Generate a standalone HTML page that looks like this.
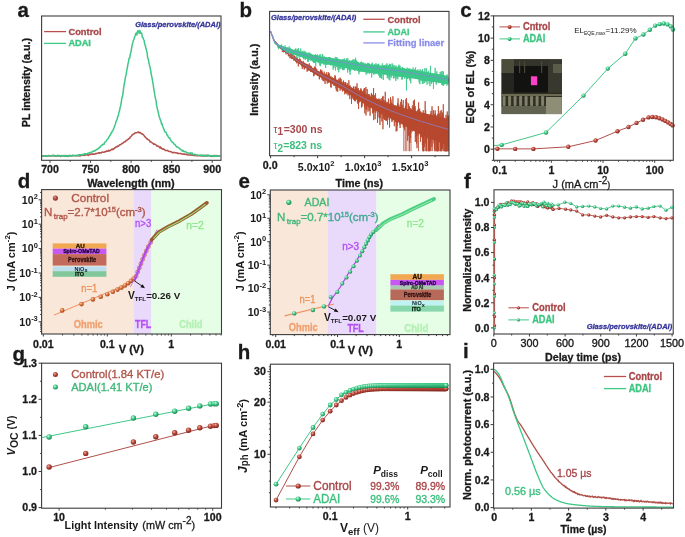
<!DOCTYPE html>
<html><head><meta charset="utf-8"><title>figure</title>
<style>svg{will-change:transform}html,body{margin:0;padding:0;background:#fff;width:685px;height:537px;overflow:hidden}text{font-family:"Liberation Sans",sans-serif}</style>
</head><body>
<svg width="685" height="537" viewBox="0 0 685 537" style="display:block;font-family:'Liberation Sans',sans-serif">
<defs>
<radialGradient id="gr" cx="0.38" cy="0.35" r="0.7"><stop offset="0" stop-color="#f0b0a0"/><stop offset="0.45" stop-color="#b8483c"/><stop offset="1" stop-color="#7a2018"/></radialGradient>
<radialGradient id="gg" cx="0.38" cy="0.35" r="0.7"><stop offset="0" stop-color="#d0ffe8"/><stop offset="0.45" stop-color="#40c888"/><stop offset="1" stop-color="#18804a"/></radialGradient>
<radialGradient id="go" cx="0.38" cy="0.35" r="0.7"><stop offset="0" stop-color="#ffd0b0"/><stop offset="0.45" stop-color="#d8703c"/><stop offset="1" stop-color="#984018"/></radialGradient>
<radialGradient id="gr2" cx="0.38" cy="0.35" r="0.7"><stop offset="0" stop-color="#e09080"/><stop offset="0.5" stop-color="#b04a40"/><stop offset="1" stop-color="#803028"/></radialGradient>
</defs>
<rect width="685" height="537" fill="#ffffff"/>
<polyline points="42.10,155.84 42.70,155.92 43.30,156.35 43.90,156.07 44.50,155.88 45.10,155.73 45.70,155.71 46.30,156.38 46.90,156.05 47.50,155.92 48.10,155.80 48.70,155.57 49.30,155.88 49.90,156.16 50.50,155.78 51.10,155.83 51.70,155.83 52.30,155.93 52.90,155.42 53.50,155.83 54.10,155.64 54.70,156.17 55.30,155.67 55.90,156.07 56.50,156.36 57.10,155.81 57.70,155.72 58.30,155.96 58.90,155.90 59.50,155.60 60.10,156.04 60.70,156.50 61.30,155.82 61.90,155.84 62.50,155.59 63.10,156.00 63.70,155.52 64.30,155.56 64.90,156.28 65.50,155.62 66.10,156.21 66.70,156.34 67.30,155.95 67.90,156.03 68.50,156.44 69.10,155.79 69.70,155.66 70.30,155.42 70.90,155.83 71.50,156.25 72.10,156.08 72.70,155.50 73.30,155.51 73.90,155.61 74.50,155.83 75.10,155.67 75.70,155.78 76.30,155.79 76.90,155.59 77.50,155.64 78.10,155.69 78.70,155.57 79.30,155.72 79.90,156.09 80.50,155.67 81.10,155.47 81.70,154.91 82.30,155.48 82.90,154.74 83.50,154.85 84.10,155.48 84.70,155.38 85.30,155.08 85.90,154.56 86.50,154.90 87.10,154.75 87.70,155.07 88.30,155.49 88.90,154.80 89.50,154.42 90.10,154.22 90.70,154.47 91.30,154.34 91.90,153.95 92.50,154.24 93.10,153.76 93.70,154.34 94.30,154.22 94.90,154.12 95.50,153.55 96.10,153.75 96.70,153.45 97.30,153.26 97.90,153.17 98.50,152.78 99.10,152.62 99.70,153.18 100.30,152.77 100.90,152.77 101.50,152.89 102.10,151.94 102.70,152.10 103.30,152.25 103.90,152.18 104.50,151.81 105.10,152.08 105.70,151.68 106.30,151.09 106.90,151.01 107.50,151.36 108.10,151.07 108.70,150.17 109.30,150.93 109.90,150.48 110.50,150.46 111.10,149.69 111.70,149.44 112.30,148.92 112.90,149.72 113.50,148.61 114.10,148.83 114.70,147.84 115.30,147.76 115.90,146.87 116.50,146.93 117.10,146.99 117.70,145.98 118.30,146.33 118.90,145.77 119.50,145.00 120.10,144.81 120.70,144.45 121.30,144.20 121.90,143.67 122.50,143.19 123.10,142.94 123.70,142.31 124.30,141.81 124.90,141.75 125.50,141.59 126.10,140.42 126.70,140.41 127.30,139.75 127.90,139.17 128.50,139.23 129.10,138.32 129.70,138.35 130.30,137.02 130.90,136.68 131.50,135.80 132.10,134.99 132.70,134.79 133.30,134.07 133.90,133.94 134.50,133.44 135.10,132.83 135.70,132.86 136.30,132.68 136.90,132.79 137.50,132.14 138.10,132.40 138.70,131.99 139.30,132.86 139.90,132.57 140.50,132.61 141.10,133.43 141.70,134.09 142.30,133.66 142.90,134.29 143.50,134.99 144.10,135.53 144.70,136.68 145.30,137.01 145.90,137.68 146.50,138.65 147.10,138.75 147.70,139.59 148.30,139.65 148.90,140.05 149.50,140.32 150.10,141.88 150.70,141.67 151.30,142.27 151.90,142.61 152.50,143.08 153.10,143.45 153.70,144.40 154.30,143.90 154.90,144.12 155.50,144.65 156.10,144.91 156.70,145.89 157.30,146.26 157.90,146.07 158.50,146.28 159.10,146.93 159.70,147.79 160.30,146.86 160.90,148.19 161.50,148.03 162.10,148.97 162.70,148.64 163.30,149.17 163.90,149.08 164.50,149.51 165.10,150.47 165.70,150.55 166.30,150.41 166.90,150.48 167.50,150.37 168.10,151.00 168.70,151.28 169.30,151.43 169.90,151.59 170.50,151.43 171.10,151.90 171.70,152.05 172.30,152.59 172.90,152.89 173.50,152.42 174.10,152.36 174.70,152.69 175.30,152.65 175.90,152.72 176.50,153.04 177.10,152.85 177.70,153.46 178.30,153.35 178.90,153.56 179.50,153.54 180.10,153.48 180.70,153.51 181.30,153.83 181.90,153.84 182.50,154.17 183.10,154.20 183.70,153.89 184.30,154.41 184.90,154.08 185.50,154.39 186.10,154.57 186.70,154.11 187.30,154.84 187.90,154.93 188.50,154.90 189.10,154.88 189.70,154.96 190.30,154.83 190.90,155.09 191.50,155.06 192.10,155.30 192.70,154.96 193.30,155.44 193.90,155.45 194.50,155.41 195.10,155.36 195.70,155.70 196.30,155.07 196.90,155.74 197.50,155.70 198.10,155.74 198.70,155.79 199.30,155.50 199.90,155.64 200.50,155.92 201.10,155.87 201.70,155.82 202.30,155.32 202.90,155.94 203.50,156.15 204.10,156.11 204.70,155.89 205.30,155.36 205.90,156.12 206.50,155.80 207.10,155.10 207.70,155.98 208.30,155.43 208.90,155.49 209.50,155.69 210.10,156.27 210.70,155.78 211.30,155.98 211.90,156.42 212.50,156.38 213.10,155.87 213.70,155.83 214.30,155.52 214.90,155.69 215.50,156.03 216.10,156.02 216.70,155.93 217.30,156.20 217.90,155.67 218.50,155.88 219.10,156.12 219.70,156.08 220.30,156.22" fill="none" stroke="#b5504a" stroke-width="1.5" stroke-linejoin="round"/>
<polyline points="42.10,155.90 42.70,155.99 43.30,155.82 43.90,155.63 44.50,155.76 45.10,155.60 45.70,155.92 46.30,156.30 46.90,155.75 47.50,155.71 48.10,156.05 48.70,156.01 49.30,155.93 49.90,155.62 50.50,155.89 51.10,156.11 51.70,155.50 52.30,155.76 52.90,155.33 53.50,155.51 54.10,155.35 54.70,155.83 55.30,155.52 55.90,155.98 56.50,155.95 57.10,155.84 57.70,155.14 58.30,155.74 58.90,155.89 59.50,155.93 60.10,155.44 60.70,155.76 61.30,155.61 61.90,155.66 62.50,156.22 63.10,155.66 63.70,155.89 64.30,156.16 64.90,155.72 65.50,155.85 66.10,155.91 66.70,155.88 67.30,155.48 67.90,155.85 68.50,156.22 69.10,155.32 69.70,156.02 70.30,155.77 70.90,155.51 71.50,156.27 72.10,155.86 72.70,155.23 73.30,155.58 73.90,155.69 74.50,155.42 75.10,155.64 75.70,155.37 76.30,155.55 76.90,155.74 77.50,155.05 78.10,155.27 78.70,155.01 79.30,155.14 79.90,154.67 80.50,154.78 81.10,154.81 81.70,155.05 82.30,155.02 82.90,154.15 83.50,154.19 84.10,154.51 84.70,153.55 85.30,153.88 85.90,153.84 86.50,154.11 87.10,153.77 87.70,153.28 88.30,153.10 88.90,152.96 89.50,153.34 90.10,152.53 90.70,152.36 91.30,152.35 91.90,151.95 92.50,151.67 93.10,151.09 93.70,151.17 94.30,150.71 94.90,150.94 95.50,150.43 96.10,149.84 96.70,149.72 97.30,148.98 97.90,149.08 98.50,148.30 99.10,148.09 99.70,146.98 100.30,147.12 100.90,145.89 101.50,145.23 102.10,145.33 102.70,144.52 103.30,144.32 103.90,144.49 104.50,142.62 105.10,142.00 105.70,141.60 106.30,140.96 106.90,139.90 107.50,139.07 108.10,138.61 108.70,137.67 109.30,136.09 109.90,135.58 110.50,134.67 111.10,133.15 111.70,132.67 112.30,130.98 112.90,130.63 113.50,128.96 114.10,127.53 114.70,125.73 115.30,124.45 115.90,121.83 116.50,120.60 117.10,119.67 117.70,116.39 118.30,116.09 118.90,112.23 119.50,111.24 120.10,107.50 120.70,105.69 121.30,102.24 121.90,97.91 122.50,96.31 123.10,92.56 123.70,87.50 124.30,83.77 124.90,80.53 125.50,76.57 126.10,75.22 126.70,70.64 127.30,68.06 127.90,64.40 128.50,61.68 129.10,58.22 129.70,58.07 130.30,54.00 130.90,52.51 131.50,48.79 132.10,45.34 132.70,43.20 133.30,40.62 133.90,39.25 134.50,37.19 135.10,36.03 135.70,33.56 136.30,33.10 136.90,35.04 137.50,31.49 138.10,30.52 138.70,32.00 139.30,33.47 139.90,30.56 140.50,32.82 141.10,33.31 141.70,33.11 142.30,37.23 142.90,37.60 143.50,39.32 144.10,40.40 144.70,44.07 145.30,45.51 145.90,48.62 146.50,50.32 147.10,52.90 147.70,58.15 148.30,58.99 148.90,62.57 149.50,65.13 150.10,67.70 150.70,70.67 151.30,74.80 151.90,77.15 152.50,80.54 153.10,84.01 153.70,88.49 154.30,91.98 154.90,95.67 155.50,98.61 156.10,101.20 156.70,105.80 157.30,108.68 157.90,110.68 158.50,113.62 159.10,116.05 159.70,118.10 160.30,119.98 160.90,120.97 161.50,123.72 162.10,123.85 162.70,126.48 163.30,127.74 163.90,129.29 164.50,131.07 165.10,132.10 165.70,132.01 166.30,132.86 166.90,135.03 167.50,135.16 168.10,136.54 168.70,137.81 169.30,137.61 169.90,138.27 170.50,140.08 171.10,140.78 171.70,141.42 172.30,142.26 172.90,142.60 173.50,143.02 174.10,144.19 174.70,144.49 175.30,144.82 175.90,146.18 176.50,146.48 177.10,147.14 177.70,147.09 178.30,147.64 178.90,147.95 179.50,148.40 180.10,149.17 180.70,149.21 181.30,149.97 181.90,150.32 182.50,151.23 183.10,150.39 183.70,151.47 184.30,151.43 184.90,151.73 185.50,151.52 186.10,152.08 186.70,152.70 187.30,152.64 187.90,152.88 188.50,152.94 189.10,153.58 189.70,153.38 190.30,152.86 190.90,153.50 191.50,153.25 192.10,153.00 192.70,154.00 193.30,154.72 193.90,154.45 194.50,154.19 195.10,154.38 195.70,155.12 196.30,154.92 196.90,154.97 197.50,155.02 198.10,155.11 198.70,155.40 199.30,155.37 199.90,155.32 200.50,154.98 201.10,155.50 201.70,155.18 202.30,155.77 202.90,155.09 203.50,155.48 204.10,155.56 204.70,155.20 205.30,156.15 205.90,156.11 206.50,155.56 207.10,155.96 207.70,155.87 208.30,155.00 208.90,155.88 209.50,155.81 210.10,155.87 210.70,155.54 211.30,155.79 211.90,155.83 212.50,156.25 213.10,156.00 213.70,155.90 214.30,156.36 214.90,155.73 215.50,155.78 216.10,155.35 216.70,156.37 217.30,156.19 217.90,156.18 218.50,156.10 219.10,155.93 219.70,155.96 220.30,155.82" fill="none" stroke="#3cc886" stroke-width="1.5" stroke-linejoin="round"/>
<rect x="41.6" y="16.0" width="179.4" height="144.3" fill="none" stroke="#3c3c3c" stroke-width="1.1"/>
<line x1="50.0" y1="160.3" x2="50.0" y2="162.8" stroke="#3c3c3c" stroke-width="1"/>
<line x1="90.55" y1="160.3" x2="90.55" y2="162.8" stroke="#3c3c3c" stroke-width="1"/>
<line x1="131.1" y1="160.3" x2="131.1" y2="162.8" stroke="#3c3c3c" stroke-width="1"/>
<line x1="171.64999999999998" y1="160.3" x2="171.64999999999998" y2="162.8" stroke="#3c3c3c" stroke-width="1"/>
<line x1="212.2" y1="160.3" x2="212.2" y2="162.8" stroke="#3c3c3c" stroke-width="1"/>
<line x1="70.275" y1="160.3" x2="70.275" y2="161.8" stroke="#3c3c3c" stroke-width="1"/>
<line x1="110.82499999999999" y1="160.3" x2="110.82499999999999" y2="161.8" stroke="#3c3c3c" stroke-width="1"/>
<line x1="151.375" y1="160.3" x2="151.375" y2="161.8" stroke="#3c3c3c" stroke-width="1"/>
<line x1="191.92499999999998" y1="160.3" x2="191.92499999999998" y2="161.8" stroke="#3c3c3c" stroke-width="1"/>
<text x="50.0" y="173.4" text-anchor="middle" style="font-size:10.6px;font-weight:bold;fill:#1a1a1a;stroke:#1a1a1a;stroke-width:0.3px;">700</text>
<text x="90.55" y="173.4" text-anchor="middle" style="font-size:10.6px;font-weight:bold;fill:#1a1a1a;stroke:#1a1a1a;stroke-width:0.3px;">750</text>
<text x="131.1" y="173.4" text-anchor="middle" style="font-size:10.6px;font-weight:bold;fill:#1a1a1a;stroke:#1a1a1a;stroke-width:0.3px;">800</text>
<text x="171.64999999999998" y="173.4" text-anchor="middle" style="font-size:10.6px;font-weight:bold;fill:#1a1a1a;stroke:#1a1a1a;stroke-width:0.3px;">850</text>
<text x="212.2" y="173.4" text-anchor="middle" style="font-size:10.6px;font-weight:bold;fill:#1a1a1a;stroke:#1a1a1a;stroke-width:0.3px;">900</text>
<text x="87.2" y="186.6" textLength="87.5" lengthAdjust="spacingAndGlyphs" style="font-size:11px;font-weight:bold;fill:#1a1a1a;stroke:#1a1a1a;stroke-width:0.3px;">Wavelength (nm)</text>
<text x="29.6" y="82.6" text-anchor="middle" textLength="89.5" lengthAdjust="spacingAndGlyphs" transform="rotate(-90 29.6 82.6)" style="font-size:11px;font-weight:bold;fill:#1a1a1a;stroke:#1a1a1a;stroke-width:0.3px;">PL intensity (a.u.)</text>
<line x1="44.1" y1="31.6" x2="66.1" y2="31.6" stroke="#b85050" stroke-width="1.3"/>
<line x1="44.1" y1="43.4" x2="66.1" y2="43.4" stroke="#40c888" stroke-width="1.3"/>
<text x="68.4" y="34.6" textLength="33.2" lengthAdjust="spacingAndGlyphs" style="font-size:9.6px;font-weight:bold;fill:#a8474a;stroke:#a8474a;stroke-width:0.3px;">Control</text>
<text x="68.4" y="46.4" textLength="22.5" lengthAdjust="spacingAndGlyphs" style="font-size:9.6px;font-weight:bold;fill:#3cc680;stroke:#3cc680;stroke-width:0.3px;">ADAI</text>
<text x="135.2" y="26.6" textLength="85.3" lengthAdjust="spacingAndGlyphs" style="font-size:8px;font-weight:bold;fill:#34349a;font-style:italic;stroke:#34349a;stroke-width:0.3px;">Glass/perovskite/(ADAI)</text>
<text x="17.4" y="16.7" style="font-size:20.5px;font-weight:bold;fill:#1a1a1a;stroke:#1a1a1a;stroke-width:0.3px;">a</text>
<polygon points="270.5,30.8 270.9,31.7 271.2,32.7 271.6,33.6 271.9,34.5 272.3,35.4 272.7,36.3 273.0,37.2 273.4,38.0 273.7,38.8 274.1,39.5 274.5,40.2 274.8,40.8 275.2,41.3 275.5,41.7 275.9,42.2 276.3,42.6 276.6,43.0 277.0,43.4 277.3,43.8 277.7,44.1 278.1,44.5 278.4,44.8 278.8,45.2 279.1,45.5 279.5,45.8 279.9,46.1 280.2,46.4 280.6,46.6 280.9,46.9 281.3,47.2 281.7,47.5 282.0,47.7 282.4,48.0 282.7,48.2 283.1,48.5 283.5,48.7 283.8,48.9 284.2,49.2 284.5,49.4 284.9,49.7 285.3,49.9 285.6,50.1 286.0,50.4 286.3,50.6 286.7,50.9 287.1,51.1 287.4,51.4 287.8,51.6 288.1,51.9 288.5,52.2 288.9,52.5 289.2,52.7 289.6,53.0 289.9,53.3 290.3,53.6 290.7,53.9 291.0,54.2 291.4,54.5 291.7,54.8 292.1,55.1 292.5,55.3 292.8,55.6 293.2,55.9 293.5,56.2 293.9,56.5 294.3,56.7 294.6,57.0 295.0,57.3 295.3,57.5 295.7,57.8 296.1,58.1 296.4,58.3 296.8,58.6 297.1,58.8 297.5,59.0 297.9,59.2 298.2,59.5 298.6,59.7 298.9,59.9 299.3,60.1 299.7,60.3 300.0,60.5 300.4,60.7 300.7,60.9 301.1,61.1 301.5,61.3 301.8,61.5 302.2,61.7 302.5,61.9 302.9,62.1 303.3,62.3 303.6,62.5 304.0,62.7 304.3,62.9 304.7,63.1 305.1,63.3 305.4,63.5 305.8,63.7 306.1,63.9 306.5,64.1 306.9,64.3 307.2,64.5 307.6,64.7 307.9,64.9 308.3,65.1 308.7,65.4 309.0,65.6 309.4,65.8 309.7,66.0 310.1,66.2 310.5,66.4 310.8,66.6 311.2,66.8 311.5,67.0 311.9,67.3 312.3,67.5 312.6,67.7 313.0,67.9 313.3,68.1 313.7,68.3 314.1,68.5 314.4,68.7 314.8,68.9 315.1,69.1 315.5,69.3 315.9,69.6 316.2,69.8 316.6,70.0 316.9,70.2 317.3,70.4 317.7,70.6 318.0,70.8 318.4,71.0 318.7,71.2 319.1,71.4 319.5,71.6 319.8,71.8 320.2,72.0 320.5,72.2 320.9,72.4 321.3,72.6 321.6,72.8 322.0,72.9 322.3,73.1 322.7,73.3 323.1,73.5 323.4,73.7 323.8,73.9 324.1,74.0 324.5,74.2 324.9,74.4 325.2,74.6 325.6,74.7 325.9,74.9 326.3,75.1 326.7,75.2 327.0,75.4 327.4,75.6 327.7,75.7 328.1,75.9 328.5,76.0 328.8,76.2 329.2,76.4 329.5,76.5 329.9,76.7 330.3,76.9 330.6,77.0 331.0,77.2 331.3,77.3 331.7,77.5 332.1,77.7 332.4,77.8 332.8,78.0 333.1,78.2 333.5,78.3 333.9,78.5 334.2,78.7 334.6,78.8 334.9,79.0 335.3,79.2 335.7,79.3 336.0,79.5 336.4,79.7 336.7,79.8 337.1,80.0 337.5,80.2 337.8,80.4 338.2,80.5 338.5,80.7 338.9,80.9 339.3,81.0 339.6,81.2 340.0,81.4 340.3,81.6 340.7,81.7 341.1,81.9 341.4,82.1 341.8,82.3 342.1,82.4 342.5,82.6 342.9,82.8 343.2,83.0 343.6,83.1 343.9,83.3 344.3,83.5 344.7,83.7 345.0,83.9 345.4,84.0 345.7,84.2 346.1,84.4 346.5,84.6 346.8,84.8 347.2,85.0 347.5,85.1 347.9,85.3 348.3,85.5 348.6,85.7 349.0,85.9 349.3,86.1 349.7,86.3 350.1,86.5 350.4,86.7 350.8,86.9 351.1,87.0 351.5,87.2 351.9,87.4 352.2,87.6 352.6,87.8 352.9,88.0 353.3,88.2 353.7,88.4 354.0,88.6 354.4,88.8 354.7,89.0 355.1,89.2 355.5,89.4 355.8,89.5 356.2,89.7 356.5,89.9 356.9,90.1 357.3,90.3 357.6,90.5 358.0,90.7 358.3,90.9 358.7,91.0 359.1,91.2 359.4,91.4 359.8,91.6 360.1,91.8 360.5,91.9 360.9,92.1 361.2,92.3 361.6,92.5 361.9,92.6 362.3,92.8 362.7,93.0 363.0,93.1 363.4,93.3 363.7,93.5 364.1,93.6 364.5,93.8 364.8,93.9 365.2,94.1 365.5,94.2 365.9,94.4 366.3,94.6 366.6,94.7 367.0,94.9 367.3,95.0 367.7,95.2 368.1,95.3 368.4,95.5 368.8,95.6 369.1,95.8 369.5,95.9 369.9,96.1 370.2,96.2 370.6,96.4 370.9,96.5 371.3,96.7 371.7,96.8 372.0,97.0 372.4,97.1 372.7,97.3 373.1,97.4 373.5,97.6 373.8,97.7 374.2,97.9 374.5,98.0 374.9,98.1 375.3,98.3 375.6,98.4 376.0,98.6 376.3,98.7 376.7,98.9 377.1,99.0 377.4,99.1 377.8,99.3 378.1,99.4 378.5,99.6 378.9,99.7 379.2,99.8 379.6,100.0 379.9,100.1 380.3,100.3 380.7,100.4 381.0,100.5 381.4,100.7 381.7,100.8 382.1,100.9 382.5,101.1 382.8,101.2 383.2,101.3 383.5,101.5 383.9,101.6 384.3,101.7 384.6,101.9 385.0,102.0 385.3,102.1 385.7,102.2 386.1,102.4 386.4,102.5 386.8,102.6 387.1,102.8 387.5,102.9 387.9,103.0 388.2,103.1 388.6,103.3 388.9,103.4 389.3,103.5 389.7,103.6 390.0,103.8 390.4,103.9 390.7,104.0 391.1,104.1 391.5,104.3 391.8,104.4 392.2,104.5 392.5,104.6 392.9,104.7 393.3,104.9 393.6,105.0 394.0,105.1 394.3,105.2 394.7,105.3 395.1,105.4 395.4,105.6 395.8,105.7 396.1,105.8 396.5,105.9 396.9,106.0 397.2,106.1 397.6,106.2 397.9,106.4 398.3,106.5 398.7,106.6 399.0,106.7 399.4,106.8 399.7,106.9 400.1,107.0 400.5,107.1 400.8,107.2 401.2,107.3 401.5,107.4 401.9,107.5 402.3,107.6 402.6,107.7 403.0,107.8 403.3,107.9 403.7,108.0 404.1,108.1 404.4,108.2 404.8,108.3 405.1,108.4 405.5,108.5 405.9,108.6 406.2,108.7 406.6,108.7 406.9,108.8 407.3,108.9 407.7,109.0 408.0,109.1 408.4,109.2 408.7,109.3 409.1,109.4 409.5,109.5 409.8,109.6 410.2,109.7 410.5,109.7 410.9,109.8 411.3,109.9 411.6,110.0 412.0,110.1 412.3,110.2 412.7,110.3 413.1,110.4 413.4,110.4 413.8,110.5 414.1,110.6 414.5,110.7 414.9,110.8 415.2,110.9 415.6,110.9 415.9,111.0 416.3,111.1 416.7,111.2 417.0,111.3 417.4,111.4 417.7,111.4 418.1,111.5 418.5,111.6 418.8,111.7 419.2,111.8 419.5,111.9 419.9,111.9 420.3,112.0 420.6,112.1 421.0,112.2 421.3,112.3 421.7,112.4 422.1,112.5 422.4,112.6 422.8,112.7 423.1,112.8 423.5,112.9 423.9,113.0 424.2,113.1 424.6,113.2 424.9,113.3 425.3,113.4 425.7,113.5 426.0,113.6 426.4,113.7 426.7,113.8 427.1,113.9 427.5,114.0 427.8,114.1 428.2,114.1 428.5,114.2 428.9,114.3 429.3,114.4 429.6,114.5 430.0,114.6 430.3,114.7 430.7,114.8 431.1,114.9 431.4,115.0 431.8,115.1 432.1,115.2 432.5,115.3 432.9,115.4 433.2,115.5 433.6,115.6 433.9,115.7 434.3,115.8 434.7,115.8 435.0,115.9 435.4,116.0 435.7,116.1 436.1,116.2 436.5,116.3 436.8,116.4 437.2,116.5 437.5,116.6 437.9,116.7 438.3,116.7 438.6,116.8 439.0,116.9 439.3,117.0 439.7,117.1 440.1,117.2 440.4,117.3 440.8,117.4 441.1,117.5 441.5,117.5 441.9,117.6 442.2,117.7 442.6,117.8 442.9,117.9 443.3,118.0 443.7,118.1 444.0,118.1 444.4,118.2 444.7,118.3 445.1,118.4 445.5,118.5 445.8,118.6 446.2,118.6 446.5,118.7 446.9,118.8 447.3,118.9 447.6,119.0 448.0,119.1 448.3,119.1 448.6,146.1 448.2,146.0 447.9,145.8 447.5,145.7 447.1,145.6 446.8,145.4 446.4,145.3 446.1,145.1 445.7,145.0 445.3,144.8 445.0,144.7 444.6,144.6 444.3,144.4 443.9,144.3 443.5,144.1 443.2,144.0 442.8,143.8 442.5,143.7 442.1,143.5 441.7,143.4 441.4,143.2 441.0,143.1 440.7,143.0 440.3,142.8 439.9,142.7 439.6,142.5 439.2,142.4 438.9,142.2 438.5,142.1 438.1,141.9 437.8,141.8 437.4,141.6 437.1,141.5 436.7,141.3 436.3,141.2 436.0,141.0 435.6,140.9 435.3,140.7 434.9,140.6 434.5,140.4 434.2,140.3 433.8,140.1 433.5,140.0 433.1,139.8 432.7,139.7 432.4,139.5 432.0,139.3 431.7,139.2 431.3,139.0 430.9,138.9 430.6,138.7 430.2,138.6 429.9,138.4 429.5,138.3 429.1,138.1 428.8,138.0 428.4,137.8 428.1,137.7 427.7,137.5 427.3,137.3 427.0,137.2 426.6,137.0 426.3,136.9 425.9,136.7 425.5,136.6 425.2,136.4 424.8,136.3 424.5,136.1 424.1,135.9 423.7,135.8 423.4,135.6 423.0,135.5 422.7,135.3 422.3,135.2 421.9,135.0 421.6,134.8 421.2,134.7 420.9,134.5 420.5,134.4 420.1,134.2 419.8,134.0 419.4,133.9 419.1,133.7 418.7,133.5 418.3,133.3 418.0,133.1 417.6,132.9 417.3,132.7 416.9,132.5 416.5,132.3 416.2,132.1 415.8,131.9 415.5,131.8 415.1,131.6 414.7,131.4 414.4,131.2 414.0,131.0 413.7,130.8 413.3,130.6 412.9,130.4 412.6,130.2 412.2,130.0 411.9,129.8 411.5,129.6 411.1,129.4 410.8,129.2 410.4,129.0 410.1,128.8 409.7,128.6 409.3,128.4 409.0,128.3 408.6,128.1 408.3,127.9 407.9,127.7 407.5,127.5 407.2,127.3 406.8,127.1 406.5,126.9 406.1,126.7 405.7,126.5 405.4,126.3 405.0,126.1 404.7,125.8 404.3,125.6 403.9,125.4 403.6,125.2 403.2,125.0 402.9,124.8 402.5,124.6 402.1,124.4 401.8,124.2 401.4,124.0 401.1,123.8 400.7,123.6 400.3,123.4 400.0,123.2 399.6,123.0 399.3,122.8 398.9,122.7 398.5,122.5 398.2,122.3 397.8,122.2 397.5,122.0 397.1,121.8 396.7,121.6 396.4,121.5 396.0,121.3 395.7,121.1 395.3,120.9 394.9,120.8 394.6,120.6 394.2,120.4 393.9,120.2 393.5,120.1 393.1,119.9 392.8,119.7 392.4,119.5 392.1,119.3 391.7,119.2 391.3,119.0 391.0,118.8 390.6,118.6 390.3,118.4 389.9,118.3 389.5,118.1 389.2,117.9 388.8,117.7 388.5,117.5 388.1,117.3 387.7,117.2 387.4,117.0 387.0,116.8 386.7,116.6 386.3,116.4 385.9,116.2 385.6,116.0 385.2,115.8 384.9,115.6 384.5,115.5 384.1,115.3 383.8,115.1 383.4,114.9 383.1,114.7 382.7,114.5 382.3,114.3 382.0,114.1 381.6,113.9 381.3,113.7 380.9,113.5 380.5,113.3 380.2,113.1 379.8,112.9 379.5,112.7 379.1,112.5 378.7,112.3 378.4,112.2 378.0,112.0 377.7,111.8 377.3,111.6 376.9,111.4 376.6,111.2 376.2,110.9 375.9,110.7 375.5,110.5 375.1,110.3 374.8,110.1 374.4,109.9 374.1,109.7 373.7,109.5 373.3,109.3 373.0,109.1 372.6,108.9 372.3,108.7 371.9,108.5 371.5,108.3 371.2,108.1 370.8,107.9 370.5,107.7 370.1,107.5 369.7,107.2 369.4,107.0 369.0,106.8 368.7,106.6 368.3,106.4 367.9,106.2 367.6,106.0 367.2,105.8 366.9,105.6 366.5,105.3 366.1,105.1 365.8,104.9 365.4,104.7 365.1,104.5 364.7,104.3 364.3,104.0 364.0,103.8 363.6,103.6 363.3,103.4 362.9,103.2 362.5,102.9 362.2,102.7 361.8,102.5 361.5,102.3 361.1,102.0 360.7,101.8 360.4,101.6 360.0,101.3 359.7,101.1 359.3,100.9 358.9,100.6 358.6,100.4 358.2,100.2 357.9,99.9 357.5,99.7 357.1,99.5 356.8,99.2 356.4,99.0 356.1,98.8 355.7,98.5 355.3,98.3 355.0,98.0 354.6,97.8 354.3,97.6 353.9,97.3 353.5,97.1 353.2,96.9 352.8,96.6 352.5,96.4 352.1,96.1 351.7,95.9 351.4,95.7 351.0,95.4 350.7,95.2 350.3,94.9 349.9,94.7 349.6,94.5 349.2,94.2 348.9,94.0 348.5,93.7 348.1,93.5 347.8,93.3 347.4,93.0 347.1,92.8 346.7,92.6 346.3,92.3 346.0,92.1 345.6,91.9 345.3,91.7 344.9,91.4 344.5,91.2 344.2,91.0 343.8,90.8 343.5,90.5 343.1,90.3 342.7,90.1 342.4,89.9 342.0,89.6 341.7,89.4 341.3,89.2 340.9,89.0 340.6,88.8 340.2,88.5 339.9,88.3 339.5,88.1 339.1,87.9 338.8,87.7 338.4,87.4 338.1,87.2 337.7,87.0 337.3,86.8 337.0,86.6 336.6,86.4 336.3,86.1 335.9,85.9 335.5,85.7 335.2,85.5 334.8,85.3 334.5,85.1 334.1,84.8 333.7,84.6 333.4,84.4 333.0,84.2 332.7,84.0 332.3,83.8 331.9,83.6 331.6,83.4 331.2,83.2 330.9,82.9 330.5,82.7 330.1,82.5 329.8,82.3 329.4,82.1 329.1,82.0 328.7,81.8 328.3,81.6 328.0,81.4 327.6,81.2 327.3,81.0 326.9,80.9 326.5,80.7 326.2,80.5 325.8,80.3 325.5,80.1 325.1,79.9 324.7,79.7 324.4,79.5 324.0,79.3 323.7,79.1 323.3,78.9 322.9,78.7 322.6,78.5 322.2,78.3 321.9,78.1 321.5,77.9 321.1,77.7 320.8,77.5 320.4,77.2 320.1,77.0 319.7,76.8 319.3,76.6 319.0,76.4 318.6,76.1 318.3,75.9 317.9,75.7 317.5,75.5 317.2,75.2 316.8,75.0 316.5,74.8 316.1,74.6 315.7,74.3 315.4,74.1 315.0,73.9 314.7,73.6 314.3,73.4 313.9,73.2 313.6,72.9 313.2,72.7 312.9,72.5 312.5,72.3 312.1,72.0 311.8,71.8 311.4,71.6 311.1,71.3 310.7,71.1 310.3,70.9 310.0,70.6 309.6,70.4 309.3,70.2 308.9,69.9 308.5,69.7 308.2,69.5 307.8,69.2 307.5,69.0 307.1,68.8 306.7,68.5 306.4,68.3 306.0,68.1 305.7,67.9 305.3,67.6 304.9,67.4 304.6,67.2 304.2,67.0 303.9,66.8 303.5,66.5 303.1,66.3 302.8,66.1 302.4,65.9 302.1,65.7 301.7,65.4 301.3,65.2 301.0,65.0 300.6,64.8 300.3,64.6 299.9,64.3 299.5,64.1 299.2,63.9 298.8,63.6 298.5,63.4 298.1,63.1 297.7,62.9 297.4,62.6 297.0,62.3 296.7,62.0 296.3,61.8 295.9,61.5 295.6,61.2 295.2,60.9 294.9,60.6 294.5,60.3 294.1,60.0 293.8,59.7 293.4,59.4 293.1,59.0 292.7,58.7 292.3,58.4 292.0,58.1 291.6,57.8 291.3,57.4 290.9,57.1 290.5,56.8 290.2,56.5 289.8,56.1 289.5,55.8 289.1,55.5 288.7,55.2 288.4,54.9 288.0,54.6 287.7,54.3 287.3,54.0 286.9,53.7 286.6,53.4 286.2,53.1 285.9,52.8 285.5,52.6 285.1,52.3 284.8,52.0 284.4,51.7 284.1,51.5 283.7,51.2 283.3,50.9 283.0,50.6 282.6,50.4 282.3,50.1 281.9,49.8 281.5,49.5 281.2,49.2 280.8,48.9 280.5,48.6 280.1,48.3 279.7,47.9 279.4,47.6 279.0,47.2 278.7,46.8 278.3,46.4 277.9,46.0 277.6,45.6 277.2,45.2 276.9,44.7 276.5,44.3 276.1,43.8 275.8,43.3 275.4,42.8 275.1,42.3 274.7,41.7 274.3,41.0 274.0,40.3 273.6,39.5 273.3,38.6 272.9,37.7 272.5,36.8 272.2,35.8 271.8,34.9 271.5,33.9 271.1,32.9 270.7,31.9" fill="#b8492f"/>
<polyline points="270.50,31.09 270.62,31.25 270.74,31.73 270.86,31.72 270.98,31.88 271.10,32.77 271.22,32.92 271.34,33.35 271.46,33.09 271.58,33.79 271.70,34.03 271.82,34.26 271.94,34.13 272.06,35.05 272.18,35.81 272.30,35.93 272.42,35.88 272.54,36.39 272.66,37.01 272.78,35.94 272.90,37.24 273.02,37.82 273.14,38.18 273.26,38.95 273.38,38.97 273.50,38.85 273.62,39.11 273.74,39.63 273.86,39.23 273.98,39.70 274.10,40.46 274.22,41.30 274.34,40.35 274.46,40.63 274.58,40.99 274.70,41.89 274.82,41.26 274.94,42.39 275.06,41.13 275.18,41.73 275.30,41.89 275.42,42.69 275.54,43.03 275.66,41.59 275.78,42.09 275.90,43.03 276.02,42.54 276.14,42.14 276.26,44.01 276.38,43.76 276.50,43.91 276.62,43.36 276.74,44.62 276.86,43.79 276.98,44.98 277.10,43.60 277.22,43.76 277.34,44.67 277.46,44.12 277.58,45.34 277.70,45.11 277.82,44.32 277.94,45.20 278.06,44.99 278.18,46.22 278.30,45.01 278.42,45.28 278.54,46.89 278.66,48.00 278.78,47.91 278.90,46.15 279.02,46.42 279.14,47.85 279.26,46.32 279.38,45.70 279.50,46.76 279.62,47.22 279.74,46.12 279.86,45.50 279.98,45.77 280.10,47.89 280.22,46.58 280.34,47.24 280.46,47.71 280.58,48.26 280.70,47.36 280.82,48.33 280.94,47.03 281.06,47.62 281.18,47.08 281.30,49.45 281.42,48.22 281.54,47.62 281.66,48.09 281.78,48.30 281.90,49.44 282.02,47.12 282.14,47.76 282.26,48.51 282.38,52.02 282.50,50.22 282.62,49.04 282.74,50.11 282.86,51.85 282.98,49.17 283.10,49.12 283.22,51.09 283.34,50.29 283.46,50.60 283.58,49.30 283.70,52.37 283.82,52.19 283.94,50.82 284.06,51.06 284.18,48.06 284.30,51.18 284.42,50.22 284.54,51.09 284.66,51.50 284.78,50.31 284.90,48.88 285.02,51.35 285.14,50.10 285.26,50.65 285.38,50.42 285.50,50.81 285.62,48.62 285.74,53.04 285.86,51.80 285.98,53.08 286.10,54.38 286.22,51.74 286.34,49.66 286.46,50.82 286.58,50.53 286.70,51.46 286.82,52.26 286.94,49.81 287.06,52.82 287.18,50.57 287.30,52.94 287.42,52.47 287.54,52.30 287.66,52.69 287.78,52.20 287.90,52.20 288.02,50.94 288.14,53.12 288.26,56.03 288.38,56.34 288.50,55.45 288.62,54.62 288.74,52.78 288.86,55.96 288.98,53.78 289.10,53.86 289.22,53.67 289.34,54.30 289.46,53.68 289.58,54.24 289.70,53.01 289.82,54.06 289.94,58.28 290.06,54.67 290.18,54.54 290.30,55.82 290.42,56.21 290.54,53.64 290.66,54.99 290.78,56.87 290.90,55.92 291.02,55.78 291.14,58.24 291.26,54.83 291.38,56.02 291.50,55.25 291.62,58.58 291.74,53.40 291.86,55.33 291.98,55.63 292.10,57.62 292.22,57.63 292.34,59.08 292.46,54.50 292.58,58.19 292.70,56.57 292.82,56.12 292.94,58.14 293.06,55.93 293.18,54.30 293.30,56.95 293.42,55.35 293.54,56.72 293.66,58.46 293.78,58.45 293.90,60.83 294.02,57.79 294.14,55.83 294.26,57.12 294.38,56.96 294.50,56.59 294.62,59.37 294.74,57.66 294.86,55.66 294.98,60.14 295.10,58.77 295.22,59.71 295.34,59.33 295.46,60.41 295.58,59.39 295.70,61.74 295.82,60.30 295.94,60.33 296.06,60.46 296.18,57.40 296.30,59.59 296.42,59.52 296.54,60.43 296.66,57.88 296.78,63.37 296.90,60.49 297.02,58.36 297.14,57.60 297.26,60.07 297.38,60.47 297.50,59.49 297.62,60.97 297.74,59.78 297.86,62.05 297.98,59.79 298.10,61.04 298.22,63.15 298.34,66.44 298.46,59.60 298.58,60.61 298.70,60.03 298.82,63.17 298.94,59.63 299.06,60.87 299.18,61.74 299.30,60.14 299.42,60.25 299.54,61.17 299.66,58.34 299.78,59.58 299.90,61.50 300.02,62.62 300.14,62.05 300.26,59.25 300.38,61.68 300.50,64.28 300.62,63.84 300.74,62.59 300.86,61.19 300.98,64.22 301.10,61.89 301.22,60.87 301.34,61.61 301.46,66.26 301.58,63.70 301.70,65.79 301.82,62.48 301.94,65.46 302.06,62.39 302.18,63.28 302.30,69.04 302.42,65.38 302.54,62.84 302.66,63.69 302.78,64.63 302.90,66.63 303.02,63.13 303.14,60.83 303.26,63.66 303.38,64.30 303.50,64.57 303.62,67.31 303.74,65.17 303.86,66.34 303.98,62.49 304.10,66.61 304.22,69.41 304.34,66.54 304.46,65.45 304.58,65.30 304.70,69.03 304.82,63.29 304.94,64.95 305.06,66.27 305.18,66.99 305.30,64.52 305.42,66.15 305.54,64.98 305.66,65.87 305.78,65.41 305.90,63.48 306.02,65.77 306.14,67.89 306.26,64.03 306.38,65.55 306.50,67.63 306.62,64.04 306.74,66.67 306.86,64.19 306.98,69.01 307.10,71.81 307.22,71.22 307.34,66.17 307.46,68.40 307.58,67.04 307.70,67.07 307.82,70.52 307.94,64.29 308.06,69.52 308.18,67.02 308.30,70.51 308.42,67.71 308.54,65.96 308.66,68.07 308.78,69.23 308.90,67.65 309.02,68.79 309.14,66.63 309.26,63.35 309.38,70.00 309.50,69.60 309.62,68.36 309.74,68.24 309.86,70.64 309.98,67.27 310.10,66.82 310.22,67.98 310.34,71.31 310.46,65.59 310.58,71.48 310.70,67.31 310.82,66.41 310.94,71.88 311.06,68.69 311.18,66.19 311.30,68.27 311.42,71.39 311.54,72.10 311.66,68.34 311.78,70.33 311.90,71.16 312.02,68.09 312.14,70.43 312.26,69.56 312.38,68.54 312.50,68.71 312.62,70.02 312.74,70.00 312.86,68.76 312.98,69.14 313.10,72.92 313.22,70.75 313.34,72.51 313.46,73.38 313.58,71.92 313.70,76.22 313.82,68.76 313.94,72.70 314.06,70.03 314.18,75.50 314.30,75.18 314.42,66.59 314.54,68.86 314.66,72.79 314.78,73.18 314.90,73.12 315.02,71.16 315.14,72.56 315.26,73.14 315.38,71.36 315.50,74.25 315.62,66.56 315.74,73.39 315.86,69.48 315.98,74.38 316.10,71.45 316.22,70.02 316.34,73.09 316.46,70.10 316.58,70.17 316.70,68.73 316.82,72.35 316.94,73.78 317.06,75.22 317.18,72.30 317.30,75.44 317.42,72.82 317.54,72.62 317.66,74.42 317.78,75.77 317.90,72.26 318.02,72.55 318.14,72.82 318.26,73.49 318.38,71.22 318.50,76.14 318.62,72.53 318.74,74.78 318.86,71.67 318.98,74.65 319.10,74.81 319.22,72.83 319.34,79.32 319.46,74.96 319.58,78.81 319.70,76.69 319.82,72.59 319.94,73.33 320.06,75.49 320.18,74.55 320.30,74.59 320.42,73.83 320.54,70.22 320.66,74.11 320.78,69.35 320.90,75.81 321.02,73.10 321.14,73.19 321.26,74.46 321.38,75.81 321.50,71.63 321.62,70.92 321.74,72.65 321.86,70.32 321.98,73.02 322.10,79.86 322.22,72.93 322.34,77.41 322.46,72.27 322.58,76.56 322.70,75.01 322.82,75.72 322.94,77.52 323.06,80.90 323.18,76.60 323.30,76.47 323.42,73.75 323.54,77.89 323.66,75.70 323.78,78.72 323.90,76.34 324.02,81.42 324.14,71.57 324.26,75.89 324.38,79.20 324.50,75.87 324.62,74.81 324.74,76.21 324.86,73.43 324.98,77.35 325.10,84.03 325.22,80.40 325.34,74.35 325.46,75.01 325.58,76.27 325.70,80.25 325.82,75.31 325.94,75.71 326.06,80.09 326.18,80.10 326.30,76.69 326.42,74.82 326.54,73.75 326.66,76.02 326.78,72.09 326.90,80.13 327.02,76.36 327.14,79.47 327.26,83.58 327.38,81.61 327.50,75.22 327.62,80.84 327.74,81.75 327.86,76.44 327.98,75.95 328.10,78.24 328.22,74.35 328.34,82.98 328.46,72.32 328.58,75.82 328.70,78.10 328.82,78.27 328.94,79.42 329.06,79.79 329.18,78.47 329.30,82.49 329.42,73.42 329.54,79.22 329.66,77.36 329.78,79.74 329.90,80.06 330.02,76.99 330.14,77.78 330.26,81.97 330.38,80.69 330.50,77.84 330.62,85.97 330.74,86.87 330.86,75.86 330.98,80.87 331.10,87.72 331.22,82.48 331.34,80.81 331.46,79.61 331.58,78.74 331.70,79.72 331.82,78.83 331.94,82.77 332.06,79.37 332.18,79.31 332.30,77.21 332.42,80.54 332.54,78.19 332.66,80.29 332.78,84.20 332.90,82.10 333.02,82.62 333.14,82.20 333.26,81.31 333.38,80.81 333.50,80.35 333.62,83.78 333.74,78.20 333.86,85.82 333.98,81.61 334.10,79.35 334.22,80.18 334.34,79.68 334.46,82.28 334.58,79.67 334.70,85.67 334.82,79.60 334.94,75.19 335.06,79.87 335.18,76.08 335.30,82.07 335.42,85.83 335.54,84.51 335.66,78.31 335.78,80.12 335.90,88.58 336.02,83.66 336.14,82.65 336.26,86.33 336.38,91.21 336.50,87.30 336.62,83.37 336.74,84.18 336.86,85.16 336.98,81.17 337.10,79.83 337.22,83.39 337.34,80.30 337.46,83.14 337.58,83.74 337.70,91.75 337.82,80.83 337.94,83.21 338.06,83.13 338.18,85.28 338.30,87.53 338.42,82.28 338.54,81.28 338.66,78.70 338.78,81.06 338.90,86.05 339.02,84.34 339.14,80.94 339.26,83.09 339.38,84.48 339.50,86.28 339.62,82.55 339.74,83.74 339.86,78.64 339.98,80.90 340.10,90.76 340.22,77.57 340.34,83.77 340.46,85.77 340.58,83.77 340.70,82.38 340.82,84.94 340.94,85.20 341.06,85.00 341.18,79.02 341.30,84.91 341.42,82.58 341.54,83.68 341.66,86.47 341.78,88.12 341.90,89.18 342.02,84.11 342.14,89.43 342.26,90.46 342.38,90.40 342.50,91.45 342.62,85.63 342.74,85.59 342.86,89.48 342.98,81.58 343.10,87.22 343.22,84.61 343.34,85.24 343.46,80.48 343.58,83.53 343.70,86.65 343.82,90.32 343.94,90.79 344.06,86.64 344.18,86.32 344.30,84.10 344.42,88.73 344.54,86.30 344.66,89.69 344.78,94.39 344.90,87.27 345.02,82.06 345.14,84.42 345.26,82.32 345.38,83.32 345.50,93.06 345.62,88.72 345.74,82.32 345.86,90.61 345.98,93.19 346.10,86.75 346.22,85.65 346.34,86.96 346.46,89.45 346.58,91.00 346.70,93.34 346.82,93.54 346.94,93.51 347.06,94.33 347.18,91.46 347.30,83.03 347.42,88.33 347.54,90.22 347.66,87.52 347.78,92.90 347.90,87.74 348.02,85.67 348.14,95.41 348.26,92.16 348.38,90.32 348.50,93.43 348.62,94.09 348.74,91.06 348.86,80.25 348.98,87.14 349.10,88.05 349.22,86.08 349.34,90.81 349.46,95.22 349.58,88.21 349.70,85.75 349.82,99.13 349.94,88.54 350.06,85.56 350.18,91.49 350.30,92.40 350.42,87.82 350.54,94.16 350.66,88.81 350.78,87.16 350.90,91.67 351.02,94.39 351.14,88.50 351.26,92.57 351.38,90.78 351.50,103.95 351.62,88.47 351.74,97.63 351.86,91.23 351.98,91.00 352.10,94.87 352.22,95.73 352.34,97.51 352.46,93.30 352.58,89.44 352.70,89.76 352.82,94.36 352.94,94.76 353.06,98.61 353.18,94.16 353.30,97.21 353.42,99.41 353.54,93.21 353.66,86.39 353.78,87.72 353.90,86.71 354.02,100.18 354.14,89.28 354.26,98.66 354.38,95.70 354.50,101.10 354.62,97.82 354.74,92.73 354.86,92.39 354.98,93.70 355.10,94.20 355.22,91.20 355.34,93.37 355.46,101.28 355.58,86.44 355.70,94.96 355.82,89.94 355.94,94.77 356.06,97.99 356.18,93.76 356.30,97.82 356.42,87.33 356.54,99.59 356.66,91.69 356.78,97.39 356.90,95.32 357.02,83.33 357.14,91.30 357.26,95.72 357.38,102.35 357.50,96.19 357.62,96.12 357.74,88.75 357.86,102.07 357.98,104.01 358.10,95.27 358.22,94.23 358.34,88.14 358.46,99.74 358.58,108.91 358.70,99.06 358.82,101.88 358.94,98.33 359.06,91.30 359.18,102.48 359.30,90.31 359.42,94.94 359.54,97.36 359.66,100.49 359.78,98.19 359.90,98.12 360.02,92.79 360.14,90.47 360.26,96.66 360.38,93.20 360.50,90.55 360.62,90.80 360.74,94.38 360.86,88.24 360.98,90.59 361.10,89.33 361.22,97.83 361.34,99.08 361.46,107.53 361.58,90.17 361.70,94.00 361.82,102.02 361.94,96.26 362.06,95.82 362.18,106.48 362.30,95.89 362.42,92.13 362.54,91.44 362.66,99.45 362.78,99.35 362.90,91.34 363.02,93.21 363.14,100.79 363.26,101.09 363.38,94.99 363.50,101.48 363.62,101.27 363.74,89.74 363.86,96.79 363.98,100.62 364.10,95.66 364.22,88.23 364.34,97.16 364.46,102.74 364.58,107.41 364.70,88.15 364.82,113.32 364.94,93.37 365.06,104.24 365.18,105.86 365.30,104.52 365.42,99.91 365.54,93.46 365.66,102.72 365.78,95.75 365.90,86.95 366.02,115.45 366.14,103.46 366.26,109.86 366.38,95.05 366.50,108.02 366.62,108.80 366.74,108.67 366.86,99.68 366.98,93.86 367.10,99.02 367.22,88.97 367.34,91.52 367.46,100.61 367.58,95.17 367.70,99.37 367.82,99.71 367.94,111.66 368.06,108.01 368.18,100.21 368.30,107.64 368.42,96.60 368.54,98.90 368.66,106.08 368.78,94.40 368.90,99.36 369.02,94.10 369.14,101.61 369.26,110.76 369.38,97.16 369.50,102.44 369.62,96.52 369.74,95.27 369.86,94.87 369.98,110.15 370.10,115.74 370.22,104.37 370.34,97.76 370.46,105.86 370.58,99.86 370.70,106.58 370.82,103.51 370.94,103.50 371.06,105.59 371.18,98.85 371.30,99.82 371.42,92.93 371.54,99.73 371.66,94.60 371.78,101.41 371.90,97.16 372.02,102.93 372.14,105.20 372.26,94.84 372.38,98.13 372.50,97.48 372.62,107.31 372.74,113.46 372.86,108.10 372.98,100.87 373.10,112.15 373.22,94.70 373.34,112.52 373.46,99.43 373.58,87.97 373.70,120.15 373.82,113.32 373.94,97.59 374.06,104.35 374.18,102.15 374.30,104.04 374.42,95.31 374.54,99.75 374.66,106.60 374.78,105.06 374.90,111.51 375.02,104.23 375.14,119.22 375.26,99.86 375.38,105.59 375.50,93.31 375.62,97.03 375.74,112.86 375.86,98.85 375.98,107.69 376.10,103.87 376.22,98.42 376.34,102.37 376.46,101.49 376.58,101.70 376.70,109.56 376.82,108.94 376.94,101.34 377.06,99.53 377.18,106.62 377.30,104.20 377.42,111.81 377.54,122.96 377.66,110.68 377.78,104.79 377.90,104.06 378.02,100.20 378.14,99.96 378.26,99.45 378.38,102.99 378.50,102.86 378.62,110.51 378.74,103.12 378.86,104.34 378.98,98.49 379.10,117.03 379.22,109.17 379.34,118.19 379.46,111.32 379.58,116.24 379.70,104.41 379.82,110.95 379.94,125.02 380.06,98.85 380.18,114.38 380.30,118.14 380.42,109.16 380.54,111.67 380.66,115.39 380.78,102.38 380.90,109.37 381.02,101.19 381.14,102.40 381.26,102.80 381.38,105.74 381.50,107.74 381.62,110.05 381.74,98.11 381.86,121.47 381.98,115.44 382.10,112.32 382.22,104.78 382.34,106.48 382.46,111.17 382.58,110.21 382.70,96.80 382.82,112.80 382.94,129.22 383.06,95.88 383.18,114.90 383.30,110.24 383.42,106.81 383.54,117.96 383.66,100.21 383.78,108.90 383.90,118.87 384.02,106.52 384.14,105.18 384.26,108.75 384.38,105.11 384.50,119.87 384.62,102.28 384.74,114.81 384.86,100.18 384.98,113.36 385.10,107.56 385.22,91.81 385.34,108.29 385.46,101.56 385.58,105.59 385.70,120.51 385.82,101.37 385.94,101.77 386.06,119.95 386.18,109.60 386.30,120.89 386.42,111.34 386.54,103.13 386.66,108.46 386.78,118.69 386.90,116.47 387.02,109.05 387.14,109.48 387.26,108.41 387.38,105.42 387.50,124.70 387.62,109.35 387.74,101.94 387.86,106.27 387.98,115.29 388.10,114.67 388.22,108.64 388.34,105.19 388.46,109.84 388.58,98.63 388.70,101.13 388.82,116.29 388.94,106.67 389.06,112.95 389.18,119.90 389.30,115.31 389.42,110.21 389.54,127.56 389.66,115.63 389.78,107.82 389.90,116.28 390.02,113.66 390.14,104.59 390.26,110.99 390.38,109.33 390.50,97.23 390.62,109.37 390.74,108.67 390.86,107.67 390.98,99.54 391.10,108.33 391.22,110.51 391.34,111.68 391.46,103.15 391.58,116.25 391.70,102.68 391.82,109.49 391.94,122.09 392.06,106.38 392.18,107.67 392.30,120.32 392.42,108.62 392.54,109.27 392.66,113.24 392.78,120.36 392.90,96.24 393.02,105.78 393.14,104.58 393.26,104.08 393.38,105.72 393.50,105.87 393.62,114.33 393.74,105.61 393.86,112.89 393.98,115.35 394.10,106.84 394.22,113.11 394.34,126.20 394.46,114.87 394.58,107.66 394.70,111.71 394.82,105.79 394.94,114.62 395.06,119.83 395.18,106.59 395.30,110.93 395.42,122.18 395.54,108.99 395.66,114.19 395.78,105.35 395.90,106.84 396.02,109.05 396.14,131.50 396.26,109.93 396.38,109.13 396.50,108.94 396.62,111.76 396.74,118.65 396.86,114.65 396.98,130.96 397.10,114.96 397.22,125.78 397.34,115.61 397.46,118.53 397.58,103.12 397.70,112.43 397.82,112.88 397.94,111.70 398.06,98.24 398.18,121.28 398.30,110.81 398.42,110.49 398.54,111.83 398.66,112.07 398.78,117.35 398.90,104.72 399.02,107.18 399.14,116.46 399.26,115.21 399.38,111.26 399.50,109.89 399.62,108.06 399.74,113.67 399.86,124.74 399.98,106.56 400.10,127.96 400.22,121.90 400.34,111.04 400.46,121.48 400.58,103.77 400.70,101.87 400.82,105.11 400.94,111.55 401.06,112.20 401.18,110.86 401.30,115.59 401.42,99.06 401.54,119.37 401.66,104.36 401.78,109.97 401.90,111.84 402.02,106.39 402.14,104.83 402.26,107.56 402.38,114.97 402.50,120.72 402.62,120.53 402.74,107.78 402.86,109.33 402.98,108.40 403.10,119.66 403.22,100.10 403.34,127.41 403.46,111.80 403.58,109.59 403.70,118.85 403.82,125.69 403.94,118.98 404.06,126.03 404.18,117.03 404.30,127.92 404.42,128.15 404.54,115.07 404.66,130.23 404.78,117.56 404.90,116.83 405.02,108.95 405.14,113.83 405.26,123.94 405.38,106.04 405.50,122.76 405.62,119.76 405.74,119.08 405.86,99.24 405.98,115.53 406.10,123.04 406.22,110.50 406.34,117.39 406.46,98.00 406.58,123.51 406.70,111.41 406.82,125.71 406.94,102.25 407.06,123.96 407.18,114.89 407.30,125.30 407.42,109.55 407.54,112.00 407.66,140.70 407.78,110.40 407.90,111.41 408.02,114.85 408.14,108.97 408.26,129.90 408.38,135.72 408.50,111.59 408.62,103.48 408.74,129.98 408.86,129.36 408.98,126.31 409.10,130.02 409.22,110.48 409.34,116.13 409.46,106.38 409.58,106.13 409.70,128.44 409.82,112.22 409.94,142.96 410.06,118.55 410.18,112.57 410.30,126.72 410.42,138.00 410.54,123.34 410.66,108.00 410.78,122.15 410.90,133.54 411.02,114.01 411.14,111.75 411.26,129.68 411.38,119.77 411.50,109.13 411.62,115.12 411.74,112.05 411.86,121.74 411.98,119.63 412.10,131.69 412.22,126.66 412.34,105.50 412.46,123.26 412.58,129.01 412.70,123.93 412.82,130.69 412.94,114.09 413.06,110.76 413.18,129.71 413.30,109.86 413.42,100.69 413.54,131.03 413.66,112.82 413.78,116.38 413.90,107.19 414.02,107.83 414.14,109.28 414.26,116.06 414.38,123.61 414.50,99.66 414.62,128.32 414.74,109.20 414.86,110.21 414.98,127.59 415.10,118.75 415.22,106.26 415.34,142.01 415.46,112.12 415.58,122.58 415.70,122.04 415.82,137.02 415.94,115.73 416.06,132.18 416.18,113.32 416.30,133.72 416.42,113.20 416.54,116.71 416.66,143.59 416.78,123.90 416.90,121.35 417.02,148.20 417.14,124.60 417.26,112.94 417.38,129.42 417.50,109.80 417.62,134.53 417.74,135.59 417.86,115.23 417.98,114.78 418.10,122.61 418.22,120.58 418.34,111.78 418.46,127.78 418.58,102.39 418.70,116.70 418.82,116.99 418.94,118.19 419.06,124.65 419.18,109.74 419.30,128.42 419.42,119.16 419.54,114.99 419.66,108.59 419.78,110.26 419.90,125.67 420.02,112.29 420.14,121.85 420.26,135.09 420.38,134.76 420.50,141.81 420.62,118.48 420.74,111.39 420.86,134.81 420.98,125.39 421.10,136.29 421.22,121.49 421.34,137.36 421.46,132.74 421.58,131.05 421.70,128.24 421.82,126.87 421.94,124.70 422.06,124.64 422.18,134.98 422.30,117.02 422.42,145.15 422.54,120.78 422.66,135.12 422.78,121.00 422.90,119.61 423.02,149.49 423.14,119.11 423.26,110.31 423.38,115.49 423.50,119.15 423.62,151.20 423.74,124.95 423.86,134.95 423.98,113.02 424.10,127.07 424.22,131.49 424.34,147.06 424.46,115.95 424.58,130.69 424.70,126.59 424.82,113.06 424.94,122.32 425.06,120.10 425.18,101.14 425.30,130.90 425.42,130.14 425.54,118.63 425.66,110.36 425.78,143.35 425.90,126.50 426.02,137.01 426.14,142.55 426.26,118.08 426.38,134.30 426.50,120.74 426.62,122.43 426.74,122.25 426.86,123.07 426.98,138.79 427.10,124.90 427.22,121.77 427.34,120.66 427.46,128.09 427.58,114.97 427.70,118.66 427.82,122.89 427.94,118.14 428.06,122.35 428.18,117.78 428.30,151.20 428.42,142.49 428.54,130.01 428.66,123.13 428.78,151.20 428.90,128.33 429.02,122.93 429.14,128.13 429.26,128.21 429.38,144.11 429.50,123.71 429.62,151.20 429.74,115.67 429.86,134.01 429.98,114.61 430.10,150.34 430.22,121.00 430.34,123.60 430.46,137.58 430.58,142.44 430.70,113.76 430.82,121.02 430.94,111.14 431.06,126.37 431.18,123.44 431.30,121.14 431.42,117.99 431.54,120.85 431.66,117.47 431.78,132.34 431.90,146.87 432.02,106.32 432.14,123.59 432.26,120.75 432.38,132.02 432.50,115.74 432.62,123.44 432.74,114.97 432.86,135.22 432.98,126.42 433.10,123.44 433.22,130.51 433.34,122.70 433.46,110.24 433.58,134.00 433.70,129.46 433.82,123.72 433.94,139.94 434.06,143.48 434.18,114.83 434.30,117.85 434.42,148.57 434.54,146.70 434.66,118.36 434.78,114.14 434.90,119.39 435.02,120.76 435.14,110.34 435.26,126.10 435.38,113.33 435.50,114.03 435.62,139.60 435.74,119.17 435.86,125.11 435.98,135.39 436.10,138.23 436.22,122.65 436.34,126.62 436.46,117.99 436.58,151.20 436.70,135.98 436.82,115.39 436.94,126.18 437.06,137.08 437.18,133.54 437.30,151.20 437.42,147.34 437.54,121.05 437.66,125.46 437.78,113.89 437.90,130.25 438.02,128.76 438.14,151.20 438.26,128.01 438.38,106.11 438.50,120.01 438.62,128.35 438.74,114.36 438.86,118.19 438.98,123.13 439.10,132.07 439.22,125.16 439.34,118.10 439.46,139.15 439.58,121.59 439.70,122.02 439.82,113.40 439.94,119.26 440.06,137.25 440.18,111.14 440.30,126.39 440.42,138.42 440.54,123.44 440.66,130.97 440.78,116.21 440.90,147.95 441.02,144.70 441.14,131.05 441.26,110.02 441.38,117.06 441.50,142.93 441.62,151.20 441.74,132.21 441.86,147.38 441.98,121.54 442.10,125.72 442.22,127.65 442.34,134.42 442.46,112.52 442.58,142.79 442.70,148.95 442.82,116.38 442.94,114.35 443.06,133.50 443.18,121.38 443.30,104.31 443.42,140.99 443.54,130.51 443.66,123.28 443.78,151.20 443.90,130.35 444.02,120.61 444.14,129.81 444.26,117.80 444.38,120.61 444.50,134.54 444.62,122.75 444.74,123.81 444.86,151.20 444.98,142.41 445.10,141.53 445.22,137.10 445.34,136.42 445.46,151.20 445.58,128.37 445.70,151.20 445.82,119.05 445.94,126.10 446.06,114.80 446.18,125.27 446.30,137.30 446.42,151.20 446.54,122.13 446.66,128.95 446.78,125.27 446.90,121.46 447.02,116.93 447.14,130.00 447.26,111.48 447.38,130.89 447.50,129.44 447.62,122.45 447.74,118.90 447.86,115.14 447.98,151.20 448.10,115.62 448.22,151.20 448.34,139.35 448.46,125.65 448.58,117.60" fill="none" stroke="#b8492f" stroke-width="0.8" stroke-linejoin="round"/>
<line x1="403.8" y1="115.6" x2="403.8" y2="151.2" stroke="#b8492f" stroke-width="0.8"/>
<line x1="405.3" y1="116.1" x2="405.3" y2="151.2" stroke="#b8492f" stroke-width="0.8"/>
<line x1="406.8" y1="116.6" x2="406.8" y2="151.2" stroke="#b8492f" stroke-width="0.8"/>
<line x1="409.2" y1="117.4" x2="409.2" y2="151.2" stroke="#b8492f" stroke-width="0.8"/>
<line x1="409.3" y1="117.5" x2="409.3" y2="151.2" stroke="#b8492f" stroke-width="0.8"/>
<line x1="411.0" y1="118.1" x2="411.0" y2="151.2" stroke="#b8492f" stroke-width="0.8"/>
<line x1="418.5" y1="120.5" x2="418.5" y2="151.2" stroke="#b8492f" stroke-width="0.8"/>
<line x1="422.8" y1="121.8" x2="422.8" y2="151.2" stroke="#b8492f" stroke-width="0.8"/>
<line x1="422.9" y1="121.9" x2="422.9" y2="151.2" stroke="#b8492f" stroke-width="0.8"/>
<line x1="423.7" y1="122.1" x2="423.7" y2="151.2" stroke="#b8492f" stroke-width="0.8"/>
<line x1="423.9" y1="122.2" x2="423.9" y2="151.2" stroke="#b8492f" stroke-width="0.8"/>
<line x1="425.4" y1="122.6" x2="425.4" y2="151.2" stroke="#b8492f" stroke-width="0.8"/>
<line x1="426.4" y1="122.9" x2="426.4" y2="151.2" stroke="#b8492f" stroke-width="0.8"/>
<line x1="426.5" y1="123.0" x2="426.5" y2="151.2" stroke="#b8492f" stroke-width="0.8"/>
<line x1="427.1" y1="123.2" x2="427.1" y2="151.2" stroke="#b8492f" stroke-width="0.8"/>
<line x1="429.7" y1="124.0" x2="429.7" y2="151.2" stroke="#b8492f" stroke-width="0.8"/>
<line x1="430.3" y1="124.1" x2="430.3" y2="151.2" stroke="#b8492f" stroke-width="0.8"/>
<line x1="432.0" y1="124.7" x2="432.0" y2="151.2" stroke="#b8492f" stroke-width="0.8"/>
<line x1="432.1" y1="124.7" x2="432.1" y2="151.2" stroke="#b8492f" stroke-width="0.8"/>
<line x1="434.4" y1="125.4" x2="434.4" y2="151.2" stroke="#b8492f" stroke-width="0.8"/>
<line x1="434.8" y1="125.5" x2="434.8" y2="151.2" stroke="#b8492f" stroke-width="0.8"/>
<line x1="435.4" y1="125.7" x2="435.4" y2="151.2" stroke="#b8492f" stroke-width="0.8"/>
<line x1="435.9" y1="125.8" x2="435.9" y2="151.2" stroke="#b8492f" stroke-width="0.8"/>
<line x1="437.3" y1="126.2" x2="437.3" y2="151.2" stroke="#b8492f" stroke-width="0.8"/>
<line x1="437.8" y1="126.4" x2="437.8" y2="151.2" stroke="#b8492f" stroke-width="0.8"/>
<line x1="438.0" y1="126.4" x2="438.0" y2="151.2" stroke="#b8492f" stroke-width="0.8"/>
<line x1="438.7" y1="126.6" x2="438.7" y2="151.2" stroke="#b8492f" stroke-width="0.8"/>
<line x1="439.8" y1="127.0" x2="439.8" y2="151.2" stroke="#b8492f" stroke-width="0.8"/>
<line x1="440.3" y1="127.1" x2="440.3" y2="151.2" stroke="#b8492f" stroke-width="0.8"/>
<line x1="440.5" y1="127.2" x2="440.5" y2="151.2" stroke="#b8492f" stroke-width="0.8"/>
<line x1="440.8" y1="127.2" x2="440.8" y2="151.2" stroke="#b8492f" stroke-width="0.8"/>
<line x1="442.2" y1="127.6" x2="442.2" y2="151.2" stroke="#b8492f" stroke-width="0.8"/>
<line x1="444.3" y1="128.2" x2="444.3" y2="151.2" stroke="#b8492f" stroke-width="0.8"/>
<line x1="445.7" y1="128.6" x2="445.7" y2="151.2" stroke="#b8492f" stroke-width="0.8"/>
<line x1="445.9" y1="128.7" x2="445.9" y2="151.2" stroke="#b8492f" stroke-width="0.8"/>
<line x1="446.4" y1="128.8" x2="446.4" y2="151.2" stroke="#b8492f" stroke-width="0.8"/>
<line x1="446.5" y1="128.8" x2="446.5" y2="151.2" stroke="#b8492f" stroke-width="0.8"/>
<line x1="447.0" y1="129.0" x2="447.0" y2="151.2" stroke="#b8492f" stroke-width="0.8"/>
<line x1="447.4" y1="129.1" x2="447.4" y2="151.2" stroke="#b8492f" stroke-width="0.8"/>
<polygon points="270.5,30.8 270.9,31.8 271.2,32.9 271.6,34.0 271.9,35.1 272.3,36.1 272.7,37.1 273.0,38.1 273.4,39.0 273.7,39.8 274.1,40.6 274.5,41.2 274.8,41.8 275.2,42.2 275.5,42.5 275.9,42.8 276.3,43.1 276.6,43.3 277.0,43.6 277.3,43.8 277.7,44.0 278.1,44.3 278.4,44.5 278.8,44.7 279.1,44.8 279.5,45.0 279.9,45.2 280.2,45.4 280.6,45.5 280.9,45.7 281.3,45.8 281.7,46.0 282.0,46.1 282.4,46.3 282.7,46.4 283.1,46.5 283.5,46.6 283.8,46.7 284.2,46.9 284.5,47.0 284.9,47.1 285.3,47.2 285.6,47.3 286.0,47.4 286.3,47.5 286.7,47.6 287.1,47.7 287.4,47.8 287.8,47.9 288.1,48.1 288.5,48.2 288.9,48.3 289.2,48.4 289.6,48.5 289.9,48.6 290.3,48.8 290.7,48.9 291.0,49.0 291.4,49.1 291.7,49.2 292.1,49.3 292.5,49.4 292.8,49.5 293.2,49.6 293.5,49.7 293.9,49.8 294.3,49.9 294.6,50.0 295.0,50.1 295.3,50.2 295.7,50.3 296.1,50.4 296.4,50.5 296.8,50.6 297.1,50.6 297.5,50.7 297.9,50.8 298.2,50.9 298.6,51.0 298.9,51.1 299.3,51.1 299.7,51.2 300.0,51.3 300.4,51.4 300.7,51.5 301.1,51.6 301.5,51.7 301.8,51.8 302.2,51.9 302.5,52.0 302.9,52.1 303.3,52.2 303.6,52.3 304.0,52.4 304.3,52.5 304.7,52.6 305.1,52.7 305.4,52.8 305.8,52.8 306.1,52.9 306.5,53.0 306.9,53.1 307.2,53.2 307.6,53.3 307.9,53.4 308.3,53.5 308.7,53.6 309.0,53.7 309.4,53.7 309.7,53.8 310.1,53.9 310.5,54.0 310.8,54.1 311.2,54.2 311.5,54.3 311.9,54.4 312.3,54.4 312.6,54.5 313.0,54.6 313.3,54.7 313.7,54.8 314.1,54.8 314.4,54.9 314.8,55.0 315.1,55.1 315.5,55.2 315.9,55.2 316.2,55.3 316.6,55.4 316.9,55.5 317.3,55.6 317.7,55.6 318.0,55.7 318.4,55.8 318.7,55.9 319.1,55.9 319.5,56.0 319.8,56.1 320.2,56.2 320.5,56.2 320.9,56.3 321.3,56.4 321.6,56.4 322.0,56.5 322.3,56.6 322.7,56.6 323.1,56.7 323.4,56.8 323.8,56.8 324.1,56.9 324.5,57.0 324.9,57.0 325.2,57.1 325.6,57.2 325.9,57.2 326.3,57.3 326.7,57.3 327.0,57.4 327.4,57.5 327.7,57.5 328.1,57.6 328.5,57.6 328.8,57.7 329.2,57.7 329.5,57.8 329.9,57.9 330.3,57.9 330.6,58.0 331.0,58.0 331.3,58.1 331.7,58.1 332.1,58.2 332.4,58.2 332.8,58.3 333.1,58.3 333.5,58.4 333.9,58.4 334.2,58.5 334.6,58.6 334.9,58.6 335.3,58.7 335.7,58.7 336.0,58.8 336.4,58.8 336.7,58.9 337.1,58.9 337.5,59.0 337.8,59.0 338.2,59.1 338.5,59.1 338.9,59.2 339.3,59.2 339.6,59.3 340.0,59.3 340.3,59.4 340.7,59.4 341.1,59.5 341.4,59.5 341.8,59.6 342.1,59.7 342.5,59.7 342.9,59.8 343.2,59.8 343.6,59.9 343.9,59.9 344.3,60.0 344.7,60.1 345.0,60.1 345.4,60.2 345.7,60.2 346.1,60.3 346.5,60.4 346.8,60.4 347.2,60.5 347.5,60.5 347.9,60.6 348.3,60.7 348.6,60.7 349.0,60.8 349.3,60.9 349.7,60.9 350.1,61.0 350.4,61.0 350.8,61.1 351.1,61.2 351.5,61.2 351.9,61.3 352.2,61.4 352.6,61.4 352.9,61.5 353.3,61.6 353.7,61.6 354.0,61.7 354.4,61.8 354.7,61.8 355.1,61.9 355.5,61.9 355.8,62.0 356.2,62.1 356.5,62.1 356.9,62.2 357.3,62.3 357.6,62.3 358.0,62.4 358.3,62.5 358.7,62.5 359.1,62.6 359.4,62.7 359.8,62.7 360.1,62.8 360.5,62.8 360.9,62.9 361.2,63.0 361.6,63.0 361.9,63.1 362.3,63.1 362.7,63.2 363.0,63.3 363.4,63.3 363.7,63.4 364.1,63.4 364.5,63.5 364.8,63.5 365.2,63.6 365.5,63.6 365.9,63.7 366.3,63.8 366.6,63.8 367.0,63.9 367.3,63.9 367.7,64.0 368.1,64.0 368.4,64.1 368.8,64.1 369.1,64.2 369.5,64.2 369.9,64.3 370.2,64.3 370.6,64.4 370.9,64.4 371.3,64.4 371.7,64.5 372.0,64.5 372.4,64.6 372.7,64.6 373.1,64.7 373.5,64.7 373.8,64.8 374.2,64.8 374.5,64.8 374.9,64.9 375.3,64.9 375.6,65.0 376.0,65.0 376.3,65.1 376.7,65.1 377.1,65.1 377.4,65.2 377.8,65.2 378.1,65.3 378.5,65.3 378.9,65.4 379.2,65.4 379.6,65.4 379.9,65.5 380.3,65.5 380.7,65.6 381.0,65.6 381.4,65.6 381.7,65.7 382.1,65.7 382.5,65.8 382.8,65.8 383.2,65.8 383.5,65.9 383.9,65.9 384.3,66.0 384.6,66.0 385.0,66.1 385.3,66.1 385.7,66.1 386.1,66.2 386.4,66.2 386.8,66.3 387.1,66.3 387.5,66.4 387.9,66.4 388.2,66.4 388.6,66.5 388.9,66.5 389.3,66.6 389.7,66.6 390.0,66.7 390.4,66.7 390.7,66.8 391.1,66.8 391.5,66.9 391.8,66.9 392.2,66.9 392.5,67.0 392.9,67.0 393.3,67.1 393.6,67.1 394.0,67.2 394.3,67.2 394.7,67.3 395.1,67.3 395.4,67.4 395.8,67.4 396.1,67.5 396.5,67.5 396.9,67.6 397.2,67.6 397.6,67.7 397.9,67.7 398.3,67.8 398.7,67.8 399.0,67.9 399.4,67.9 399.7,68.0 400.1,68.0 400.5,68.1 400.8,68.1 401.2,68.2 401.5,68.3 401.9,68.3 402.3,68.4 402.6,68.4 403.0,68.5 403.3,68.5 403.7,68.6 404.1,68.6 404.4,68.7 404.8,68.7 405.1,68.8 405.5,68.8 405.9,68.9 406.2,68.9 406.6,69.0 406.9,69.0 407.3,69.1 407.7,69.1 408.0,69.2 408.4,69.2 408.7,69.3 409.1,69.4 409.5,69.4 409.8,69.5 410.2,69.5 410.5,69.6 410.9,69.6 411.3,69.7 411.6,69.7 412.0,69.8 412.3,69.8 412.7,69.9 413.1,70.0 413.4,70.0 413.8,70.1 414.1,70.1 414.5,70.2 414.9,70.2 415.2,70.3 415.6,70.3 415.9,70.4 416.3,70.5 416.7,70.5 417.0,70.6 417.4,70.6 417.7,70.7 418.1,70.7 418.5,70.8 418.8,70.8 419.2,70.9 419.5,71.0 419.9,71.0 420.3,71.1 420.6,71.1 421.0,71.2 421.3,71.2 421.7,71.3 422.1,71.4 422.4,71.4 422.8,71.5 423.1,71.5 423.5,71.6 423.9,71.7 424.2,71.7 424.6,71.8 424.9,71.8 425.3,71.9 425.7,71.9 426.0,72.0 426.4,72.1 426.7,72.1 427.1,72.2 427.5,72.2 427.8,72.3 428.2,72.4 428.5,72.4 428.9,72.5 429.3,72.5 429.6,72.6 430.0,72.7 430.3,72.7 430.7,72.8 431.1,72.8 431.4,72.9 431.8,73.0 432.1,73.0 432.5,73.1 432.9,73.1 433.2,73.2 433.6,73.3 433.9,73.3 434.3,73.4 434.7,73.5 435.0,73.5 435.4,73.6 435.7,73.6 436.1,73.7 436.5,73.8 436.8,73.8 437.2,73.9 437.5,74.0 437.9,74.0 438.3,74.1 438.6,74.1 439.0,74.2 439.3,74.3 439.7,74.3 440.1,74.4 440.4,74.5 440.8,74.5 441.1,74.6 441.5,74.7 441.9,74.7 442.2,74.8 442.6,74.8 442.9,74.9 443.3,75.0 443.7,75.0 444.0,75.1 444.4,75.2 444.7,75.2 445.1,75.3 445.5,75.4 445.8,75.4 446.2,75.5 446.5,75.6 446.9,75.6 447.3,75.7 447.6,75.8 448.0,75.8 448.3,75.9 448.6,84.5 448.2,84.5 447.9,84.4 447.5,84.3 447.1,84.3 446.8,84.2 446.4,84.1 446.1,84.1 445.7,84.0 445.3,83.9 445.0,83.9 444.6,83.8 444.3,83.7 443.9,83.7 443.5,83.6 443.2,83.5 442.8,83.5 442.5,83.4 442.1,83.3 441.7,83.3 441.4,83.2 441.0,83.2 440.7,83.1 440.3,83.0 439.9,83.0 439.6,82.9 439.2,82.8 438.9,82.8 438.5,82.7 438.1,82.7 437.8,82.6 437.4,82.5 437.1,82.5 436.7,82.4 436.3,82.3 436.0,82.3 435.6,82.2 435.3,82.2 434.9,82.1 434.5,82.0 434.2,82.0 433.8,81.9 433.5,81.8 433.1,81.8 432.7,81.7 432.4,81.7 432.0,81.6 431.7,81.5 431.3,81.5 430.9,81.4 430.6,81.4 430.2,81.3 429.9,81.2 429.5,81.2 429.1,81.1 428.8,81.1 428.4,81.0 428.1,80.9 427.7,80.9 427.3,80.8 427.0,80.8 426.6,80.7 426.3,80.7 425.9,80.6 425.5,80.5 425.2,80.5 424.8,80.4 424.5,80.4 424.1,80.3 423.7,80.2 423.4,80.2 423.0,80.1 422.7,80.1 422.3,80.0 421.9,80.0 421.6,79.9 421.2,79.8 420.9,79.8 420.5,79.7 420.1,79.7 419.8,79.6 419.4,79.6 419.1,79.5 418.7,79.4 418.3,79.4 418.0,79.3 417.6,79.3 417.3,79.2 416.9,79.2 416.5,79.1 416.2,79.1 415.8,79.0 415.5,78.9 415.1,78.9 414.7,78.8 414.4,78.8 414.0,78.7 413.7,78.7 413.3,78.6 412.9,78.6 412.6,78.5 412.2,78.5 411.9,78.4 411.5,78.3 411.1,78.3 410.8,78.2 410.4,78.2 410.1,78.1 409.7,78.1 409.3,78.0 409.0,78.0 408.6,77.9 408.3,77.9 407.9,77.8 407.5,77.8 407.2,77.7 406.8,77.7 406.5,77.6 406.1,77.6 405.7,77.5 405.4,77.4 405.0,77.4 404.7,77.3 404.3,77.3 403.9,77.2 403.6,77.2 403.2,77.1 402.9,77.1 402.5,77.0 402.1,77.0 401.8,76.9 401.4,76.9 401.1,76.8 400.7,76.8 400.3,76.7 400.0,76.7 399.6,76.6 399.3,76.6 398.9,76.5 398.5,76.5 398.2,76.4 397.8,76.4 397.5,76.3 397.1,76.3 396.7,76.2 396.4,76.2 396.0,76.1 395.7,76.1 395.3,76.0 394.9,76.0 394.6,75.9 394.2,75.9 393.9,75.8 393.5,75.8 393.1,75.7 392.8,75.7 392.4,75.6 392.1,75.6 391.7,75.5 391.3,75.5 391.0,75.4 390.6,75.4 390.3,75.4 389.9,75.3 389.5,75.3 389.2,75.2 388.8,75.2 388.5,75.1 388.1,75.1 387.7,75.0 387.4,75.0 387.0,75.0 386.7,74.9 386.3,74.9 385.9,74.8 385.6,74.8 385.2,74.7 384.9,74.7 384.5,74.7 384.1,74.6 383.8,74.6 383.4,74.5 383.1,74.5 382.7,74.5 382.3,74.4 382.0,74.4 381.6,74.3 381.3,74.3 380.9,74.3 380.5,74.2 380.2,74.2 379.8,74.1 379.5,74.1 379.1,74.1 378.7,74.0 378.4,74.0 378.0,73.9 377.7,73.9 377.3,73.8 376.9,73.8 376.6,73.8 376.2,73.7 375.9,73.7 375.5,73.6 375.1,73.6 374.8,73.6 374.4,73.5 374.1,73.5 373.7,73.4 373.3,73.4 373.0,73.3 372.6,73.3 372.3,73.3 371.9,73.2 371.5,73.2 371.2,73.1 370.8,73.1 370.5,73.0 370.1,73.0 369.7,72.9 369.4,72.9 369.0,72.8 368.7,72.8 368.3,72.7 367.9,72.7 367.6,72.6 367.2,72.6 366.9,72.5 366.5,72.5 366.1,72.4 365.8,72.4 365.4,72.3 365.1,72.3 364.7,72.2 364.3,72.2 364.0,72.1 363.6,72.0 363.3,72.0 362.9,71.9 362.5,71.9 362.2,71.8 361.8,71.8 361.5,71.7 361.1,71.6 360.7,71.6 360.4,71.5 360.0,71.5 359.7,71.4 359.3,71.3 358.9,71.2 358.6,71.1 358.2,71.0 357.9,71.0 357.5,70.9 357.1,70.8 356.8,70.7 356.4,70.6 356.1,70.5 355.7,70.5 355.3,70.4 355.0,70.3 354.6,70.2 354.3,70.1 353.9,70.0 353.5,69.9 353.2,69.9 352.8,69.8 352.5,69.7 352.1,69.6 351.7,69.5 351.4,69.4 351.0,69.4 350.7,69.3 350.3,69.2 349.9,69.1 349.6,69.0 349.2,68.9 348.9,68.9 348.5,68.8 348.1,68.7 347.8,68.6 347.4,68.5 347.1,68.4 346.7,68.4 346.3,68.3 346.0,68.2 345.6,68.1 345.3,68.0 344.9,68.0 344.5,67.9 344.2,67.8 343.8,67.7 343.5,67.7 343.1,67.6 342.7,67.5 342.4,67.4 342.0,67.3 341.7,67.3 341.3,67.2 340.9,67.1 340.6,67.1 340.2,67.0 339.9,66.9 339.5,66.8 339.1,66.8 338.8,66.7 338.4,66.6 338.1,66.5 337.7,66.5 337.3,66.4 337.0,66.3 336.6,66.3 336.3,66.2 335.9,66.1 335.5,66.0 335.2,66.0 334.8,65.9 334.5,65.8 334.1,65.8 333.7,65.7 333.4,65.6 333.0,65.5 332.7,65.5 332.3,65.4 331.9,65.3 331.6,65.2 331.2,65.2 330.9,65.1 330.5,65.0 330.1,65.0 329.8,64.9 329.4,64.8 329.1,64.7 328.7,64.7 328.3,64.6 328.0,64.5 327.6,64.4 327.3,64.3 326.9,64.3 326.5,64.2 326.2,64.1 325.8,64.0 325.5,63.9 325.1,63.9 324.7,63.8 324.4,63.7 324.0,63.6 323.7,63.5 323.3,63.4 322.9,63.3 322.6,63.3 322.2,63.2 321.9,63.1 321.5,63.0 321.1,62.9 320.8,62.8 320.4,62.7 320.1,62.6 319.7,62.5 319.3,62.4 319.0,62.4 318.6,62.3 318.3,62.2 317.9,62.1 317.5,62.0 317.2,61.9 316.8,61.8 316.5,61.7 316.1,61.6 315.7,61.5 315.4,61.4 315.0,61.3 314.7,61.2 314.3,61.1 313.9,61.0 313.6,60.9 313.2,60.8 312.9,60.7 312.5,60.6 312.1,60.5 311.8,60.4 311.4,60.3 311.1,60.2 310.7,60.1 310.3,59.9 310.0,59.8 309.6,59.7 309.3,59.6 308.9,59.5 308.5,59.4 308.2,59.3 307.8,59.2 307.5,59.1 307.1,59.0 306.7,58.9 306.4,58.7 306.0,58.6 305.7,58.5 305.3,58.4 304.9,58.3 304.6,58.2 304.2,58.1 303.9,58.0 303.5,57.8 303.1,57.7 302.8,57.6 302.4,57.5 302.1,57.4 301.7,57.3 301.3,57.1 301.0,57.0 300.6,56.9 300.3,56.8 299.9,56.7 299.5,56.5 299.2,56.4 298.8,56.3 298.5,56.1 298.1,56.0 297.7,55.9 297.4,55.7 297.0,55.6 296.7,55.5 296.3,55.3 295.9,55.2 295.6,55.1 295.2,54.9 294.9,54.8 294.5,54.6 294.1,54.5 293.8,54.3 293.4,54.2 293.1,54.0 292.7,53.9 292.3,53.7 292.0,53.6 291.6,53.4 291.3,53.3 290.9,53.1 290.5,53.0 290.2,52.8 289.8,52.6 289.5,52.5 289.1,52.3 288.7,52.1 288.4,52.0 288.0,51.8 287.7,51.6 287.3,51.5 286.9,51.3 286.6,51.2 286.2,51.0 285.9,50.9 285.5,50.7 285.1,50.6 284.8,50.4 284.4,50.2 284.1,50.1 283.7,49.9 283.3,49.7 283.0,49.6 282.6,49.4 282.3,49.2 281.9,49.0 281.5,48.8 281.2,48.6 280.8,48.4 280.5,48.2 280.1,48.0 279.7,47.8 279.4,47.5 279.0,47.3 278.7,47.0 278.3,46.7 277.9,46.4 277.6,46.1 277.2,45.8 276.9,45.5 276.5,45.1 276.1,44.8 275.8,44.4 275.4,44.0 275.1,43.6 274.7,43.0 274.3,42.4 274.0,41.6 273.6,40.8 273.3,39.8 272.9,38.8 272.5,37.7 272.2,36.6 271.8,35.5 271.5,34.3 271.1,33.2 270.7,32.0" fill="#3ec68a"/>
<polyline points="270.50,30.99 270.62,31.45 270.74,31.51 270.86,32.18 270.98,32.79 271.10,33.13 271.22,32.81 271.34,33.33 271.46,33.51 271.58,34.67 271.70,34.90 271.82,35.31 271.94,35.16 272.06,35.42 272.18,36.19 272.30,36.56 272.42,36.57 272.54,37.28 272.66,37.85 272.78,38.01 272.90,37.82 273.02,37.70 273.14,38.78 273.26,39.28 273.38,39.39 273.50,39.61 273.62,39.78 273.74,40.78 273.86,40.62 273.98,40.98 274.10,40.67 274.22,41.08 274.34,41.73 274.46,41.31 274.58,41.37 274.70,42.06 274.82,43.24 274.94,42.72 275.06,43.77 275.18,42.80 275.30,42.81 275.42,42.26 275.54,42.87 275.66,44.45 275.78,43.70 275.90,44.14 276.02,44.23 276.14,43.76 276.26,43.73 276.38,44.07 276.50,44.65 276.62,44.57 276.74,44.71 276.86,44.51 276.98,43.89 277.10,44.36 277.22,43.93 277.34,45.70 277.46,43.18 277.58,44.74 277.70,47.38 277.82,44.81 277.94,44.24 278.06,45.24 278.18,46.69 278.30,45.28 278.42,46.16 278.54,45.69 278.66,45.33 278.78,49.25 278.90,45.89 279.02,45.39 279.14,45.50 279.26,46.47 279.38,46.58 279.50,47.09 279.62,46.41 279.74,44.91 279.86,47.03 279.98,46.13 280.10,46.22 280.22,45.07 280.34,46.05 280.46,45.95 280.58,46.72 280.70,45.31 280.82,46.95 280.94,47.10 281.06,45.82 281.18,46.39 281.30,46.20 281.42,48.38 281.54,44.50 281.66,46.91 281.78,45.53 281.90,46.92 282.02,48.61 282.14,46.80 282.26,47.74 282.38,46.65 282.50,50.38 282.62,48.99 282.74,49.35 282.86,46.28 282.98,46.58 283.10,49.45 283.22,47.72 283.34,47.69 283.46,48.53 283.58,46.61 283.70,49.28 283.82,48.21 283.94,48.94 284.06,47.46 284.18,49.09 284.30,47.50 284.42,49.86 284.54,50.18 284.66,49.90 284.78,49.34 284.90,49.57 285.02,45.24 285.14,49.98 285.26,48.36 285.38,48.90 285.50,48.43 285.62,47.06 285.74,48.19 285.86,49.99 285.98,51.27 286.10,48.19 286.22,47.87 286.34,51.48 286.46,47.97 286.58,52.62 286.70,49.31 286.82,48.08 286.94,50.96 287.06,52.21 287.18,47.44 287.30,52.10 287.42,49.09 287.54,52.08 287.66,49.04 287.78,47.42 287.90,50.53 288.02,51.32 288.14,53.43 288.26,52.84 288.38,51.07 288.50,49.54 288.62,49.18 288.74,49.55 288.86,48.82 288.98,49.67 289.10,46.41 289.22,50.49 289.34,50.17 289.46,54.98 289.58,51.70 289.70,49.63 289.82,51.45 289.94,48.60 290.06,49.58 290.18,47.71 290.30,53.29 290.42,51.75 290.54,48.87 290.66,50.61 290.78,52.58 290.90,51.75 291.02,51.58 291.14,49.55 291.26,49.93 291.38,51.16 291.50,52.82 291.62,49.74 291.74,49.32 291.86,53.42 291.98,49.70 292.10,53.39 292.22,51.76 292.34,53.09 292.46,54.89 292.58,52.79 292.70,53.02 292.82,49.97 292.94,50.37 293.06,52.89 293.18,54.78 293.30,54.54 293.42,56.52 293.54,52.37 293.66,52.19 293.78,53.92 293.90,51.88 294.02,51.77 294.14,50.13 294.26,54.08 294.38,50.16 294.50,53.14 294.62,49.62 294.74,54.50 294.86,50.36 294.98,54.04 295.10,49.44 295.22,51.50 295.34,54.91 295.46,50.92 295.58,52.53 295.70,51.57 295.82,48.32 295.94,53.19 296.06,53.51 296.18,50.57 296.30,53.91 296.42,51.20 296.54,50.85 296.66,52.74 296.78,51.50 296.90,58.08 297.02,49.95 297.14,54.58 297.26,55.21 297.38,49.24 297.50,49.73 297.62,54.33 297.74,52.14 297.86,53.99 297.98,55.82 298.10,52.45 298.22,51.16 298.34,47.99 298.46,53.75 298.58,51.50 298.70,54.09 298.82,53.93 298.94,50.71 299.06,57.64 299.18,56.12 299.30,55.59 299.42,51.20 299.54,52.77 299.66,52.52 299.78,52.82 299.90,51.43 300.02,54.80 300.14,54.32 300.26,54.70 300.38,52.80 300.50,57.10 300.62,54.35 300.74,48.43 300.86,52.66 300.98,53.87 301.10,56.47 301.22,53.44 301.34,53.58 301.46,52.78 301.58,55.85 301.70,53.28 301.82,53.00 301.94,52.76 302.06,55.72 302.18,53.24 302.30,50.98 302.42,56.00 302.54,53.00 302.66,55.37 302.78,55.45 302.90,57.66 303.02,57.28 303.14,53.41 303.26,54.27 303.38,52.04 303.50,59.11 303.62,55.87 303.74,58.44 303.86,54.12 303.98,50.67 304.10,58.92 304.22,55.11 304.34,55.25 304.46,55.07 304.58,56.69 304.70,56.43 304.82,51.81 304.94,57.99 305.06,54.01 305.18,54.17 305.30,59.85 305.42,57.69 305.54,54.53 305.66,51.49 305.78,55.72 305.90,56.78 306.02,55.17 306.14,52.84 306.26,53.80 306.38,52.89 306.50,56.06 306.62,57.77 306.74,58.38 306.86,54.07 306.98,56.24 307.10,57.17 307.22,54.61 307.34,55.38 307.46,61.68 307.58,56.32 307.70,58.26 307.82,54.92 307.94,55.95 308.06,52.38 308.18,55.84 308.30,59.32 308.42,61.94 308.54,59.40 308.66,57.98 308.78,56.20 308.90,54.85 309.02,55.78 309.14,57.90 309.26,54.56 309.38,58.89 309.50,54.22 309.62,52.62 309.74,54.22 309.86,52.91 309.98,53.54 310.10,59.68 310.22,55.99 310.34,57.07 310.46,59.86 310.58,60.19 310.70,55.49 310.82,60.47 310.94,57.72 311.06,56.62 311.18,57.95 311.30,53.75 311.42,55.09 311.54,56.50 311.66,58.57 311.78,56.02 311.90,56.55 312.02,59.75 312.14,61.11 312.26,59.21 312.38,60.75 312.50,56.12 312.62,56.35 312.74,57.97 312.86,56.42 312.98,56.02 313.10,62.13 313.22,56.71 313.34,55.17 313.46,58.67 313.58,62.83 313.70,57.48 313.82,61.05 313.94,56.39 314.06,56.31 314.18,55.93 314.30,57.08 314.42,63.09 314.54,55.05 314.66,62.55 314.78,55.40 314.90,57.03 315.02,60.15 315.14,59.54 315.26,58.48 315.38,54.21 315.50,58.79 315.62,55.56 315.74,65.81 315.86,57.29 315.98,58.35 316.10,55.41 316.22,56.82 316.34,55.16 316.46,60.99 316.58,57.34 316.70,59.71 316.82,56.52 316.94,56.93 317.06,62.13 317.18,56.00 317.30,54.31 317.42,59.38 317.54,55.73 317.66,57.21 317.78,61.10 317.90,56.48 318.02,61.05 318.14,56.81 318.26,63.11 318.38,62.60 318.50,57.32 318.62,57.88 318.74,56.62 318.86,59.03 318.98,62.18 319.10,55.42 319.22,61.48 319.34,55.72 319.46,56.71 319.58,54.81 319.70,65.54 319.82,58.77 319.94,59.42 320.06,57.22 320.18,62.22 320.30,54.29 320.42,58.79 320.54,66.13 320.66,57.95 320.78,58.83 320.90,61.06 321.02,57.13 321.14,58.92 321.26,62.12 321.38,59.55 321.50,60.18 321.62,58.21 321.74,60.04 321.86,59.18 321.98,63.98 322.10,61.51 322.22,58.55 322.34,53.96 322.46,61.57 322.58,61.73 322.70,57.23 322.82,54.99 322.94,56.81 323.06,62.43 323.18,57.01 323.30,58.30 323.42,60.06 323.54,63.58 323.66,59.30 323.78,59.15 323.90,58.23 324.02,65.11 324.14,63.16 324.26,59.25 324.38,56.54 324.50,57.83 324.62,61.56 324.74,58.02 324.86,62.71 324.98,60.86 325.10,60.64 325.22,61.94 325.34,61.42 325.46,57.87 325.58,59.00 325.70,68.06 325.82,57.18 325.94,58.75 326.06,63.59 326.18,59.46 326.30,58.10 326.42,57.04 326.54,61.79 326.66,63.56 326.78,64.96 326.90,60.11 327.02,63.73 327.14,57.78 327.26,60.59 327.38,58.57 327.50,60.65 327.62,62.78 327.74,63.97 327.86,57.98 327.98,64.75 328.10,59.11 328.22,57.97 328.34,59.80 328.46,57.08 328.58,60.21 328.70,61.29 328.82,59.81 328.94,62.24 329.06,59.61 329.18,60.31 329.30,57.26 329.42,60.49 329.54,58.55 329.66,59.42 329.78,60.19 329.90,61.12 330.02,56.93 330.14,57.12 330.26,59.82 330.38,62.27 330.50,61.86 330.62,63.89 330.74,65.46 330.86,62.44 330.98,60.54 331.10,58.40 331.22,58.60 331.34,59.64 331.46,61.67 331.58,61.51 331.70,60.71 331.82,60.38 331.94,63.14 332.06,61.54 332.18,61.91 332.30,61.97 332.42,59.63 332.54,58.62 332.66,62.73 332.78,62.46 332.90,60.40 333.02,60.00 333.14,69.75 333.26,59.30 333.38,60.48 333.50,62.00 333.62,58.51 333.74,61.46 333.86,68.05 333.98,64.69 334.10,63.53 334.22,63.40 334.34,61.53 334.46,64.88 334.58,60.79 334.70,60.23 334.82,61.56 334.94,64.76 335.06,62.50 335.18,63.89 335.30,56.88 335.42,65.99 335.54,70.58 335.66,66.60 335.78,60.62 335.90,59.50 336.02,62.45 336.14,59.23 336.26,64.28 336.38,60.26 336.50,65.27 336.62,66.91 336.74,57.07 336.86,62.64 336.98,59.97 337.10,58.46 337.22,60.18 337.34,61.06 337.46,65.75 337.58,58.29 337.70,65.86 337.82,69.83 337.94,64.06 338.06,63.87 338.18,61.63 338.30,59.14 338.42,63.89 338.54,63.29 338.66,64.74 338.78,72.32 338.90,64.76 339.02,63.54 339.14,68.25 339.26,58.91 339.38,59.37 339.50,61.04 339.62,60.46 339.74,64.78 339.86,61.22 339.98,69.18 340.10,68.29 340.22,65.18 340.34,61.15 340.46,64.59 340.58,65.42 340.70,59.73 340.82,63.52 340.94,65.05 341.06,63.01 341.18,68.74 341.30,67.26 341.42,60.36 341.54,62.70 341.66,60.37 341.78,64.67 341.90,60.34 342.02,66.17 342.14,63.92 342.26,66.42 342.38,61.99 342.50,59.15 342.62,69.89 342.74,61.99 342.86,68.28 342.98,64.25 343.10,65.31 343.22,70.31 343.34,63.92 343.46,68.51 343.58,59.26 343.70,66.28 343.82,62.01 343.94,62.26 344.06,62.61 344.18,64.10 344.30,69.82 344.42,58.59 344.54,62.85 344.66,61.11 344.78,67.79 344.90,61.79 345.02,64.74 345.14,61.89 345.26,65.71 345.38,67.25 345.50,61.95 345.62,63.06 345.74,59.75 345.86,64.23 345.98,66.68 346.10,61.71 346.22,67.90 346.34,58.42 346.46,58.92 346.58,59.96 346.70,61.96 346.82,63.13 346.94,62.90 347.06,62.94 347.18,66.34 347.30,62.10 347.42,60.38 347.54,60.44 347.66,72.67 347.78,58.04 347.90,62.85 348.02,69.82 348.14,65.46 348.26,61.48 348.38,63.33 348.50,67.25 348.62,68.84 348.74,61.41 348.86,66.86 348.98,64.58 349.10,68.47 349.22,69.80 349.34,62.74 349.46,60.32 349.58,65.35 349.70,71.68 349.82,66.72 349.94,64.66 350.06,74.64 350.18,61.35 350.30,67.82 350.42,62.43 350.54,63.94 350.66,64.15 350.78,70.75 350.90,61.71 351.02,62.62 351.14,60.30 351.26,66.11 351.38,62.85 351.50,65.85 351.62,61.54 351.74,63.14 351.86,68.80 351.98,63.59 352.10,66.92 352.22,66.49 352.34,63.26 352.46,60.61 352.58,68.71 352.70,64.91 352.82,68.76 352.94,59.69 353.06,60.50 353.18,59.44 353.30,62.28 353.42,69.17 353.54,66.95 353.66,64.21 353.78,64.93 353.90,67.95 354.02,63.68 354.14,66.26 354.26,65.07 354.38,59.55 354.50,63.59 354.62,70.96 354.74,63.61 354.86,64.19 354.98,63.18 355.10,63.48 355.22,69.98 355.34,64.00 355.46,62.34 355.58,57.70 355.70,63.39 355.82,60.30 355.94,60.64 356.06,68.58 356.18,68.19 356.30,60.49 356.42,68.93 356.54,67.05 356.66,63.09 356.78,68.44 356.90,61.25 357.02,62.22 357.14,61.71 357.26,62.47 357.38,69.28 357.50,62.01 357.62,62.44 357.74,62.91 357.86,66.03 357.98,64.33 358.10,69.35 358.22,63.54 358.34,62.26 358.46,64.04 358.58,65.37 358.70,63.12 358.82,66.60 358.94,74.24 359.06,63.96 359.18,65.49 359.30,72.01 359.42,63.87 359.54,63.44 359.66,62.91 359.78,67.34 359.90,67.94 360.02,65.09 360.14,65.61 360.26,71.78 360.38,69.77 360.50,62.34 360.62,65.50 360.74,66.01 360.86,69.09 360.98,65.07 361.10,64.14 361.22,64.58 361.34,61.61 361.46,65.60 361.58,64.32 361.70,67.94 361.82,63.39 361.94,64.74 362.06,63.53 362.18,63.35 362.30,69.18 362.42,64.75 362.54,67.94 362.66,63.30 362.78,66.25 362.90,62.03 363.02,64.81 363.14,64.78 363.26,68.73 363.38,66.75 363.50,65.58 363.62,70.04 363.74,66.85 363.86,68.59 363.98,69.74 364.10,65.92 364.22,65.42 364.34,67.62 364.46,65.18 364.58,67.95 364.70,71.53 364.82,70.29 364.94,65.33 365.06,63.28 365.18,66.12 365.30,65.98 365.42,71.62 365.54,65.42 365.66,65.84 365.78,69.85 365.90,65.26 366.02,66.01 366.14,74.72 366.26,73.63 366.38,69.41 366.50,67.66 366.62,64.24 366.74,69.12 366.86,66.68 366.98,67.49 367.10,65.35 367.22,66.54 367.34,66.16 367.46,68.03 367.58,73.51 367.70,68.29 367.82,62.81 367.94,64.42 368.06,63.01 368.18,64.87 368.30,69.35 368.42,68.59 368.54,65.37 368.66,67.97 368.78,65.04 368.90,63.51 369.02,63.56 369.14,64.85 369.26,73.69 369.38,63.76 369.50,72.86 369.62,73.29 369.74,66.52 369.86,66.85 369.98,65.54 370.10,66.94 370.22,70.10 370.34,67.05 370.46,71.78 370.58,72.71 370.70,68.62 370.82,68.56 370.94,66.97 371.06,68.68 371.18,64.52 371.30,69.00 371.42,68.05 371.54,65.16 371.66,77.54 371.78,64.93 371.90,65.19 372.02,68.48 372.14,62.69 372.26,65.42 372.38,63.69 372.50,65.03 372.62,67.03 372.74,68.77 372.86,72.59 372.98,71.16 373.10,73.01 373.22,70.14 373.34,66.32 373.46,72.72 373.58,66.30 373.70,66.02 373.82,74.76 373.94,71.19 374.06,68.46 374.18,71.05 374.30,71.67 374.42,64.32 374.54,67.37 374.66,64.78 374.78,68.08 374.90,66.03 375.02,74.08 375.14,70.04 375.26,65.74 375.38,67.66 375.50,64.80 375.62,67.83 375.74,70.25 375.86,68.90 375.98,63.13 376.10,66.99 376.22,70.12 376.34,69.16 376.46,73.28 376.58,64.75 376.70,70.25 376.82,66.31 376.94,68.70 377.06,69.73 377.18,71.09 377.30,66.55 377.42,68.71 377.54,65.14 377.66,64.57 377.78,70.53 377.90,67.89 378.02,64.10 378.14,65.98 378.26,68.11 378.38,75.40 378.50,72.96 378.62,71.80 378.74,63.77 378.86,67.90 378.98,70.30 379.10,69.92 379.22,70.04 379.34,67.63 379.46,76.48 379.58,75.15 379.70,68.01 379.82,65.86 379.94,77.94 380.06,66.93 380.18,73.88 380.30,77.29 380.42,66.02 380.54,69.60 380.66,67.51 380.78,70.70 380.90,69.79 381.02,77.54 381.14,71.10 381.26,68.42 381.38,73.68 381.50,67.80 381.62,67.58 381.74,79.01 381.86,66.49 381.98,67.32 382.10,68.65 382.22,65.94 382.34,63.35 382.46,73.47 382.58,66.66 382.70,67.28 382.82,67.71 382.94,66.21 383.06,66.00 383.18,69.31 383.30,79.92 383.42,72.07 383.54,72.13 383.66,64.99 383.78,68.70 383.90,65.82 384.02,72.31 384.14,68.23 384.26,68.91 384.38,68.61 384.50,67.39 384.62,65.06 384.74,71.48 384.86,65.43 384.98,65.95 385.10,68.18 385.22,67.17 385.34,70.06 385.46,73.60 385.58,70.03 385.70,69.80 385.82,69.08 385.94,72.94 386.06,64.41 386.18,70.66 386.30,66.73 386.42,65.99 386.54,69.12 386.66,68.15 386.78,71.75 386.90,74.20 387.02,63.31 387.14,69.01 387.26,78.27 387.38,73.16 387.50,75.89 387.62,69.60 387.74,65.64 387.86,66.44 387.98,72.51 388.10,73.68 388.22,67.48 388.34,68.67 388.46,70.46 388.58,64.94 388.70,68.51 388.82,76.86 388.94,79.52 389.06,69.17 389.18,77.89 389.30,68.14 389.42,67.43 389.54,63.81 389.66,73.87 389.78,68.59 389.90,80.35 390.02,71.00 390.14,70.35 390.26,65.00 390.38,76.50 390.50,68.72 390.62,69.25 390.74,64.03 390.86,73.89 390.98,74.20 391.10,68.18 391.22,70.06 391.34,71.47 391.46,74.14 391.58,70.17 391.70,77.70 391.82,69.22 391.94,68.30 392.06,68.67 392.18,63.36 392.30,67.83 392.42,74.48 392.54,71.06 392.66,67.85 392.78,71.49 392.90,64.79 393.02,69.28 393.14,72.35 393.26,73.17 393.38,68.07 393.50,74.20 393.62,78.64 393.74,69.02 393.86,73.46 393.98,66.13 394.10,65.09 394.22,72.92 394.34,70.33 394.46,71.05 394.58,68.74 394.70,69.51 394.82,73.93 394.94,78.12 395.06,69.77 395.18,66.05 395.30,76.13 395.42,73.06 395.54,73.44 395.66,71.16 395.78,81.02 395.90,70.70 396.02,72.74 396.14,65.65 396.26,69.00 396.38,68.73 396.50,70.47 396.62,72.07 396.74,68.62 396.86,78.45 396.98,67.83 397.10,69.46 397.22,71.65 397.34,67.39 397.46,73.21 397.58,73.51 397.70,69.96 397.82,79.39 397.94,71.04 398.06,71.97 398.18,68.27 398.30,66.40 398.42,69.17 398.54,70.01 398.66,69.67 398.78,74.31 398.90,64.60 399.02,67.93 399.14,66.12 399.26,76.99 399.38,69.49 399.50,69.64 399.62,68.10 399.74,75.04 399.86,69.97 399.98,71.99 400.10,65.69 400.22,76.35 400.34,72.84 400.46,73.57 400.58,76.70 400.70,70.68 400.82,70.77 400.94,74.40 401.06,73.09 401.18,70.61 401.30,71.40 401.42,69.96 401.54,74.48 401.66,75.49 401.78,71.38 401.90,79.81 402.02,67.28 402.14,70.79 402.26,79.10 402.38,70.33 402.50,67.18 402.62,77.73 402.74,73.89 402.86,68.32 402.98,74.97 403.10,68.82 403.22,67.98 403.34,71.20 403.46,70.33 403.58,68.69 403.70,70.68 403.82,68.97 403.94,71.89 404.06,71.66 404.18,75.02 404.30,70.53 404.42,68.18 404.54,68.23 404.66,71.15 404.78,78.67 404.90,75.59 405.02,70.13 405.14,76.05 405.26,68.76 405.38,76.41 405.50,70.91 405.62,75.34 405.74,74.70 405.86,71.25 405.98,73.42 406.10,69.14 406.22,71.86 406.34,76.87 406.46,90.42 406.58,75.20 406.70,72.45 406.82,69.39 406.94,76.85 407.06,67.67 407.18,70.02 407.30,73.76 407.42,68.96 407.54,79.09 407.66,77.11 407.78,70.76 407.90,70.81 408.02,68.73 408.14,68.53 408.26,74.29 408.38,75.12 408.50,73.92 408.62,73.56 408.74,70.93 408.86,74.02 408.98,68.45 409.10,72.55 409.22,79.04 409.34,78.39 409.46,71.31 409.58,71.68 409.70,78.69 409.82,80.53 409.94,68.52 410.06,71.50 410.18,73.67 410.30,78.07 410.42,70.42 410.54,75.54 410.66,71.95 410.78,83.28 410.90,74.65 411.02,72.46 411.14,71.93 411.26,77.49 411.38,75.84 411.50,69.90 411.62,73.82 411.74,69.23 411.86,70.87 411.98,69.39 412.10,69.32 412.22,71.12 412.34,70.32 412.46,75.34 412.58,76.55 412.70,72.45 412.82,70.00 412.94,76.64 413.06,67.51 413.18,67.79 413.30,76.35 413.42,76.06 413.54,77.48 413.66,72.67 413.78,69.75 413.90,71.88 414.02,75.76 414.14,71.20 414.26,71.40 414.38,69.47 414.50,70.14 414.62,77.07 414.74,75.38 414.86,70.20 414.98,70.45 415.10,71.92 415.22,75.87 415.34,70.25 415.46,73.09 415.58,67.53 415.70,70.06 415.82,75.41 415.94,77.52 416.06,70.40 416.18,71.50 416.30,77.14 416.42,72.62 416.54,72.22 416.66,75.98 416.78,74.58 416.90,78.61 417.02,77.24 417.14,72.22 417.26,73.53 417.38,73.72 417.50,70.06 417.62,71.16 417.74,78.13 417.86,69.46 417.98,78.27 418.10,75.20 418.22,73.64 418.34,76.34 418.46,76.09 418.58,79.30 418.70,72.98 418.82,73.49 418.94,73.46 419.06,82.31 419.18,78.25 419.30,71.58 419.42,73.29 419.54,72.24 419.66,74.32 419.78,75.17 419.90,84.22 420.02,69.11 420.14,78.77 420.26,76.22 420.38,72.39 420.50,74.00 420.62,73.03 420.74,74.63 420.86,78.80 420.98,70.15 421.10,80.16 421.22,73.48 421.34,81.02 421.46,76.33 421.58,79.90 421.70,77.03 421.82,79.30 421.94,74.88 422.06,72.31 422.18,77.58 422.30,77.77 422.42,83.77 422.54,69.00 422.66,74.24 422.78,79.36 422.90,71.23 423.02,74.22 423.14,83.96 423.26,80.97 423.38,72.40 423.50,81.05 423.62,80.03 423.74,78.30 423.86,76.62 423.98,76.03 424.10,72.55 424.22,73.60 424.34,78.22 424.46,75.70 424.58,83.04 424.70,74.21 424.82,68.22 424.94,74.25 425.06,76.39 425.18,76.87 425.30,75.54 425.42,72.91 425.54,81.68 425.66,73.42 425.78,78.37 425.90,74.56 426.02,71.92 426.14,81.43 426.26,68.13 426.38,73.00 426.50,77.32 426.62,74.49 426.74,78.71 426.86,75.29 426.98,74.27 427.10,84.77 427.22,75.00 427.34,75.20 427.46,72.51 427.58,73.52 427.70,78.46 427.82,78.12 427.94,75.78 428.06,73.74 428.18,78.70 428.30,70.83 428.42,74.86 428.54,75.15 428.66,73.42 428.78,76.56 428.90,73.99 429.02,73.61 429.14,83.60 429.26,79.14 429.38,81.10 429.50,76.27 429.62,80.15 429.74,79.40 429.86,81.24 429.98,86.14 430.10,75.52 430.22,77.29 430.34,76.09 430.46,65.85 430.58,72.15 430.70,76.38 430.82,78.99 430.94,74.65 431.06,81.14 431.18,81.79 431.30,75.20 431.42,82.42 431.54,83.82 431.66,78.44 431.78,73.60 431.90,82.69 432.02,76.08 432.14,75.46 432.26,77.10 432.38,75.03 432.50,81.14 432.62,79.93 432.74,81.80 432.86,79.16 432.98,74.38 433.10,76.30 433.22,80.45 433.34,75.60 433.46,89.03 433.58,76.14 433.70,75.13 433.82,81.70 433.94,80.04 434.06,76.87 434.18,76.28 434.30,78.77 434.42,80.49 434.54,80.21 434.66,76.15 434.78,78.88 434.90,80.61 435.02,80.31 435.14,67.86 435.26,74.49 435.38,74.85 435.50,76.52 435.62,77.98 435.74,81.08 435.86,79.84 435.98,76.92 436.10,77.42 436.22,84.64 436.34,75.52 436.46,78.65 436.58,83.89 436.70,78.87 436.82,71.27 436.94,79.03 437.06,76.33 437.18,77.18 437.30,81.89 437.42,79.51 437.54,76.79 437.66,81.30 437.78,79.43 437.90,78.09 438.02,78.92 438.14,78.75 438.26,76.70 438.38,76.35 438.50,77.88 438.62,74.89 438.74,73.98 438.86,83.19 438.98,77.13 439.10,77.81 439.22,77.50 439.34,78.03 439.46,78.05 439.58,78.24 439.70,75.54 439.82,81.85 439.94,75.93 440.06,82.31 440.18,72.22 440.30,74.86 440.42,82.20 440.54,77.70 440.66,76.12 440.78,79.74 440.90,75.02 441.02,78.56 441.14,71.47 441.26,76.91 441.38,76.32 441.50,80.55 441.62,81.94 441.74,75.76 441.86,84.97 441.98,76.61 442.10,72.12 442.22,71.15 442.34,84.77 442.46,78.25 442.58,76.55 442.70,76.26 442.82,75.22 442.94,84.12 443.06,78.38 443.18,85.94 443.30,78.07 443.42,71.44 443.54,82.16 443.66,77.62 443.78,78.04 443.90,85.16 444.02,78.01 444.14,83.56 444.26,78.86 444.38,76.56 444.50,80.97 444.62,77.08 444.74,83.94 444.86,82.87 444.98,79.26 445.10,81.50 445.22,81.34 445.34,78.22 445.46,82.72 445.58,78.42 445.70,81.64 445.82,76.21 445.94,79.61 446.06,80.90 446.18,76.78 446.30,77.97 446.42,77.63 446.54,82.26 446.66,77.10 446.78,81.14 446.90,85.54 447.02,80.86 447.14,74.40 447.26,79.98 447.38,83.69 447.50,78.63 447.62,84.01 447.74,82.06 447.86,81.29 447.98,78.80 448.10,78.04 448.22,78.87 448.34,79.96 448.46,81.82 448.58,81.44" fill="none" stroke="#3ec68a" stroke-width="0.8" stroke-linejoin="round"/>
<polyline points="270.50,31.00 270.62,31.32 270.74,31.64 270.86,31.96 270.98,32.29 271.10,32.61 271.22,32.93 271.34,33.25 271.46,33.57 271.58,33.89 271.70,34.21 271.82,34.53 271.94,34.85 272.06,35.16 272.18,35.47 272.30,35.78 272.42,36.09 272.54,36.39 272.66,36.70 272.78,36.99 272.90,37.29 273.02,37.58 273.14,37.86 273.26,38.14 273.38,38.42 273.50,38.69 273.62,38.96 273.74,39.22 273.86,39.47 273.98,39.72 274.10,39.97 274.22,40.20 274.34,40.43 274.46,40.66 274.58,40.87 274.70,41.08 274.82,41.28 274.94,41.47 275.06,41.66 275.18,41.83 275.30,42.00 275.42,42.16 275.54,42.32 275.66,42.48 275.78,42.63 275.90,42.79 276.02,42.94 276.14,43.09 276.26,43.24 276.38,43.38 276.50,43.53 276.62,43.67 276.74,43.81 276.86,43.95 276.98,44.09 277.10,44.23 277.22,44.36 277.34,44.49 277.46,44.62 277.58,44.75 277.70,44.88 277.82,45.01 277.94,45.13 278.06,45.26 278.18,45.38 278.30,45.50 278.42,45.62 278.54,45.74 278.66,45.86 278.78,45.97 278.90,46.09 279.02,46.20 279.14,46.31 279.26,46.42 279.38,46.53 279.50,46.64 279.62,46.75 279.74,46.85 279.86,46.96 279.98,47.06 280.10,47.17 280.22,47.27 280.34,47.37 280.46,47.47 280.58,47.57 280.70,47.67 280.82,47.77 280.94,47.86 281.06,47.96 281.18,48.06 281.30,48.15 281.42,48.24 281.54,48.34 281.66,48.43 281.78,48.52 281.90,48.61 282.02,48.70 282.14,48.79 282.26,48.88 282.38,48.97 282.50,49.06 282.62,49.15 282.74,49.24 282.86,49.33 282.98,49.41 283.10,49.50 283.22,49.59 283.34,49.67 283.46,49.76 283.58,49.84 283.70,49.93 283.82,50.01 283.94,50.10 284.06,50.18 284.18,50.27 284.30,50.35 284.42,50.44 284.54,50.52 284.66,50.60 284.78,50.69 284.90,50.77 285.02,50.86 285.14,50.94 285.26,51.03 285.38,51.11 285.50,51.20 285.62,51.28 285.74,51.37 285.86,51.45 285.98,51.54 286.10,51.63 286.22,51.71 286.34,51.80 286.46,51.89 286.58,51.97 286.70,52.06 286.82,52.15 286.94,52.24 287.06,52.33 287.18,52.42 287.30,52.51 287.42,52.60 287.54,52.69 287.66,52.79 287.78,52.88 287.90,52.97 288.02,53.07 288.14,53.16 288.26,53.26 288.38,53.35 288.50,53.45 288.62,53.55 288.74,53.65 288.86,53.75 288.98,53.85 289.10,53.95 289.22,54.05 289.34,54.15 289.46,54.25 289.58,54.36 289.70,54.46 289.82,54.56 289.94,54.66 290.06,54.76 290.18,54.86 290.30,54.97 290.42,55.07 290.54,55.17 290.66,55.27 290.78,55.37 290.90,55.48 291.02,55.58 291.14,55.68 291.26,55.78 291.38,55.89 291.50,55.99 291.62,56.09 291.74,56.19 291.86,56.29 291.98,56.39 292.10,56.50 292.22,56.60 292.34,56.70 292.46,56.80 292.58,56.90 292.70,57.00 292.82,57.10 292.94,57.20 293.06,57.30 293.18,57.40 293.30,57.50 293.42,57.60 293.54,57.70 293.66,57.80 293.78,57.90 293.90,57.99 294.02,58.09 294.14,58.19 294.26,58.28 294.38,58.38 294.50,58.48 294.62,58.57 294.74,58.67 294.86,58.76 294.98,58.86 295.10,58.95 295.22,59.04 295.34,59.14 295.46,59.23 295.58,59.32 295.70,59.41 295.82,59.50 295.94,59.59 296.06,59.68 296.18,59.77 296.30,59.86 296.42,59.95 296.54,60.03 296.66,60.12 296.78,60.21 296.90,60.29 297.02,60.37 297.14,60.46 297.26,60.54 297.38,60.62 297.50,60.71 297.62,60.79 297.74,60.87 297.86,60.95 297.98,61.03 298.10,61.11 298.22,61.18 298.34,61.26 298.46,61.34 298.58,61.42 298.70,61.49 298.82,61.57 298.94,61.65 299.06,61.72 299.18,61.80 299.30,61.87 299.42,61.94 299.54,62.02 299.66,62.09 299.78,62.16 299.90,62.24 300.02,62.31 300.14,62.38 300.26,62.45 300.38,62.52 300.50,62.60 300.62,62.67 300.74,62.74 300.86,62.81 300.98,62.88 301.10,62.95 301.22,63.02 301.34,63.09 301.46,63.16 301.58,63.23 301.70,63.30 301.82,63.37 301.94,63.44 302.06,63.51 302.18,63.57 302.30,63.64 302.42,63.71 302.54,63.78 302.66,63.85 302.78,63.92 302.90,63.99 303.02,64.06 303.14,64.12 303.26,64.19 303.38,64.26 303.50,64.33 303.62,64.40 303.74,64.47 303.86,64.54 303.98,64.61 304.10,64.68 304.22,64.75 304.34,64.82 304.46,64.89 304.58,64.96 304.70,65.03 304.82,65.10 304.94,65.17 305.06,65.24 305.18,65.31 305.30,65.38 305.42,65.45 305.54,65.52 305.66,65.60 305.78,65.67 305.90,65.74 306.02,65.81 306.14,65.88 306.26,65.96 306.38,66.03 306.50,66.10 306.62,66.17 306.74,66.25 306.86,66.32 306.98,66.39 307.10,66.47 307.22,66.54 307.34,66.61 307.46,66.68 307.58,66.76 307.70,66.83 307.82,66.90 307.94,66.98 308.06,67.05 308.18,67.12 308.30,67.20 308.42,67.27 308.54,67.34 308.66,67.42 308.78,67.49 308.90,67.56 309.02,67.64 309.14,67.71 309.26,67.78 309.38,67.86 309.50,67.93 309.62,68.01 309.74,68.08 309.86,68.15 309.98,68.23 310.10,68.30 310.22,68.38 310.34,68.45 310.46,68.52 310.58,68.60 310.70,68.67 310.82,68.74 310.94,68.82 311.06,68.89 311.18,68.97 311.30,69.04 311.42,69.11 311.54,69.19 311.66,69.26 311.78,69.34 311.90,69.41 312.02,69.48 312.14,69.56 312.26,69.63 312.38,69.70 312.50,69.78 312.62,69.85 312.74,69.93 312.86,70.00 312.98,70.07 313.10,70.15 313.22,70.22 313.34,70.29 313.46,70.37 313.58,70.44 313.70,70.52 313.82,70.59 313.94,70.66 314.06,70.74 314.18,70.81 314.30,70.88 314.42,70.96 314.54,71.03 314.66,71.10 314.78,71.18 314.90,71.25 315.02,71.32 315.14,71.39 315.26,71.47 315.38,71.54 315.50,71.61 315.62,71.69 315.74,71.76 315.86,71.83 315.98,71.90 316.10,71.98 316.22,72.05 316.34,72.12 316.46,72.19 316.58,72.27 316.70,72.34 316.82,72.41 316.94,72.48 317.06,72.55 317.18,72.62 317.30,72.70 317.42,72.77 317.54,72.84 317.66,72.91 317.78,72.98 317.90,73.05 318.02,73.12 318.14,73.20 318.26,73.27 318.38,73.34 318.50,73.41 318.62,73.48 318.74,73.55 318.86,73.62 318.98,73.69 319.10,73.76 319.22,73.83 319.34,73.90 319.46,73.97 319.58,74.04 319.70,74.11 319.82,74.18 319.94,74.25 320.06,74.32 320.18,74.38 320.30,74.45 320.42,74.52 320.54,74.59 320.66,74.66 320.78,74.73 320.90,74.80 321.02,74.86 321.14,74.93 321.26,75.00 321.38,75.07 321.50,75.13 321.62,75.20 321.74,75.27 321.86,75.33 321.98,75.40 322.10,75.47 322.22,75.53 322.34,75.60 322.46,75.67 322.58,75.73 322.70,75.80 322.82,75.86 322.94,75.93 323.06,76.00 323.18,76.06 323.30,76.13 323.42,76.19 323.54,76.25 323.66,76.32 323.78,76.38 323.90,76.45 324.02,76.51 324.14,76.57 324.26,76.64 324.38,76.70 324.50,76.76 324.62,76.82 324.74,76.89 324.86,76.95 324.98,77.01 325.10,77.07 325.22,77.13 325.34,77.19 325.46,77.25 325.58,77.31 325.70,77.37 325.82,77.43 325.94,77.49 326.06,77.55 326.18,77.60 326.30,77.66 326.42,77.72 326.54,77.78 326.66,77.84 326.78,77.89 326.90,77.95 327.02,78.01 327.14,78.07 327.26,78.12 327.38,78.18 327.50,78.24 327.62,78.30 327.74,78.35 327.86,78.41 327.98,78.47 328.10,78.53 328.22,78.58 328.34,78.64 328.46,78.70 328.58,78.76 328.70,78.81 328.82,78.87 328.94,78.93 329.06,78.99 329.18,79.05 329.30,79.10 329.42,79.16 329.54,79.22 329.66,79.28 329.78,79.34 329.90,79.40 330.02,79.46 330.14,79.52 330.26,79.58 330.38,79.64 330.50,79.70 330.62,79.76 330.74,79.82 330.86,79.88 330.98,79.94 331.10,80.00 331.22,80.07 331.34,80.13 331.46,80.19 331.58,80.25 331.70,80.31 331.82,80.37 331.94,80.44 332.06,80.50 332.18,80.56 332.30,80.62 332.42,80.68 332.54,80.75 332.66,80.81 332.78,80.87 332.90,80.93 333.02,80.99 333.14,81.06 333.26,81.12 333.38,81.18 333.50,81.24 333.62,81.31 333.74,81.37 333.86,81.43 333.98,81.49 334.10,81.56 334.22,81.62 334.34,81.68 334.46,81.75 334.58,81.81 334.70,81.87 334.82,81.94 334.94,82.00 335.06,82.06 335.18,82.13 335.30,82.19 335.42,82.25 335.54,82.32 335.66,82.38 335.78,82.44 335.90,82.51 336.02,82.57 336.14,82.63 336.26,82.70 336.38,82.76 336.50,82.82 336.62,82.89 336.74,82.95 336.86,83.02 336.98,83.08 337.10,83.14 337.22,83.21 337.34,83.27 337.46,83.34 337.58,83.40 337.70,83.46 337.82,83.53 337.94,83.59 338.06,83.66 338.18,83.72 338.30,83.79 338.42,83.85 338.54,83.92 338.66,83.98 338.78,84.04 338.90,84.11 339.02,84.17 339.14,84.24 339.26,84.30 339.38,84.37 339.50,84.43 339.62,84.50 339.74,84.56 339.86,84.63 339.98,84.69 340.10,84.76 340.22,84.82 340.34,84.89 340.46,84.95 340.58,85.02 340.70,85.08 340.82,85.15 340.94,85.21 341.06,85.28 341.18,85.35 341.30,85.41 341.42,85.48 341.54,85.54 341.66,85.61 341.78,85.67 341.90,85.74 342.02,85.80 342.14,85.87 342.26,85.93 342.38,86.00 342.50,86.07 342.62,86.13 342.74,86.20 342.86,86.26 342.98,86.33 343.10,86.40 343.22,86.46 343.34,86.53 343.46,86.59 343.58,86.66 343.70,86.72 343.82,86.79 343.94,86.86 344.06,86.92 344.18,86.99 344.30,87.06 344.42,87.12 344.54,87.19 344.66,87.25 344.78,87.32 344.90,87.39 345.02,87.46 345.14,87.52 345.26,87.59 345.38,87.66 345.50,87.72 345.62,87.79 345.74,87.86 345.86,87.93 345.98,88.00 346.10,88.06 346.22,88.13 346.34,88.20 346.46,88.27 346.58,88.34 346.70,88.41 346.82,88.48 346.94,88.55 347.06,88.61 347.18,88.68 347.30,88.75 347.42,88.82 347.54,88.89 347.66,88.96 347.78,89.03 347.90,89.10 348.02,89.17 348.14,89.24 348.26,89.31 348.38,89.38 348.50,89.45 348.62,89.52 348.74,89.59 348.86,89.66 348.98,89.73 349.10,89.80 349.22,89.87 349.34,89.95 349.46,90.02 349.58,90.09 349.70,90.16 349.82,90.23 349.94,90.30 350.06,90.37 350.18,90.44 350.30,90.51 350.42,90.58 350.54,90.66 350.66,90.73 350.78,90.80 350.90,90.87 351.02,90.94 351.14,91.01 351.26,91.08 351.38,91.16 351.50,91.23 351.62,91.30 351.74,91.37 351.86,91.44 351.98,91.51 352.10,91.58 352.22,91.66 352.34,91.73 352.46,91.80 352.58,91.87 352.70,91.94 352.82,92.01 352.94,92.09 353.06,92.16 353.18,92.23 353.30,92.30 353.42,92.37 353.54,92.44 353.66,92.51 353.78,92.59 353.90,92.66 354.02,92.73 354.14,92.80 354.26,92.87 354.38,92.94 354.50,93.01 354.62,93.08 354.74,93.16 354.86,93.23 354.98,93.30 355.10,93.37 355.22,93.44 355.34,93.51 355.46,93.58 355.58,93.65 355.70,93.72 355.82,93.79 355.94,93.87 356.06,93.94 356.18,94.01 356.30,94.08 356.42,94.15 356.54,94.22 356.66,94.29 356.78,94.36 356.90,94.43 357.02,94.50 357.14,94.57 357.26,94.64 357.38,94.71 357.50,94.78 357.62,94.85 357.74,94.92 357.86,94.99 357.98,95.05 358.10,95.12 358.22,95.19 358.34,95.26 358.46,95.33 358.58,95.40 358.70,95.47 358.82,95.54 358.94,95.60 359.06,95.67 359.18,95.74 359.30,95.81 359.42,95.88 359.54,95.94 359.66,96.01 359.78,96.08 359.90,96.15 360.02,96.21 360.14,96.28 360.26,96.35 360.38,96.41 360.50,96.48 360.62,96.55 360.74,96.61 360.86,96.68 360.98,96.75 361.10,96.81 361.22,96.88 361.34,96.94 361.46,97.01 361.58,97.07 361.70,97.14 361.82,97.20 361.94,97.27 362.06,97.33 362.18,97.40 362.30,97.46 362.42,97.52 362.54,97.59 362.66,97.65 362.78,97.72 362.90,97.78 363.02,97.84 363.14,97.90 363.26,97.97 363.38,98.03 363.50,98.09 363.62,98.15 363.74,98.21 363.86,98.28 363.98,98.34 364.10,98.40 364.22,98.46 364.34,98.52 364.46,98.58 364.58,98.64 364.70,98.70 364.82,98.76 364.94,98.82 365.06,98.88 365.18,98.94 365.30,99.00 365.42,99.06 365.54,99.12 365.66,99.18 365.78,99.24 365.90,99.30 366.02,99.36 366.14,99.42 366.26,99.48 366.38,99.54 366.50,99.60 366.62,99.66 366.74,99.72 366.86,99.78 366.98,99.84 367.10,99.90 367.22,99.96 367.34,100.02 367.46,100.08 367.58,100.14 367.70,100.20 367.82,100.26 367.94,100.32 368.06,100.37 368.18,100.43 368.30,100.49 368.42,100.55 368.54,100.61 368.66,100.67 368.78,100.73 368.90,100.79 369.02,100.84 369.14,100.90 369.26,100.96 369.38,101.02 369.50,101.08 369.62,101.14 369.74,101.20 369.86,101.25 369.98,101.31 370.10,101.37 370.22,101.43 370.34,101.49 370.46,101.54 370.58,101.60 370.70,101.66 370.82,101.72 370.94,101.78 371.06,101.83 371.18,101.89 371.30,101.95 371.42,102.01 371.54,102.06 371.66,102.12 371.78,102.18 371.90,102.24 372.02,102.29 372.14,102.35 372.26,102.41 372.38,102.47 372.50,102.52 372.62,102.58 372.74,102.64 372.86,102.69 372.98,102.75 373.10,102.81 373.22,102.86 373.34,102.92 373.46,102.98 373.58,103.03 373.70,103.09 373.82,103.15 373.94,103.20 374.06,103.26 374.18,103.32 374.30,103.37 374.42,103.43 374.54,103.49 374.66,103.54 374.78,103.60 374.90,103.65 375.02,103.71 375.14,103.77 375.26,103.82 375.38,103.88 375.50,103.93 375.62,103.99 375.74,104.05 375.86,104.10 375.98,104.16 376.10,104.21 376.22,104.27 376.34,104.32 376.46,104.38 376.58,104.43 376.70,104.49 376.82,104.55 376.94,104.60 377.06,104.66 377.18,104.71 377.30,104.77 377.42,104.82 377.54,104.88 377.66,104.93 377.78,104.99 377.90,105.04 378.02,105.09 378.14,105.15 378.26,105.20 378.38,105.26 378.50,105.31 378.62,105.37 378.74,105.42 378.86,105.48 378.98,105.53 379.10,105.58 379.22,105.64 379.34,105.69 379.46,105.75 379.58,105.80 379.70,105.86 379.82,105.91 379.94,105.96 380.06,106.02 380.18,106.07 380.30,106.12 380.42,106.18 380.54,106.23 380.66,106.28 380.78,106.34 380.90,106.39 381.02,106.45 381.14,106.50 381.26,106.55 381.38,106.60 381.50,106.66 381.62,106.71 381.74,106.76 381.86,106.82 381.98,106.87 382.10,106.92 382.22,106.98 382.34,107.03 382.46,107.08 382.58,107.13 382.70,107.19 382.82,107.24 382.94,107.29 383.06,107.34 383.18,107.40 383.30,107.45 383.42,107.50 383.54,107.55 383.66,107.61 383.78,107.66 383.90,107.71 384.02,107.76 384.14,107.81 384.26,107.87 384.38,107.92 384.50,107.97 384.62,108.02 384.74,108.07 384.86,108.12 384.98,108.18 385.10,108.23 385.22,108.28 385.34,108.33 385.46,108.38 385.58,108.43 385.70,108.48 385.82,108.54 385.94,108.59 386.06,108.64 386.18,108.69 386.30,108.74 386.42,108.79 386.54,108.84 386.66,108.89 386.78,108.94 386.90,108.99 387.02,109.04 387.14,109.09 387.26,109.15 387.38,109.20 387.50,109.25 387.62,109.30 387.74,109.35 387.86,109.40 387.98,109.45 388.10,109.50 388.22,109.55 388.34,109.60 388.46,109.65 388.58,109.70 388.70,109.75 388.82,109.80 388.94,109.85 389.06,109.90 389.18,109.95 389.30,110.00 389.42,110.05 389.54,110.09 389.66,110.14 389.78,110.19 389.90,110.24 390.02,110.29 390.14,110.34 390.26,110.39 390.38,110.44 390.50,110.49 390.62,110.54 390.74,110.59 390.86,110.63 390.98,110.68 391.10,110.73 391.22,110.78 391.34,110.83 391.46,110.88 391.58,110.93 391.70,110.98 391.82,111.02 391.94,111.07 392.06,111.12 392.18,111.17 392.30,111.22 392.42,111.26 392.54,111.31 392.66,111.36 392.78,111.41 392.90,111.46 393.02,111.50 393.14,111.55 393.26,111.60 393.38,111.65 393.50,111.70 393.62,111.74 393.74,111.79 393.86,111.84 393.98,111.88 394.10,111.93 394.22,111.98 394.34,112.03 394.46,112.07 394.58,112.12 394.70,112.17 394.82,112.21 394.94,112.26 395.06,112.31 395.18,112.36 395.30,112.40 395.42,112.45 395.54,112.50 395.66,112.54 395.78,112.59 395.90,112.63 396.02,112.68 396.14,112.73 396.26,112.77 396.38,112.82 396.50,112.87 396.62,112.91 396.74,112.96 396.86,113.00 396.98,113.05 397.10,113.10 397.22,113.14 397.34,113.19 397.46,113.23 397.58,113.28 397.70,113.32 397.82,113.37 397.94,113.42 398.06,113.46 398.18,113.51 398.30,113.55 398.42,113.60 398.54,113.64 398.66,113.69 398.78,113.73 398.90,113.78 399.02,113.82 399.14,113.87 399.26,113.91 399.38,113.96 399.50,114.00 399.62,114.05 399.74,114.09 399.86,114.13 399.98,114.18 400.10,114.22 400.22,114.27 400.34,114.31 400.46,114.36 400.58,114.40 400.70,114.44 400.82,114.49 400.94,114.53 401.06,114.58 401.18,114.62 401.30,114.66 401.42,114.71 401.54,114.75 401.66,114.80 401.78,114.84 401.90,114.88 402.02,114.93 402.14,114.97 402.26,115.01 402.38,115.06 402.50,115.10 402.62,115.14 402.74,115.19 402.86,115.23 402.98,115.27 403.10,115.32 403.22,115.36 403.34,115.40 403.46,115.44 403.58,115.49 403.70,115.53 403.82,115.57 403.94,115.61 404.06,115.66 404.18,115.70 404.30,115.74 404.42,115.79 404.54,115.83 404.66,115.87 404.78,115.91 404.90,115.95 405.02,116.00 405.14,116.04 405.26,116.08 405.38,116.12 405.50,116.17 405.62,116.21 405.74,116.25 405.86,116.29 405.98,116.33 406.10,116.37 406.22,116.42 406.34,116.46 406.46,116.50 406.58,116.54 406.70,116.58 406.82,116.62 406.94,116.67 407.06,116.71 407.18,116.75 407.30,116.79 407.42,116.83 407.54,116.87 407.66,116.91 407.78,116.96 407.90,117.00 408.02,117.04 408.14,117.08 408.26,117.12 408.38,117.16 408.50,117.20 408.62,117.24 408.74,117.28 408.86,117.32 408.98,117.36 409.10,117.41 409.22,117.45 409.34,117.49 409.46,117.53 409.58,117.57 409.70,117.61 409.82,117.65 409.94,117.69 410.06,117.73 410.18,117.77 410.30,117.81 410.42,117.85 410.54,117.89 410.66,117.93 410.78,117.97 410.90,118.01 411.02,118.05 411.14,118.09 411.26,118.13 411.38,118.17 411.50,118.21 411.62,118.25 411.74,118.29 411.86,118.33 411.98,118.37 412.10,118.41 412.22,118.45 412.34,118.49 412.46,118.53 412.58,118.57 412.70,118.61 412.82,118.65 412.94,118.69 413.06,118.73 413.18,118.77 413.30,118.81 413.42,118.85 413.54,118.88 413.66,118.92 413.78,118.96 413.90,119.00 414.02,119.04 414.14,119.08 414.26,119.12 414.38,119.16 414.50,119.20 414.62,119.24 414.74,119.28 414.86,119.31 414.98,119.35 415.10,119.39 415.22,119.43 415.34,119.47 415.46,119.51 415.58,119.55 415.70,119.59 415.82,119.63 415.94,119.66 416.06,119.70 416.18,119.74 416.30,119.78 416.42,119.82 416.54,119.86 416.66,119.90 416.78,119.93 416.90,119.97 417.02,120.01 417.14,120.05 417.26,120.09 417.38,120.13 417.50,120.16 417.62,120.20 417.74,120.24 417.86,120.28 417.98,120.32 418.10,120.36 418.22,120.39 418.34,120.43 418.46,120.47 418.58,120.51 418.70,120.55 418.82,120.58 418.94,120.62 419.06,120.66 419.18,120.70 419.30,120.74 419.42,120.77 419.54,120.81 419.66,120.85 419.78,120.89 419.90,120.93 420.02,120.96 420.14,121.00 420.26,121.04 420.38,121.08 420.50,121.11 420.62,121.15 420.74,121.19 420.86,121.23 420.98,121.26 421.10,121.30 421.22,121.34 421.34,121.38 421.46,121.41 421.58,121.45 421.70,121.49 421.82,121.53 421.94,121.56 422.06,121.60 422.18,121.64 422.30,121.68 422.42,121.71 422.54,121.75 422.66,121.79 422.78,121.83 422.90,121.86 423.02,121.90 423.14,121.94 423.26,121.97 423.38,122.01 423.50,122.05 423.62,122.09 423.74,122.12 423.86,122.16 423.98,122.20 424.10,122.23 424.22,122.27 424.34,122.31 424.46,122.35 424.58,122.38 424.70,122.42 424.82,122.46 424.94,122.49 425.06,122.53 425.18,122.57 425.30,122.61 425.42,122.64 425.54,122.68 425.66,122.72 425.78,122.75 425.90,122.79 426.02,122.83 426.14,122.86 426.26,122.90 426.38,122.94 426.50,122.97 426.62,123.01 426.74,123.05 426.86,123.08 426.98,123.12 427.10,123.16 427.22,123.19 427.34,123.23 427.46,123.27 427.58,123.30 427.70,123.34 427.82,123.38 427.94,123.41 428.06,123.45 428.18,123.49 428.30,123.52 428.42,123.56 428.54,123.60 428.66,123.63 428.78,123.67 428.90,123.71 429.02,123.74 429.14,123.78 429.26,123.82 429.38,123.85 429.50,123.89 429.62,123.93 429.74,123.96 429.86,124.00 429.98,124.04 430.10,124.07 430.22,124.11 430.34,124.15 430.46,124.18 430.58,124.22 430.70,124.26 430.82,124.29 430.94,124.33 431.06,124.37 431.18,124.40 431.30,124.44 431.42,124.48 431.54,124.51 431.66,124.55 431.78,124.59 431.90,124.62 432.02,124.66 432.14,124.69 432.26,124.73 432.38,124.77 432.50,124.80 432.62,124.84 432.74,124.88 432.86,124.91 432.98,124.95 433.10,124.98 433.22,125.02 433.34,125.06 433.46,125.09 433.58,125.13 433.70,125.16 433.82,125.20 433.94,125.23 434.06,125.27 434.18,125.31 434.30,125.34 434.42,125.38 434.54,125.41 434.66,125.45 434.78,125.48 434.90,125.52 435.02,125.56 435.14,125.59 435.26,125.63 435.38,125.66 435.50,125.70 435.62,125.73 435.74,125.77 435.86,125.80 435.98,125.84 436.10,125.87 436.22,125.91 436.34,125.94 436.46,125.98 436.58,126.01 436.70,126.05 436.82,126.08 436.94,126.12 437.06,126.15 437.18,126.19 437.30,126.22 437.42,126.26 437.54,126.29 437.66,126.33 437.78,126.36 437.90,126.40 438.02,126.43 438.14,126.47 438.26,126.50 438.38,126.54 438.50,126.57 438.62,126.61 438.74,126.64 438.86,126.68 438.98,126.71 439.10,126.74 439.22,126.78 439.34,126.81 439.46,126.85 439.58,126.88 439.70,126.92 439.82,126.95 439.94,126.99 440.06,127.02 440.18,127.05 440.30,127.09 440.42,127.12 440.54,127.16 440.66,127.19 440.78,127.22 440.90,127.26 441.02,127.29 441.14,127.33 441.26,127.36 441.38,127.39 441.50,127.43 441.62,127.46 441.74,127.50 441.86,127.53 441.98,127.56 442.10,127.60 442.22,127.63 442.34,127.67 442.46,127.70 442.58,127.73 442.70,127.77 442.82,127.80 442.94,127.83 443.06,127.87 443.18,127.90 443.30,127.93 443.42,127.97 443.54,128.00 443.66,128.03 443.78,128.07 443.90,128.10 444.02,128.13 444.14,128.17 444.26,128.20 444.38,128.23 444.50,128.27 444.62,128.30 444.74,128.33 444.86,128.37 444.98,128.40 445.10,128.43 445.22,128.47 445.34,128.50 445.46,128.53 445.58,128.57 445.70,128.60 445.82,128.63 445.94,128.67 446.06,128.70 446.18,128.73 446.30,128.76 446.42,128.80 446.54,128.83 446.66,128.86 446.78,128.90 446.90,128.93 447.02,128.96 447.14,128.99 447.26,129.03 447.38,129.06 447.50,129.09 447.62,129.13 447.74,129.16 447.86,129.19 447.98,129.22 448.10,129.26 448.22,129.29 448.34,129.32 448.46,129.35 448.58,129.39" fill="none" stroke="#8c8ee6" stroke-width="1.0" stroke-linejoin="round"/>
<polyline points="270.50,31.00 270.62,31.36 270.74,31.73 270.86,32.10 270.98,32.47 271.10,32.84 271.22,33.21 271.34,33.58 271.46,33.96 271.58,34.33 271.70,34.70 271.82,35.07 271.94,35.43 272.06,35.80 272.18,36.16 272.30,36.52 272.42,36.87 272.54,37.22 272.66,37.56 272.78,37.90 272.90,38.24 273.02,38.56 273.14,38.88 273.26,39.20 273.38,39.50 273.50,39.80 273.62,40.09 273.74,40.37 273.86,40.64 273.98,40.91 274.10,41.16 274.22,41.40 274.34,41.63 274.46,41.84 274.58,42.05 274.70,42.24 274.82,42.42 274.94,42.59 275.06,42.74 275.18,42.88 275.30,43.00 275.42,43.11 275.54,43.23 275.66,43.34 275.78,43.45 275.90,43.56 276.02,43.66 276.14,43.77 276.26,43.87 276.38,43.97 276.50,44.07 276.62,44.17 276.74,44.27 276.86,44.37 276.98,44.46 277.10,44.55 277.22,44.65 277.34,44.74 277.46,44.83 277.58,44.92 277.70,45.00 277.82,45.09 277.94,45.17 278.06,45.26 278.18,45.34 278.30,45.42 278.42,45.50 278.54,45.58 278.66,45.66 278.78,45.73 278.90,45.81 279.02,45.88 279.14,45.95 279.26,46.03 279.38,46.10 279.50,46.17 279.62,46.24 279.74,46.31 279.86,46.37 279.98,46.44 280.10,46.50 280.22,46.57 280.34,46.63 280.46,46.70 280.58,46.76 280.70,46.82 280.82,46.88 280.94,46.94 281.06,47.00 281.18,47.06 281.30,47.11 281.42,47.17 281.54,47.23 281.66,47.28 281.78,47.33 281.90,47.39 282.02,47.44 282.14,47.49 282.26,47.55 282.38,47.60 282.50,47.65 282.62,47.70 282.74,47.75 282.86,47.80 282.98,47.85 283.10,47.90 283.22,47.94 283.34,47.99 283.46,48.04 283.58,48.09 283.70,48.13 283.82,48.18 283.94,48.22 284.06,48.27 284.18,48.31 284.30,48.36 284.42,48.40 284.54,48.45 284.66,48.49 284.78,48.54 284.90,48.58 285.02,48.62 285.14,48.67 285.26,48.71 285.38,48.75 285.50,48.79 285.62,48.84 285.74,48.88 285.86,48.92 285.98,48.97 286.10,49.01 286.22,49.05 286.34,49.09 286.46,49.14 286.58,49.18 286.70,49.22 286.82,49.26 286.94,49.31 287.06,49.35 287.18,49.39 287.30,49.44 287.42,49.48 287.54,49.52 287.66,49.57 287.78,49.61 287.90,49.66 288.02,49.70 288.14,49.75 288.26,49.79 288.38,49.84 288.50,49.88 288.62,49.93 288.74,49.98 288.86,50.02 288.98,50.07 289.10,50.12 289.22,50.16 289.34,50.21 289.46,50.26 289.58,50.30 289.70,50.35 289.82,50.39 289.94,50.44 290.06,50.48 290.18,50.53 290.30,50.57 290.42,50.62 290.54,50.66 290.66,50.71 290.78,50.75 290.90,50.80 291.02,50.84 291.14,50.88 291.26,50.93 291.38,50.97 291.50,51.01 291.62,51.06 291.74,51.10 291.86,51.14 291.98,51.18 292.10,51.23 292.22,51.27 292.34,51.31 292.46,51.35 292.58,51.39 292.70,51.43 292.82,51.48 292.94,51.52 293.06,51.56 293.18,51.60 293.30,51.64 293.42,51.68 293.54,51.72 293.66,51.76 293.78,51.80 293.90,51.84 294.02,51.88 294.14,51.92 294.26,51.96 294.38,52.00 294.50,52.04 294.62,52.08 294.74,52.12 294.86,52.15 294.98,52.19 295.10,52.23 295.22,52.27 295.34,52.31 295.46,52.35 295.58,52.38 295.70,52.42 295.82,52.46 295.94,52.50 296.06,52.53 296.18,52.57 296.30,52.61 296.42,52.65 296.54,52.68 296.66,52.72 296.78,52.76 296.90,52.79 297.02,52.83 297.14,52.87 297.26,52.90 297.38,52.94 297.50,52.98 297.62,53.01 297.74,53.05 297.86,53.08 297.98,53.12 298.10,53.15 298.22,53.19 298.34,53.23 298.46,53.26 298.58,53.30 298.70,53.33 298.82,53.37 298.94,53.40 299.06,53.44 299.18,53.47 299.30,53.50 299.42,53.54 299.54,53.57 299.66,53.61 299.78,53.64 299.90,53.68 300.02,53.71 300.14,53.74 300.26,53.78 300.38,53.81 300.50,53.85 300.62,53.88 300.74,53.91 300.86,53.95 300.98,53.98 301.10,54.01 301.22,54.05 301.34,54.08 301.46,54.11 301.58,54.15 301.70,54.18 301.82,54.21 301.94,54.25 302.06,54.28 302.18,54.31 302.30,54.34 302.42,54.38 302.54,54.41 302.66,54.44 302.78,54.47 302.90,54.51 303.02,54.54 303.14,54.57 303.26,54.60 303.38,54.64 303.50,54.67 303.62,54.70 303.74,54.73 303.86,54.77 303.98,54.80 304.10,54.83 304.22,54.86 304.34,54.89 304.46,54.93 304.58,54.96 304.70,54.99 304.82,55.02 304.94,55.05 305.06,55.08 305.18,55.12 305.30,55.15 305.42,55.18 305.54,55.21 305.66,55.24 305.78,55.27 305.90,55.31 306.02,55.34 306.14,55.37 306.26,55.40 306.38,55.43 306.50,55.46 306.62,55.49 306.74,55.52 306.86,55.55 306.98,55.59 307.10,55.62 307.22,55.65 307.34,55.68 307.46,55.71 307.58,55.74 307.70,55.77 307.82,55.80 307.94,55.83 308.06,55.86 308.18,55.89 308.30,55.92 308.42,55.95 308.54,55.98 308.66,56.01 308.78,56.04 308.90,56.07 309.02,56.10 309.14,56.13 309.26,56.16 309.38,56.19 309.50,56.22 309.62,56.25 309.74,56.28 309.86,56.31 309.98,56.34 310.10,56.37 310.22,56.40 310.34,56.43 310.46,56.46 310.58,56.49 310.70,56.52 310.82,56.55 310.94,56.58 311.06,56.61 311.18,56.64 311.30,56.67 311.42,56.69 311.54,56.72 311.66,56.75 311.78,56.78 311.90,56.81 312.02,56.84 312.14,56.87 312.26,56.90 312.38,56.92 312.50,56.95 312.62,56.98 312.74,57.01 312.86,57.04 312.98,57.07 313.10,57.09 313.22,57.12 313.34,57.15 313.46,57.18 313.58,57.21 313.70,57.23 313.82,57.26 313.94,57.29 314.06,57.32 314.18,57.35 314.30,57.37 314.42,57.40 314.54,57.43 314.66,57.46 314.78,57.48 314.90,57.51 315.02,57.54 315.14,57.56 315.26,57.59 315.38,57.62 315.50,57.65 315.62,57.67 315.74,57.70 315.86,57.73 315.98,57.75 316.10,57.78 316.22,57.81 316.34,57.83 316.46,57.86 316.58,57.89 316.70,57.91 316.82,57.94 316.94,57.97 317.06,57.99 317.18,58.02 317.30,58.04 317.42,58.07 317.54,58.10 317.66,58.12 317.78,58.15 317.90,58.17 318.02,58.20 318.14,58.22 318.26,58.25 318.38,58.28 318.50,58.30 318.62,58.33 318.74,58.35 318.86,58.38 318.98,58.40 319.10,58.43 319.22,58.45 319.34,58.48 319.46,58.50 319.58,58.53 319.70,58.55 319.82,58.58 319.94,58.60 320.06,58.63 320.18,58.65 320.30,58.68 320.42,58.70 320.54,58.72 320.66,58.75 320.78,58.77 320.90,58.80 321.02,58.82 321.14,58.85 321.26,58.87 321.38,58.89 321.50,58.92 321.62,58.94 321.74,58.97 321.86,58.99 321.98,59.01 322.10,59.04 322.22,59.06 322.34,59.08 322.46,59.11 322.58,59.13 322.70,59.15 322.82,59.18 322.94,59.20 323.06,59.22 323.18,59.24 323.30,59.27 323.42,59.29 323.54,59.31 323.66,59.34 323.78,59.36 323.90,59.38 324.02,59.40 324.14,59.43 324.26,59.45 324.38,59.47 324.50,59.49 324.62,59.51 324.74,59.54 324.86,59.56 324.98,59.58 325.10,59.60 325.22,59.62 325.34,59.65 325.46,59.67 325.58,59.69 325.70,59.71 325.82,59.73 325.94,59.75 326.06,59.77 326.18,59.79 326.30,59.81 326.42,59.84 326.54,59.86 326.66,59.88 326.78,59.90 326.90,59.92 327.02,59.94 327.14,59.96 327.26,59.98 327.38,60.00 327.50,60.02 327.62,60.04 327.74,60.06 327.86,60.08 327.98,60.10 328.10,60.12 328.22,60.14 328.34,60.16 328.46,60.18 328.58,60.20 328.70,60.22 328.82,60.24 328.94,60.26 329.06,60.28 329.18,60.29 329.30,60.31 329.42,60.33 329.54,60.35 329.66,60.37 329.78,60.39 329.90,60.41 330.02,60.43 330.14,60.45 330.26,60.47 330.38,60.48 330.50,60.50 330.62,60.52 330.74,60.54 330.86,60.56 330.98,60.58 331.10,60.60 331.22,60.62 331.34,60.63 331.46,60.65 331.58,60.67 331.70,60.69 331.82,60.71 331.94,60.73 332.06,60.74 332.18,60.76 332.30,60.78 332.42,60.80 332.54,60.82 332.66,60.84 332.78,60.85 332.90,60.87 333.02,60.89 333.14,60.91 333.26,60.93 333.38,60.94 333.50,60.96 333.62,60.98 333.74,61.00 333.86,61.02 333.98,61.03 334.10,61.05 334.22,61.07 334.34,61.09 334.46,61.11 334.58,61.12 334.70,61.14 334.82,61.16 334.94,61.18 335.06,61.19 335.18,61.21 335.30,61.23 335.42,61.25 335.54,61.27 335.66,61.28 335.78,61.30 335.90,61.32 336.02,61.34 336.14,61.35 336.26,61.37 336.38,61.39 336.50,61.41 336.62,61.43 336.74,61.44 336.86,61.46 336.98,61.48 337.10,61.50 337.22,61.51 337.34,61.53 337.46,61.55 337.58,61.57 337.70,61.59 337.82,61.60 337.94,61.62 338.06,61.64 338.18,61.66 338.30,61.68 338.42,61.69 338.54,61.71 338.66,61.73 338.78,61.75 338.90,61.77 339.02,61.78 339.14,61.80 339.26,61.82 339.38,61.84 339.50,61.86 339.62,61.87 339.74,61.89 339.86,61.91 339.98,61.93 340.10,61.95 340.22,61.97 340.34,61.98 340.46,62.00 340.58,62.02 340.70,62.04 340.82,62.06 340.94,62.08 341.06,62.10 341.18,62.11 341.30,62.13 341.42,62.15 341.54,62.17 341.66,62.19 341.78,62.21 341.90,62.23 342.02,62.25 342.14,62.27 342.26,62.28 342.38,62.30 342.50,62.32 342.62,62.34 342.74,62.36 342.86,62.38 342.98,62.40 343.10,62.42 343.22,62.44 343.34,62.46 343.46,62.48 343.58,62.50 343.70,62.52 343.82,62.54 343.94,62.56 344.06,62.58 344.18,62.60 344.30,62.62 344.42,62.64 344.54,62.66 344.66,62.68 344.78,62.70 344.90,62.72 345.02,62.74 345.14,62.76 345.26,62.78 345.38,62.80 345.50,62.82 345.62,62.84 345.74,62.86 345.86,62.88 345.98,62.90 346.10,62.92 346.22,62.94 346.34,62.96 346.46,62.99 346.58,63.01 346.70,63.03 346.82,63.05 346.94,63.07 347.06,63.09 347.18,63.11 347.30,63.13 347.42,63.15 347.54,63.17 347.66,63.20 347.78,63.22 347.90,63.24 348.02,63.26 348.14,63.28 348.26,63.30 348.38,63.32 348.50,63.35 348.62,63.37 348.74,63.39 348.86,63.41 348.98,63.43 349.10,63.45 349.22,63.48 349.34,63.50 349.46,63.52 349.58,63.54 349.70,63.56 349.82,63.58 349.94,63.61 350.06,63.63 350.18,63.65 350.30,63.67 350.42,63.69 350.54,63.72 350.66,63.74 350.78,63.76 350.90,63.78 351.02,63.80 351.14,63.83 351.26,63.85 351.38,63.87 351.50,63.89 351.62,63.91 351.74,63.94 351.86,63.96 351.98,63.98 352.10,64.00 352.22,64.02 352.34,64.05 352.46,64.07 352.58,64.09 352.70,64.11 352.82,64.13 352.94,64.16 353.06,64.18 353.18,64.20 353.30,64.22 353.42,64.25 353.54,64.27 353.66,64.29 353.78,64.31 353.90,64.33 354.02,64.36 354.14,64.38 354.26,64.40 354.38,64.42 354.50,64.45 354.62,64.47 354.74,64.49 354.86,64.51 354.98,64.53 355.10,64.56 355.22,64.58 355.34,64.60 355.46,64.62 355.58,64.65 355.70,64.67 355.82,64.69 355.94,64.71 356.06,64.73 356.18,64.76 356.30,64.78 356.42,64.80 356.54,64.82 356.66,64.85 356.78,64.87 356.90,64.89 357.02,64.91 357.14,64.93 357.26,64.96 357.38,64.98 357.50,65.00 357.62,65.02 357.74,65.04 357.86,65.07 357.98,65.09 358.10,65.11 358.22,65.13 358.34,65.15 358.46,65.18 358.58,65.20 358.70,65.22 358.82,65.24 358.94,65.26 359.06,65.29 359.18,65.31 359.30,65.33 359.42,65.35 359.54,65.37 359.66,65.39 359.78,65.42 359.90,65.44 360.02,65.46 360.14,65.48 360.26,65.50 360.38,65.52 360.50,65.54 360.62,65.57 360.74,65.59 360.86,65.61 360.98,65.63 361.10,65.65 361.22,65.67 361.34,65.69 361.46,65.72 361.58,65.74 361.70,65.76 361.82,65.78 361.94,65.80 362.06,65.82 362.18,65.84 362.30,65.86 362.42,65.88 362.54,65.90 362.66,65.93 362.78,65.95 362.90,65.97 363.02,65.99 363.14,66.01 363.26,66.03 363.38,66.05 363.50,66.07 363.62,66.09 363.74,66.11 363.86,66.13 363.98,66.15 364.10,66.17 364.22,66.19 364.34,66.21 364.46,66.23 364.58,66.25 364.70,66.27 364.82,66.29 364.94,66.31 365.06,66.33 365.18,66.35 365.30,66.37 365.42,66.39 365.54,66.41 365.66,66.43 365.78,66.45 365.90,66.47 366.02,66.49 366.14,66.51 366.26,66.53 366.38,66.55 366.50,66.57 366.62,66.59 366.74,66.60 366.86,66.62 366.98,66.64 367.10,66.66 367.22,66.68 367.34,66.70 367.46,66.72 367.58,66.74 367.70,66.75 367.82,66.77 367.94,66.79 368.06,66.81 368.18,66.83 368.30,66.85 368.42,66.86 368.54,66.88 368.66,66.90 368.78,66.92 368.90,66.94 369.02,66.95 369.14,66.97 369.26,66.99 369.38,67.01 369.50,67.02 369.62,67.04 369.74,67.06 369.86,67.08 369.98,67.09 370.10,67.11 370.22,67.13 370.34,67.15 370.46,67.16 370.58,67.18 370.70,67.20 370.82,67.21 370.94,67.23 371.06,67.25 371.18,67.27 371.30,67.28 371.42,67.30 371.54,67.32 371.66,67.33 371.78,67.35 371.90,67.37 372.02,67.38 372.14,67.40 372.26,67.42 372.38,67.43 372.50,67.45 372.62,67.47 372.74,67.48 372.86,67.50 372.98,67.51 373.10,67.53 373.22,67.55 373.34,67.56 373.46,67.58 373.58,67.60 373.70,67.61 373.82,67.63 373.94,67.64 374.06,67.66 374.18,67.68 374.30,67.69 374.42,67.71 374.54,67.72 374.66,67.74 374.78,67.76 374.90,67.77 375.02,67.79 375.14,67.80 375.26,67.82 375.38,67.83 375.50,67.85 375.62,67.87 375.74,67.88 375.86,67.90 375.98,67.91 376.10,67.93 376.22,67.94 376.34,67.96 376.46,67.97 376.58,67.99 376.70,68.01 376.82,68.02 376.94,68.04 377.06,68.05 377.18,68.07 377.30,68.08 377.42,68.10 377.54,68.11 377.66,68.13 377.78,68.14 377.90,68.16 378.02,68.17 378.14,68.19 378.26,68.21 378.38,68.22 378.50,68.24 378.62,68.25 378.74,68.27 378.86,68.28 378.98,68.30 379.10,68.31 379.22,68.33 379.34,68.34 379.46,68.36 379.58,68.37 379.70,68.39 379.82,68.40 379.94,68.42 380.06,68.43 380.18,68.45 380.30,68.46 380.42,68.48 380.54,68.49 380.66,68.51 380.78,68.52 380.90,68.54 381.02,68.55 381.14,68.57 381.26,68.58 381.38,68.60 381.50,68.61 381.62,68.63 381.74,68.64 381.86,68.66 381.98,68.67 382.10,68.69 382.22,68.70 382.34,68.72 382.46,68.74 382.58,68.75 382.70,68.77 382.82,68.78 382.94,68.80 383.06,68.81 383.18,68.83 383.30,68.84 383.42,68.86 383.54,68.87 383.66,68.89 383.78,68.90 383.90,68.92 384.02,68.93 384.14,68.95 384.26,68.96 384.38,68.98 384.50,68.99 384.62,69.01 384.74,69.03 384.86,69.04 384.98,69.06 385.10,69.07 385.22,69.09 385.34,69.10 385.46,69.12 385.58,69.13 385.70,69.15 385.82,69.16 385.94,69.18 386.06,69.20 386.18,69.21 386.30,69.23 386.42,69.24 386.54,69.26 386.66,69.27 386.78,69.29 386.90,69.31 387.02,69.32 387.14,69.34 387.26,69.35 387.38,69.37 387.50,69.39 387.62,69.40 387.74,69.42 387.86,69.43 387.98,69.45 388.10,69.47 388.22,69.48 388.34,69.50 388.46,69.51 388.58,69.53 388.70,69.55 388.82,69.56 388.94,69.58 389.06,69.60 389.18,69.61 389.30,69.63 389.42,69.65 389.54,69.66 389.66,69.68 389.78,69.70 389.90,69.71 390.02,69.73 390.14,69.75 390.26,69.76 390.38,69.78 390.50,69.80 390.62,69.81 390.74,69.83 390.86,69.85 390.98,69.86 391.10,69.88 391.22,69.90 391.34,69.92 391.46,69.93 391.58,69.95 391.70,69.97 391.82,69.99 391.94,70.00 392.06,70.02 392.18,70.04 392.30,70.06 392.42,70.07 392.54,70.09 392.66,70.11 392.78,70.13 392.90,70.14 393.02,70.16 393.14,70.18 393.26,70.20 393.38,70.22 393.50,70.23 393.62,70.25 393.74,70.27 393.86,70.29 393.98,70.31 394.10,70.32 394.22,70.34 394.34,70.36 394.46,70.38 394.58,70.40 394.70,70.41 394.82,70.43 394.94,70.45 395.06,70.47 395.18,70.49 395.30,70.50 395.42,70.52 395.54,70.54 395.66,70.56 395.78,70.58 395.90,70.59 396.02,70.61 396.14,70.63 396.26,70.65 396.38,70.67 396.50,70.68 396.62,70.70 396.74,70.72 396.86,70.74 396.98,70.76 397.10,70.78 397.22,70.79 397.34,70.81 397.46,70.83 397.58,70.85 397.70,70.87 397.82,70.88 397.94,70.90 398.06,70.92 398.18,70.94 398.30,70.96 398.42,70.98 398.54,70.99 398.66,71.01 398.78,71.03 398.90,71.05 399.02,71.07 399.14,71.09 399.26,71.10 399.38,71.12 399.50,71.14 399.62,71.16 399.74,71.18 399.86,71.20 399.98,71.22 400.10,71.23 400.22,71.25 400.34,71.27 400.46,71.29 400.58,71.31 400.70,71.33 400.82,71.34 400.94,71.36 401.06,71.38 401.18,71.40 401.30,71.42 401.42,71.44 401.54,71.46 401.66,71.47 401.78,71.49 401.90,71.51 402.02,71.53 402.14,71.55 402.26,71.57 402.38,71.59 402.50,71.61 402.62,71.62 402.74,71.64 402.86,71.66 402.98,71.68 403.10,71.70 403.22,71.72 403.34,71.74 403.46,71.76 403.58,71.77 403.70,71.79 403.82,71.81 403.94,71.83 404.06,71.85 404.18,71.87 404.30,71.89 404.42,71.91 404.54,71.93 404.66,71.94 404.78,71.96 404.90,71.98 405.02,72.00 405.14,72.02 405.26,72.04 405.38,72.06 405.50,72.08 405.62,72.10 405.74,72.12 405.86,72.13 405.98,72.15 406.10,72.17 406.22,72.19 406.34,72.21 406.46,72.23 406.58,72.25 406.70,72.27 406.82,72.29 406.94,72.31 407.06,72.33 407.18,72.34 407.30,72.36 407.42,72.38 407.54,72.40 407.66,72.42 407.78,72.44 407.90,72.46 408.02,72.48 408.14,72.50 408.26,72.52 408.38,72.54 408.50,72.56 408.62,72.58 408.74,72.59 408.86,72.61 408.98,72.63 409.10,72.65 409.22,72.67 409.34,72.69 409.46,72.71 409.58,72.73 409.70,72.75 409.82,72.77 409.94,72.79 410.06,72.81 410.18,72.83 410.30,72.85 410.42,72.87 410.54,72.89 410.66,72.91 410.78,72.92 410.90,72.94 411.02,72.96 411.14,72.98 411.26,73.00 411.38,73.02 411.50,73.04 411.62,73.06 411.74,73.08 411.86,73.10 411.98,73.12 412.10,73.14 412.22,73.16 412.34,73.18 412.46,73.20 412.58,73.22 412.70,73.24 412.82,73.26 412.94,73.28 413.06,73.30 413.18,73.32 413.30,73.34 413.42,73.36 413.54,73.38 413.66,73.40 413.78,73.42 413.90,73.44 414.02,73.46 414.14,73.48 414.26,73.50 414.38,73.52 414.50,73.54 414.62,73.56 414.74,73.58 414.86,73.60 414.98,73.62 415.10,73.64 415.22,73.66 415.34,73.68 415.46,73.70 415.58,73.72 415.70,73.74 415.82,73.76 415.94,73.78 416.06,73.80 416.18,73.82 416.30,73.84 416.42,73.86 416.54,73.88 416.66,73.90 416.78,73.92 416.90,73.94 417.02,73.96 417.14,73.98 417.26,74.00 417.38,74.02 417.50,74.04 417.62,74.06 417.74,74.08 417.86,74.10 417.98,74.12 418.10,74.14 418.22,74.16 418.34,74.18 418.46,74.20 418.58,74.22 418.70,74.24 418.82,74.26 418.94,74.28 419.06,74.30 419.18,74.32 419.30,74.34 419.42,74.36 419.54,74.38 419.66,74.40 419.78,74.42 419.90,74.44 420.02,74.46 420.14,74.48 420.26,74.51 420.38,74.53 420.50,74.55 420.62,74.57 420.74,74.59 420.86,74.61 420.98,74.63 421.10,74.65 421.22,74.67 421.34,74.69 421.46,74.71 421.58,74.73 421.70,74.75 421.82,74.77 421.94,74.79 422.06,74.81 422.18,74.83 422.30,74.86 422.42,74.88 422.54,74.90 422.66,74.92 422.78,74.94 422.90,74.96 423.02,74.98 423.14,75.00 423.26,75.02 423.38,75.04 423.50,75.06 423.62,75.08 423.74,75.10 423.86,75.13 423.98,75.15 424.10,75.17 424.22,75.19 424.34,75.21 424.46,75.23 424.58,75.25 424.70,75.27 424.82,75.29 424.94,75.31 425.06,75.34 425.18,75.36 425.30,75.38 425.42,75.40 425.54,75.42 425.66,75.44 425.78,75.46 425.90,75.48 426.02,75.50 426.14,75.53 426.26,75.55 426.38,75.57 426.50,75.59 426.62,75.61 426.74,75.63 426.86,75.65 426.98,75.67 427.10,75.69 427.22,75.72 427.34,75.74 427.46,75.76 427.58,75.78 427.70,75.80 427.82,75.82 427.94,75.84 428.06,75.86 428.18,75.89 428.30,75.91 428.42,75.93 428.54,75.95 428.66,75.97 428.78,75.99 428.90,76.01 429.02,76.04 429.14,76.06 429.26,76.08 429.38,76.10 429.50,76.12 429.62,76.14 429.74,76.17 429.86,76.19 429.98,76.21 430.10,76.23 430.22,76.25 430.34,76.27 430.46,76.29 430.58,76.32 430.70,76.34 430.82,76.36 430.94,76.38 431.06,76.40 431.18,76.42 431.30,76.45 431.42,76.47 431.54,76.49 431.66,76.51 431.78,76.53 431.90,76.55 432.02,76.58 432.14,76.60 432.26,76.62 432.38,76.64 432.50,76.66 432.62,76.69 432.74,76.71 432.86,76.73 432.98,76.75 433.10,76.77 433.22,76.80 433.34,76.82 433.46,76.84 433.58,76.86 433.70,76.88 433.82,76.90 433.94,76.93 434.06,76.95 434.18,76.97 434.30,76.99 434.42,77.02 434.54,77.04 434.66,77.06 434.78,77.08 434.90,77.10 435.02,77.13 435.14,77.15 435.26,77.17 435.38,77.19 435.50,77.21 435.62,77.24 435.74,77.26 435.86,77.28 435.98,77.30 436.10,77.33 436.22,77.35 436.34,77.37 436.46,77.39 436.58,77.41 436.70,77.44 436.82,77.46 436.94,77.48 437.06,77.50 437.18,77.53 437.30,77.55 437.42,77.57 437.54,77.59 437.66,77.62 437.78,77.64 437.90,77.66 438.02,77.68 438.14,77.71 438.26,77.73 438.38,77.75 438.50,77.77 438.62,77.80 438.74,77.82 438.86,77.84 438.98,77.86 439.10,77.89 439.22,77.91 439.34,77.93 439.46,77.95 439.58,77.98 439.70,78.00 439.82,78.02 439.94,78.04 440.06,78.07 440.18,78.09 440.30,78.11 440.42,78.14 440.54,78.16 440.66,78.18 440.78,78.20 440.90,78.23 441.02,78.25 441.14,78.27 441.26,78.30 441.38,78.32 441.50,78.34 441.62,78.36 441.74,78.39 441.86,78.41 441.98,78.43 442.10,78.46 442.22,78.48 442.34,78.50 442.46,78.52 442.58,78.55 442.70,78.57 442.82,78.59 442.94,78.62 443.06,78.64 443.18,78.66 443.30,78.69 443.42,78.71 443.54,78.73 443.66,78.76 443.78,78.78 443.90,78.80 444.02,78.82 444.14,78.85 444.26,78.87 444.38,78.89 444.50,78.92 444.62,78.94 444.74,78.96 444.86,78.99 444.98,79.01 445.10,79.03 445.22,79.06 445.34,79.08 445.46,79.10 445.58,79.13 445.70,79.15 445.82,79.17 445.94,79.20 446.06,79.22 446.18,79.24 446.30,79.27 446.42,79.29 446.54,79.32 446.66,79.34 446.78,79.36 446.90,79.39 447.02,79.41 447.14,79.43 447.26,79.46 447.38,79.48 447.50,79.50 447.62,79.53 447.74,79.55 447.86,79.57 447.98,79.60 448.10,79.62 448.22,79.65 448.34,79.67 448.46,79.69 448.58,79.72" fill="none" stroke="#8c8ee6" stroke-width="1.0" stroke-linejoin="round"/>
<rect x="269.6" y="11.4" width="179.39999999999998" height="144.29999999999998" fill="none" stroke="#3c3c3c" stroke-width="1.1"/>
<line x1="270.6" y1="155.7" x2="270.6" y2="158.2" stroke="#3c3c3c" stroke-width="1"/>
<line x1="317.6" y1="155.7" x2="317.6" y2="158.2" stroke="#3c3c3c" stroke-width="1"/>
<line x1="364.6" y1="155.7" x2="364.6" y2="158.2" stroke="#3c3c3c" stroke-width="1"/>
<line x1="411.6" y1="155.7" x2="411.6" y2="158.2" stroke="#3c3c3c" stroke-width="1"/>
<line x1="294.1" y1="155.7" x2="294.1" y2="157.2" stroke="#3c3c3c" stroke-width="1"/>
<line x1="341.1" y1="155.7" x2="341.1" y2="157.2" stroke="#3c3c3c" stroke-width="1"/>
<line x1="388.1" y1="155.7" x2="388.1" y2="157.2" stroke="#3c3c3c" stroke-width="1"/>
<line x1="435.1" y1="155.7" x2="435.1" y2="157.2" stroke="#3c3c3c" stroke-width="1"/>
<text x="270.2" y="169.4" text-anchor="middle" style="font-size:10.6px;font-weight:bold;fill:#1a1a1a;stroke:#1a1a1a;stroke-width:0.3px;">0.0</text>
<text x="316.1" y="170.8" text-anchor="middle" style="font-size:10.6px;font-weight:bold;fill:#1a1a1a">5.0x10<tspan dy="-4.5" style="font-size:7.5px">2</tspan></text>
<text x="363.1" y="170.8" text-anchor="middle" style="font-size:10.6px;font-weight:bold;fill:#1a1a1a">1.0x10<tspan dy="-4.5" style="font-size:7.5px">3</tspan></text>
<text x="410.1" y="170.8" text-anchor="middle" style="font-size:10.6px;font-weight:bold;fill:#1a1a1a">1.5x10<tspan dy="-4.5" style="font-size:7.5px">3</tspan></text>
<text x="335.6" y="186.6" textLength="47.5" lengthAdjust="spacingAndGlyphs" style="font-size:11px;font-weight:bold;fill:#1a1a1a;stroke:#1a1a1a;stroke-width:0.3px;">Time (ns)</text>
<text x="258.4" y="79.8" text-anchor="middle" textLength="72" lengthAdjust="spacingAndGlyphs" transform="rotate(-90 258.4 79.8)" style="font-size:11px;font-weight:bold;fill:#1a1a1a;stroke:#1a1a1a;stroke-width:0.3px;">Intensity (a.u.)</text>
<line x1="363.3" y1="19.3" x2="384.7" y2="19.3" stroke="#b85050" stroke-width="1.3"/>
<line x1="363.3" y1="31.9" x2="384.7" y2="31.9" stroke="#40c888" stroke-width="1.3"/>
<line x1="363.3" y1="42.9" x2="384.7" y2="42.9" stroke="#8c8ee6" stroke-width="1.3"/>
<text x="387.6" y="22.7" textLength="33.0" lengthAdjust="spacingAndGlyphs" style="font-size:9.8px;font-weight:bold;fill:#a8474a;stroke:#a8474a;stroke-width:0.3px;">Control</text>
<text x="387.6" y="35.3" textLength="22.0" lengthAdjust="spacingAndGlyphs" style="font-size:9.8px;font-weight:bold;fill:#3cc680;stroke:#3cc680;stroke-width:0.3px;">ADAI</text>
<text x="387.6" y="46.3" textLength="56.6" lengthAdjust="spacingAndGlyphs" style="font-size:9.8px;font-weight:bold;fill:#8a8ee8;stroke:#8a8ee8;stroke-width:0.3px;">Fitting linaer</text>
<text x="271.0" y="19.9" textLength="85.3" lengthAdjust="spacingAndGlyphs" style="font-size:8px;font-weight:bold;fill:#34349a;font-style:italic;stroke:#34349a;stroke-width:0.3px;">Glass/perovskite/(ADAI)</text>
<text x="273.6" y="132.9" style="font-size:10.5px;font-weight:bold;fill:#a8474a"><tspan style="font-weight:normal;font-size:10px">τ</tspan><tspan dy="2.3" style="font-size:10px">1</tspan><tspan dy="-2.3" dx="0.6">=300 ns</tspan></text>
<text x="273.6" y="149.1" style="font-size:10.5px;font-weight:bold;fill:#3cbf7e"><tspan style="font-weight:normal;font-size:10px">τ</tspan><tspan dy="2.6" style="font-size:10px">2</tspan><tspan dy="-2.6" dx="0.2">=823 ns</tspan></text>
<text x="239.6" y="16.6" style="font-size:20.5px;font-weight:bold;fill:#1a1a1a;stroke:#1a1a1a;stroke-width:0.3px;">b</text>
<defs><clipPath id="ic"><rect x="501.6" y="59.3" width="60.3" height="54.8"/></clipPath></defs>
<rect x="501.6" y="59.3" width="60.3" height="54.8" fill="#2a2a1e"/>
<g clip-path="url(#ic)"><g>
<rect x="500" y="58" width="16" height="16" fill="#4c4c3a"/>
<rect x="514" y="58" width="36" height="8" fill="#34342a"/>
<rect x="548" y="58" width="15" height="36" fill="#38382e"/>
<rect x="553" y="64" width="9" height="9" fill="#5c5c4a"/>
<rect x="500" y="73" width="14" height="21" fill="#262620"/>
<rect x="514" y="66" width="34" height="27" fill="#121210"/>
<rect x="519" y="61" width="1.2" height="12" fill="#484838"/>
<rect x="524" y="61" width="1.2" height="12" fill="#484838"/>
<rect x="541" y="61" width="1.2" height="12" fill="#484838"/>
<rect x="500" y="92.5" width="63" height="14" fill="#2e2e22"/>
<rect x="500" y="94.2" width="63" height="1.6" fill="#7a7a62"/>
<rect x="502.6" y="96" width="3.0" height="10" rx="1.2" fill="#80806a"/>
<rect x="508.1" y="96" width="3.0" height="10" rx="1.2" fill="#80806a"/>
<rect x="513.6" y="96" width="3.0" height="10" rx="1.2" fill="#80806a"/>
<rect x="519.1" y="96" width="3.0" height="10" rx="1.2" fill="#80806a"/>
<rect x="524.6" y="96" width="3.0" height="10" rx="1.2" fill="#80806a"/>
<rect x="530.1" y="96" width="3.0" height="10" rx="1.2" fill="#80806a"/>
<rect x="535.6" y="96" width="3.0" height="10" rx="1.2" fill="#80806a"/>
<rect x="541.1" y="96" width="3.0" height="10" rx="1.2" fill="#80806a"/>
<rect x="500" y="106" width="46" height="9" fill="#626250"/>
<rect x="546" y="97" width="17" height="18" fill="#8e8e76"/>
</g></g>
<rect x="530.9" y="76.3" width="6.3" height="8.9" fill="#ff40c8"/>
<polyline points="493.60,148.90 497.40,148.80 515.20,148.90 533.40,148.90 568.30,146.80 595.60,140.50 617.50,131.20 628.50,127.00 636.50,122.90 643.00,119.80 648.50,117.40 652.30,117.00 656.00,117.30 659.30,118.30 662.50,119.50 665.30,120.90 668.10,122.40 670.60,123.90 672.60,125.40" fill="none" stroke="#b0504a" stroke-width="1.0" stroke-linejoin="round"/>
<polyline points="493.60,145.60 501.70,144.90 546.00,132.50 583.50,95.60 607.80,68.60 625.30,53.70 635.40,38.40 643.40,34.50 649.80,29.70 655.20,25.60 659.80,24.10 663.80,23.50 667.60,24.40 670.80,26.40 673.00,29.50" fill="none" stroke="#40c888" stroke-width="1.0" stroke-linejoin="round"/>
<circle cx="497.40" cy="148.80" r="2.2" fill="url(#gr)"/>
<circle cx="515.20" cy="148.90" r="2.2" fill="url(#gr)"/>
<circle cx="533.40" cy="148.90" r="2.2" fill="url(#gr)"/>
<circle cx="568.30" cy="146.80" r="2.2" fill="url(#gr)"/>
<circle cx="595.60" cy="140.50" r="2.2" fill="url(#gr)"/>
<circle cx="617.50" cy="131.20" r="2.2" fill="url(#gr)"/>
<circle cx="628.50" cy="127.00" r="2.2" fill="url(#gr)"/>
<circle cx="636.50" cy="122.90" r="2.2" fill="url(#gr)"/>
<circle cx="643.00" cy="119.80" r="2.2" fill="url(#gr)"/>
<circle cx="648.50" cy="117.40" r="2.2" fill="url(#gr)"/>
<circle cx="652.30" cy="117.00" r="2.2" fill="url(#gr)"/>
<circle cx="656.00" cy="117.30" r="2.2" fill="url(#gr)"/>
<circle cx="659.30" cy="118.30" r="2.2" fill="url(#gr)"/>
<circle cx="662.50" cy="119.50" r="2.2" fill="url(#gr)"/>
<circle cx="665.30" cy="120.90" r="2.2" fill="url(#gr)"/>
<circle cx="668.10" cy="122.40" r="2.2" fill="url(#gr)"/>
<circle cx="670.60" cy="123.90" r="2.2" fill="url(#gr)"/>
<circle cx="672.60" cy="125.40" r="2.2" fill="url(#gr)"/>
<circle cx="501.70" cy="144.90" r="2.2" fill="url(#gg)"/>
<circle cx="546.00" cy="132.50" r="2.2" fill="url(#gg)"/>
<circle cx="583.50" cy="95.60" r="2.2" fill="url(#gg)"/>
<circle cx="607.80" cy="68.60" r="2.2" fill="url(#gg)"/>
<circle cx="625.30" cy="53.70" r="2.2" fill="url(#gg)"/>
<circle cx="635.40" cy="38.40" r="2.2" fill="url(#gg)"/>
<circle cx="643.40" cy="34.50" r="2.2" fill="url(#gg)"/>
<circle cx="649.80" cy="29.70" r="2.2" fill="url(#gg)"/>
<circle cx="655.20" cy="25.60" r="2.2" fill="url(#gg)"/>
<circle cx="659.80" cy="24.10" r="2.2" fill="url(#gg)"/>
<circle cx="663.80" cy="23.50" r="2.2" fill="url(#gg)"/>
<circle cx="667.60" cy="24.40" r="2.2" fill="url(#gg)"/>
<circle cx="670.80" cy="26.40" r="2.2" fill="url(#gg)"/>
<circle cx="673.00" cy="29.50" r="2.2" fill="url(#gg)"/>
<rect x="493.6" y="15.9" width="179.69999999999993" height="144.4" fill="none" stroke="#3c3c3c" stroke-width="1.1"/>
<line x1="490.6" y1="149.2" x2="493.6" y2="149.2" stroke="#3c3c3c" stroke-width="1"/>
<line x1="490.6" y1="126.97999999999999" x2="493.6" y2="126.97999999999999" stroke="#3c3c3c" stroke-width="1"/>
<line x1="490.6" y1="104.75999999999999" x2="493.6" y2="104.75999999999999" stroke="#3c3c3c" stroke-width="1"/>
<line x1="490.6" y1="82.53999999999999" x2="493.6" y2="82.53999999999999" stroke="#3c3c3c" stroke-width="1"/>
<line x1="490.6" y1="60.31999999999999" x2="493.6" y2="60.31999999999999" stroke="#3c3c3c" stroke-width="1"/>
<line x1="490.6" y1="38.099999999999994" x2="493.6" y2="38.099999999999994" stroke="#3c3c3c" stroke-width="1"/>
<line x1="490.6" y1="15.879999999999995" x2="493.6" y2="15.879999999999995" stroke="#3c3c3c" stroke-width="1"/>
<line x1="491.8" y1="160.31" x2="493.6" y2="160.31" stroke="#3c3c3c" stroke-width="1"/>
<line x1="491.8" y1="138.08999999999997" x2="493.6" y2="138.08999999999997" stroke="#3c3c3c" stroke-width="1"/>
<line x1="491.8" y1="115.86999999999999" x2="493.6" y2="115.86999999999999" stroke="#3c3c3c" stroke-width="1"/>
<line x1="491.8" y1="93.64999999999999" x2="493.6" y2="93.64999999999999" stroke="#3c3c3c" stroke-width="1"/>
<line x1="491.8" y1="71.42999999999999" x2="493.6" y2="71.42999999999999" stroke="#3c3c3c" stroke-width="1"/>
<line x1="491.8" y1="49.209999999999994" x2="493.6" y2="49.209999999999994" stroke="#3c3c3c" stroke-width="1"/>
<line x1="491.8" y1="26.989999999999995" x2="493.6" y2="26.989999999999995" stroke="#3c3c3c" stroke-width="1"/>
<text x="489.8" y="153.0" text-anchor="end" style="font-size:10.6px;font-weight:bold;fill:#1a1a1a;stroke:#1a1a1a;stroke-width:0.3px;">0</text>
<text x="489.8" y="130.78" text-anchor="end" style="font-size:10.6px;font-weight:bold;fill:#1a1a1a;stroke:#1a1a1a;stroke-width:0.3px;">2</text>
<text x="489.8" y="108.55999999999999" text-anchor="end" style="font-size:10.6px;font-weight:bold;fill:#1a1a1a;stroke:#1a1a1a;stroke-width:0.3px;">4</text>
<text x="489.8" y="86.33999999999999" text-anchor="end" style="font-size:10.6px;font-weight:bold;fill:#1a1a1a;stroke:#1a1a1a;stroke-width:0.3px;">6</text>
<text x="489.8" y="64.11999999999999" text-anchor="end" style="font-size:10.6px;font-weight:bold;fill:#1a1a1a;stroke:#1a1a1a;stroke-width:0.3px;">8</text>
<text x="489.8" y="41.89999999999999" text-anchor="end" style="font-size:10.6px;font-weight:bold;fill:#1a1a1a;stroke:#1a1a1a;stroke-width:0.3px;">10</text>
<text x="489.8" y="19.679999999999996" text-anchor="end" style="font-size:10.6px;font-weight:bold;fill:#1a1a1a;stroke:#1a1a1a;stroke-width:0.3px;">12</text>
<line x1="499.7" y1="160.3" x2="499.7" y2="162.8" stroke="#3c3c3c" stroke-width="1"/>
<line x1="551.37" y1="160.3" x2="551.37" y2="162.8" stroke="#3c3c3c" stroke-width="1"/>
<line x1="603.04" y1="160.3" x2="603.04" y2="162.8" stroke="#3c3c3c" stroke-width="1"/>
<line x1="654.71" y1="160.3" x2="654.71" y2="162.8" stroke="#3c3c3c" stroke-width="1"/>
<line x1="494.6926596278737" y1="160.3" x2="494.6926596278737" y2="161.8" stroke="#3c3c3c" stroke-width="1"/>
<line x1="497.3357104627299" y1="160.3" x2="497.3357104627299" y2="161.8" stroke="#3c3c3c" stroke-width="1"/>
<line x1="515.2542198759579" y1="160.3" x2="515.2542198759579" y2="161.8" stroke="#3c3c3c" stroke-width="1"/>
<line x1="524.352855231365" y1="160.3" x2="524.352855231365" y2="161.8" stroke="#3c3c3c" stroke-width="1"/>
<line x1="530.8084397519158" y1="160.3" x2="530.8084397519158" y2="161.8" stroke="#3c3c3c" stroke-width="1"/>
<line x1="535.815780124042" y1="160.3" x2="535.815780124042" y2="161.8" stroke="#3c3c3c" stroke-width="1"/>
<line x1="539.9070751073228" y1="160.3" x2="539.9070751073228" y2="161.8" stroke="#3c3c3c" stroke-width="1"/>
<line x1="543.3662157275367" y1="160.3" x2="543.3662157275367" y2="161.8" stroke="#3c3c3c" stroke-width="1"/>
<line x1="546.3626596278738" y1="160.3" x2="546.3626596278738" y2="161.8" stroke="#3c3c3c" stroke-width="1"/>
<line x1="549.0057104627299" y1="160.3" x2="549.0057104627299" y2="161.8" stroke="#3c3c3c" stroke-width="1"/>
<line x1="566.9242198759579" y1="160.3" x2="566.9242198759579" y2="161.8" stroke="#3c3c3c" stroke-width="1"/>
<line x1="576.0228552313649" y1="160.3" x2="576.0228552313649" y2="161.8" stroke="#3c3c3c" stroke-width="1"/>
<line x1="582.4784397519159" y1="160.3" x2="582.4784397519159" y2="161.8" stroke="#3c3c3c" stroke-width="1"/>
<line x1="587.4857801240421" y1="160.3" x2="587.4857801240421" y2="161.8" stroke="#3c3c3c" stroke-width="1"/>
<line x1="591.5770751073228" y1="160.3" x2="591.5770751073228" y2="161.8" stroke="#3c3c3c" stroke-width="1"/>
<line x1="595.0362157275366" y1="160.3" x2="595.0362157275366" y2="161.8" stroke="#3c3c3c" stroke-width="1"/>
<line x1="598.0326596278737" y1="160.3" x2="598.0326596278737" y2="161.8" stroke="#3c3c3c" stroke-width="1"/>
<line x1="600.6757104627299" y1="160.3" x2="600.6757104627299" y2="161.8" stroke="#3c3c3c" stroke-width="1"/>
<line x1="618.594219875958" y1="160.3" x2="618.594219875958" y2="161.8" stroke="#3c3c3c" stroke-width="1"/>
<line x1="627.692855231365" y1="160.3" x2="627.692855231365" y2="161.8" stroke="#3c3c3c" stroke-width="1"/>
<line x1="634.1484397519158" y1="160.3" x2="634.1484397519158" y2="161.8" stroke="#3c3c3c" stroke-width="1"/>
<line x1="639.155780124042" y1="160.3" x2="639.155780124042" y2="161.8" stroke="#3c3c3c" stroke-width="1"/>
<line x1="643.2470751073229" y1="160.3" x2="643.2470751073229" y2="161.8" stroke="#3c3c3c" stroke-width="1"/>
<line x1="646.7062157275367" y1="160.3" x2="646.7062157275367" y2="161.8" stroke="#3c3c3c" stroke-width="1"/>
<line x1="649.7026596278737" y1="160.3" x2="649.7026596278737" y2="161.8" stroke="#3c3c3c" stroke-width="1"/>
<line x1="652.3457104627299" y1="160.3" x2="652.3457104627299" y2="161.8" stroke="#3c3c3c" stroke-width="1"/>
<line x1="670.2642198759579" y1="160.3" x2="670.2642198759579" y2="161.8" stroke="#3c3c3c" stroke-width="1"/>
<text x="499.7" y="173.6" text-anchor="middle" style="font-size:10.6px;font-weight:bold;fill:#1a1a1a;stroke:#1a1a1a;stroke-width:0.3px;">0.1</text>
<text x="551.37" y="173.6" text-anchor="middle" style="font-size:10.6px;font-weight:bold;fill:#1a1a1a;stroke:#1a1a1a;stroke-width:0.3px;">1</text>
<text x="603.04" y="173.6" text-anchor="middle" style="font-size:10.6px;font-weight:bold;fill:#1a1a1a;stroke:#1a1a1a;stroke-width:0.3px;">10</text>
<text x="654.71" y="173.6" text-anchor="middle" style="font-size:10.6px;font-weight:bold;fill:#1a1a1a;stroke:#1a1a1a;stroke-width:0.3px;">100</text>
<text x="552.6" y="188.3" style="font-size:11px;fill:#1a1a1a;stroke:#1a1a1a;stroke-width:0.3px">J (mA cm<tspan dy="-4.6" style="font-size:10px">-2</tspan><tspan dy="4.6" style="font-size:9px">)</tspan></text>
<text x="474.4" y="87.0" text-anchor="middle" textLength="73" lengthAdjust="spacingAndGlyphs" transform="rotate(-90 474.4 87.0)" style="font-size:11px;font-weight:bold;fill:#1a1a1a;stroke:#1a1a1a;stroke-width:0.3px;">EQE of EL (%)</text>
<line x1="499.5" y1="26.9" x2="520.1" y2="26.9" stroke="#b85050" stroke-width="1.0"/>
<circle cx="509.60" cy="26.90" r="2.0" fill="url(#gr)"/>
<line x1="499.5" y1="38.9" x2="520.1" y2="38.9" stroke="#40c888" stroke-width="1.0"/>
<circle cx="509.60" cy="38.90" r="2.0" fill="url(#gg)"/>
<text x="522.9" y="30.4" textLength="27.5" lengthAdjust="spacingAndGlyphs" style="font-size:10px;font-weight:bold;fill:#a8474a;stroke:#a8474a;stroke-width:0.3px;">Cntrol</text>
<text x="522.9" y="42.4" textLength="22.4" lengthAdjust="spacingAndGlyphs" style="font-size:10px;font-weight:bold;fill:#3cc680;stroke:#3cc680;stroke-width:0.3px;">ADAI</text>
<text x="574.2" y="33.4" style="font-size:8px;fill:#1a1a1a">EL<tspan dy="2" style="font-size:5px">EQE,max</tspan><tspan dy="-2">=11.29%</tspan></text>
<text x="460.2" y="16.8" style="font-size:20.5px;font-weight:bold;fill:#1a1a1a;stroke:#1a1a1a;stroke-width:0.3px;">c</text>
<rect x="41.6" y="189.6" width="91.70000000000002" height="144.4" fill="#f9e7d9"/>
<rect x="133.3" y="189.6" width="18.19999999999999" height="144.4" fill="#e9d9fb"/>
<rect x="151.5" y="189.6" width="70.0" height="144.4" fill="#e6fde6"/>
<rect x="52.7" y="243.4" width="53.7" height="5.2" fill="#f2a852"/>
<rect x="52.7" y="248.6" width="53.7" height="5.5" fill="#c858f2"/>
<rect x="52.7" y="254.1" width="53.7" height="11.5" fill="#c26a5c"/>
<rect x="52.7" y="266.5" width="53.7" height="4.7" fill="#bcdff0"/>
<rect x="52.7" y="271.2" width="53.7" height="5.6" fill="#80c89c"/>
<text x="80.2" y="248.4" text-anchor="middle" style="font-size:6.2px;font-weight:bold;fill:#201000;stroke:#201000;stroke-width:0.3px;">AU</text>
<text x="81.4" y="253.4" text-anchor="middle" textLength="36.5" lengthAdjust="spacingAndGlyphs" style="font-size:5.5px;font-weight:bold;fill:#200040;stroke:#200040;stroke-width:0.3px;">Spiro-OMeTAD</text>
<text x="82.1" y="262.2" text-anchor="middle" textLength="28" lengthAdjust="spacingAndGlyphs" style="font-size:6.5px;font-weight:bold;fill:#301010;stroke:#301010;stroke-width:0.3px;">Perovskite</text>
<text x="74.6" y="270.6" style="font-size:5.5px;font-weight:bold;fill:#102030">NiO<tspan dy="1.8">x</tspan></text>
<text x="79.6" y="276.0" text-anchor="middle" style="font-size:5.5px;font-weight:bold;fill:#102010;stroke:#102010;stroke-width:0.3px;">ITO</text>
<polyline points="54.00,315.10 134.50,281.00" fill="none" stroke="#f09060" stroke-width="1.0" stroke-linejoin="round"/>
<circle cx="62.20" cy="310.40" r="2.3" fill="url(#go)"/>
<circle cx="81.50" cy="304.10" r="2.3" fill="url(#go)"/>
<circle cx="92.90" cy="299.40" r="2.3" fill="url(#go)"/>
<circle cx="100.70" cy="296.80" r="2.3" fill="url(#go)"/>
<circle cx="107.30" cy="294.20" r="2.3" fill="url(#go)"/>
<circle cx="112.80" cy="291.80" r="2.3" fill="url(#go)"/>
<circle cx="117.50" cy="289.60" r="2.3" fill="url(#go)"/>
<circle cx="121.40" cy="287.60" r="2.3" fill="url(#go)"/>
<circle cx="124.90" cy="285.50" r="2.3" fill="url(#go)"/>
<circle cx="128.10" cy="283.20" r="2.3" fill="url(#go)"/>
<circle cx="131.00" cy="280.90" r="2.3" fill="url(#go)"/>
<circle cx="133.60" cy="278.60" r="2.3" fill="url(#go)"/>
<circle cx="136.05233082706766" cy="276.2684210526316" r="2.0" fill="none" stroke="#c07050" stroke-width="0.8"/>
<circle cx="137.70466165413535" cy="272.03684210526313" r="2.0" fill="none" stroke="#c07050" stroke-width="0.8"/>
<circle cx="139.3588100686499" cy="267.80526315789473" r="2.0" fill="none" stroke="#c07050" stroke-width="0.8"/>
<circle cx="141.0146453089245" cy="263.5736842105263" r="2.0" fill="none" stroke="#c07050" stroke-width="0.8"/>
<circle cx="142.67048054919908" cy="259.3421052631579" r="2.0" fill="none" stroke="#c07050" stroke-width="0.8"/>
<circle cx="144.45263157894738" cy="255.11052631578949" r="2.0" fill="none" stroke="#c07050" stroke-width="0.8"/>
<circle cx="146.26616541353383" cy="250.87894736842105" r="2.0" fill="none" stroke="#c07050" stroke-width="0.8"/>
<circle cx="148.27293233082708" cy="246.64736842105265" r="2.0" fill="none" stroke="#c07050" stroke-width="0.8"/>
<circle cx="150.69097744360903" cy="242.4157894736842" r="2.0" fill="none" stroke="#c07050" stroke-width="0.8"/>
<polyline points="134.40,280.50 138.50,270.00 143.00,258.50 147.50,248.00 151.90,240.30" fill="none" stroke="#b040e8" stroke-width="2.2" stroke-linejoin="round"/>
<polyline points="130.50,287.00 157.00,229.50" fill="none" stroke="#c060f0" stroke-width="0.8" stroke-linejoin="round"/>
<polyline points="151.60,239.80 153.10,238.30 158.80,232.00 168.30,226.50 179.70,220.80 191.10,214.20 200.60,207.50 207.00,202.80" fill="none" stroke="#9a5a30" stroke-width="3.6" stroke-linejoin="round" stroke-linecap="round"/>
<polyline points="153.50,238.60 158.80,232.60 168.30,226.90 179.70,221.20 191.10,214.60 200.60,207.90 205.50,204.30" fill="none" stroke="#98e078" stroke-width="1.1" stroke-linejoin="round"/>
<line x1="134.4" y1="280.8" x2="142.8" y2="286.6" stroke="#111" stroke-width="0.9"/>
<path d="M145.0,288.2 L140.4,287.2 L142.6,284.2 Z" fill="#111"/>
<rect x="41.6" y="189.6" width="179.9" height="144.4" fill="none" stroke="#3c3c3c" stroke-width="1.1"/>
<line x1="38.6" y1="321.8" x2="41.6" y2="321.8" stroke="#3c3c3c" stroke-width="1"/>
<line x1="38.6" y1="297.4" x2="41.6" y2="297.4" stroke="#3c3c3c" stroke-width="1"/>
<line x1="38.6" y1="273.0" x2="41.6" y2="273.0" stroke="#3c3c3c" stroke-width="1"/>
<line x1="38.6" y1="248.60000000000002" x2="41.6" y2="248.60000000000002" stroke="#3c3c3c" stroke-width="1"/>
<line x1="38.6" y1="224.20000000000002" x2="41.6" y2="224.20000000000002" stroke="#3c3c3c" stroke-width="1"/>
<line x1="38.6" y1="199.8" x2="41.6" y2="199.8" stroke="#3c3c3c" stroke-width="1"/>
<line x1="40.1" y1="331.5097362115977" x2="41.6" y2="331.5097362115977" stroke="#3c3c3c" stroke-width="1"/>
<line x1="40.1" y1="329.14513189420114" x2="41.6" y2="329.14513189420114" stroke="#3c3c3c" stroke-width="1"/>
<line x1="40.1" y1="327.2131094906391" x2="41.6" y2="327.2131094906391" stroke="#3c3c3c" stroke-width="1"/>
<line x1="40.1" y1="325.57960782365217" x2="41.6" y2="325.57960782365217" stroke="#3c3c3c" stroke-width="1"/>
<line x1="40.1" y1="324.1646043173966" x2="41.6" y2="324.1646043173966" stroke="#3c3c3c" stroke-width="1"/>
<line x1="40.1" y1="322.91648276968044" x2="41.6" y2="322.91648276968044" stroke="#3c3c3c" stroke-width="1"/>
<line x1="40.1" y1="314.4548681057989" x2="41.6" y2="314.4548681057989" stroke="#3c3c3c" stroke-width="1"/>
<line x1="40.1" y1="310.15824138484027" x2="41.6" y2="310.15824138484027" stroke="#3c3c3c" stroke-width="1"/>
<line x1="40.1" y1="307.1097362115977" x2="41.6" y2="307.1097362115977" stroke="#3c3c3c" stroke-width="1"/>
<line x1="40.1" y1="304.74513189420117" x2="41.6" y2="304.74513189420117" stroke="#3c3c3c" stroke-width="1"/>
<line x1="40.1" y1="302.8131094906391" x2="41.6" y2="302.8131094906391" stroke="#3c3c3c" stroke-width="1"/>
<line x1="40.1" y1="301.17960782365213" x2="41.6" y2="301.17960782365213" stroke="#3c3c3c" stroke-width="1"/>
<line x1="40.1" y1="299.76460431739656" x2="41.6" y2="299.76460431739656" stroke="#3c3c3c" stroke-width="1"/>
<line x1="40.1" y1="298.51648276968047" x2="41.6" y2="298.51648276968047" stroke="#3c3c3c" stroke-width="1"/>
<line x1="40.1" y1="290.05486810579885" x2="41.6" y2="290.05486810579885" stroke="#3c3c3c" stroke-width="1"/>
<line x1="40.1" y1="285.75824138484023" x2="41.6" y2="285.75824138484023" stroke="#3c3c3c" stroke-width="1"/>
<line x1="40.1" y1="282.7097362115977" x2="41.6" y2="282.7097362115977" stroke="#3c3c3c" stroke-width="1"/>
<line x1="40.1" y1="280.34513189420113" x2="41.6" y2="280.34513189420113" stroke="#3c3c3c" stroke-width="1"/>
<line x1="40.1" y1="278.4131094906391" x2="41.6" y2="278.4131094906391" stroke="#3c3c3c" stroke-width="1"/>
<line x1="40.1" y1="276.77960782365216" x2="41.6" y2="276.77960782365216" stroke="#3c3c3c" stroke-width="1"/>
<line x1="40.1" y1="275.3646043173966" x2="41.6" y2="275.3646043173966" stroke="#3c3c3c" stroke-width="1"/>
<line x1="40.1" y1="274.1164827696805" x2="41.6" y2="274.1164827696805" stroke="#3c3c3c" stroke-width="1"/>
<line x1="40.1" y1="265.65486810579887" x2="41.6" y2="265.65486810579887" stroke="#3c3c3c" stroke-width="1"/>
<line x1="40.1" y1="261.35824138484026" x2="41.6" y2="261.35824138484026" stroke="#3c3c3c" stroke-width="1"/>
<line x1="40.1" y1="258.30973621159774" x2="41.6" y2="258.30973621159774" stroke="#3c3c3c" stroke-width="1"/>
<line x1="40.1" y1="255.94513189420115" x2="41.6" y2="255.94513189420115" stroke="#3c3c3c" stroke-width="1"/>
<line x1="40.1" y1="254.0131094906391" x2="41.6" y2="254.0131094906391" stroke="#3c3c3c" stroke-width="1"/>
<line x1="40.1" y1="252.37960782365212" x2="41.6" y2="252.37960782365212" stroke="#3c3c3c" stroke-width="1"/>
<line x1="40.1" y1="250.96460431739658" x2="41.6" y2="250.96460431739658" stroke="#3c3c3c" stroke-width="1"/>
<line x1="40.1" y1="249.71648276968048" x2="41.6" y2="249.71648276968048" stroke="#3c3c3c" stroke-width="1"/>
<line x1="40.1" y1="241.25486810579886" x2="41.6" y2="241.25486810579886" stroke="#3c3c3c" stroke-width="1"/>
<line x1="40.1" y1="236.95824138484025" x2="41.6" y2="236.95824138484025" stroke="#3c3c3c" stroke-width="1"/>
<line x1="40.1" y1="233.90973621159773" x2="41.6" y2="233.90973621159773" stroke="#3c3c3c" stroke-width="1"/>
<line x1="40.1" y1="231.54513189420115" x2="41.6" y2="231.54513189420115" stroke="#3c3c3c" stroke-width="1"/>
<line x1="40.1" y1="229.6131094906391" x2="41.6" y2="229.6131094906391" stroke="#3c3c3c" stroke-width="1"/>
<line x1="40.1" y1="227.97960782365215" x2="41.6" y2="227.97960782365215" stroke="#3c3c3c" stroke-width="1"/>
<line x1="40.1" y1="226.56460431739657" x2="41.6" y2="226.56460431739657" stroke="#3c3c3c" stroke-width="1"/>
<line x1="40.1" y1="225.31648276968048" x2="41.6" y2="225.31648276968048" stroke="#3c3c3c" stroke-width="1"/>
<line x1="40.1" y1="216.85486810579886" x2="41.6" y2="216.85486810579886" stroke="#3c3c3c" stroke-width="1"/>
<line x1="40.1" y1="212.55824138484024" x2="41.6" y2="212.55824138484024" stroke="#3c3c3c" stroke-width="1"/>
<line x1="40.1" y1="209.50973621159773" x2="41.6" y2="209.50973621159773" stroke="#3c3c3c" stroke-width="1"/>
<line x1="40.1" y1="207.14513189420114" x2="41.6" y2="207.14513189420114" stroke="#3c3c3c" stroke-width="1"/>
<line x1="40.1" y1="205.2131094906391" x2="41.6" y2="205.2131094906391" stroke="#3c3c3c" stroke-width="1"/>
<line x1="40.1" y1="203.57960782365214" x2="41.6" y2="203.57960782365214" stroke="#3c3c3c" stroke-width="1"/>
<line x1="40.1" y1="202.1646043173966" x2="41.6" y2="202.1646043173966" stroke="#3c3c3c" stroke-width="1"/>
<line x1="40.1" y1="200.9164827696805" x2="41.6" y2="200.9164827696805" stroke="#3c3c3c" stroke-width="1"/>
<line x1="40.1" y1="192.45486810579888" x2="41.6" y2="192.45486810579888" stroke="#3c3c3c" stroke-width="1"/>
<line x1="43.3" y1="334.0" x2="43.3" y2="336.5" stroke="#3c3c3c" stroke-width="1"/>
<line x1="107.3" y1="334.0" x2="107.3" y2="336.5" stroke="#3c3c3c" stroke-width="1"/>
<line x1="171.3" y1="334.0" x2="171.3" y2="336.5" stroke="#3c3c3c" stroke-width="1"/>
<line x1="62.5659197224948" y1="334.0" x2="62.5659197224948" y2="335.5" stroke="#3c3c3c" stroke-width="1"/>
<line x1="73.83576030205839" y1="334.0" x2="73.83576030205839" y2="335.5" stroke="#3c3c3c" stroke-width="1"/>
<line x1="81.8318394449896" y1="334.0" x2="81.8318394449896" y2="335.5" stroke="#3c3c3c" stroke-width="1"/>
<line x1="88.0340802775052" y1="334.0" x2="88.0340802775052" y2="335.5" stroke="#3c3c3c" stroke-width="1"/>
<line x1="93.10168002455319" y1="334.0" x2="93.10168002455319" y2="335.5" stroke="#3c3c3c" stroke-width="1"/>
<line x1="97.38627456091244" y1="334.0" x2="97.38627456091244" y2="335.5" stroke="#3c3c3c" stroke-width="1"/>
<line x1="101.09775916748438" y1="334.0" x2="101.09775916748438" y2="335.5" stroke="#3c3c3c" stroke-width="1"/>
<line x1="104.37152060411678" y1="334.0" x2="104.37152060411678" y2="335.5" stroke="#3c3c3c" stroke-width="1"/>
<line x1="126.5659197224948" y1="334.0" x2="126.5659197224948" y2="335.5" stroke="#3c3c3c" stroke-width="1"/>
<line x1="137.83576030205842" y1="334.0" x2="137.83576030205842" y2="335.5" stroke="#3c3c3c" stroke-width="1"/>
<line x1="145.8318394449896" y1="334.0" x2="145.8318394449896" y2="335.5" stroke="#3c3c3c" stroke-width="1"/>
<line x1="152.0340802775052" y1="334.0" x2="152.0340802775052" y2="335.5" stroke="#3c3c3c" stroke-width="1"/>
<line x1="157.1016800245532" y1="334.0" x2="157.1016800245532" y2="335.5" stroke="#3c3c3c" stroke-width="1"/>
<line x1="161.38627456091245" y1="334.0" x2="161.38627456091245" y2="335.5" stroke="#3c3c3c" stroke-width="1"/>
<line x1="165.09775916748438" y1="334.0" x2="165.09775916748438" y2="335.5" stroke="#3c3c3c" stroke-width="1"/>
<line x1="168.3715206041168" y1="334.0" x2="168.3715206041168" y2="335.5" stroke="#3c3c3c" stroke-width="1"/>
<line x1="190.5659197224948" y1="334.0" x2="190.5659197224948" y2="335.5" stroke="#3c3c3c" stroke-width="1"/>
<line x1="201.83576030205842" y1="334.0" x2="201.83576030205842" y2="335.5" stroke="#3c3c3c" stroke-width="1"/>
<line x1="209.8318394449896" y1="334.0" x2="209.8318394449896" y2="335.5" stroke="#3c3c3c" stroke-width="1"/>
<line x1="216.0340802775052" y1="334.0" x2="216.0340802775052" y2="335.5" stroke="#3c3c3c" stroke-width="1"/>
<line x1="221.10168002455322" y1="334.0" x2="221.10168002455322" y2="335.5" stroke="#3c3c3c" stroke-width="1"/>
<text x="37.8" y="325.6" text-anchor="end" style="font-size:10.6px;font-weight:bold;fill:#1a1a1a">10<tspan dy="-4.3" style="font-size:7.5px">-3</tspan></text>
<text x="37.8" y="301.2" text-anchor="end" style="font-size:10.6px;font-weight:bold;fill:#1a1a1a">10<tspan dy="-4.3" style="font-size:7.5px">-2</tspan></text>
<text x="37.8" y="276.8" text-anchor="end" style="font-size:10.6px;font-weight:bold;fill:#1a1a1a">10<tspan dy="-4.3" style="font-size:7.5px">-1</tspan></text>
<text x="37.8" y="252.4" text-anchor="end" style="font-size:10.6px;font-weight:bold;fill:#1a1a1a">10<tspan dy="-4.3" style="font-size:7.5px">0</tspan></text>
<text x="37.8" y="228.0" text-anchor="end" style="font-size:10.6px;font-weight:bold;fill:#1a1a1a">10<tspan dy="-4.3" style="font-size:7.5px">1</tspan></text>
<text x="37.8" y="203.6" text-anchor="end" style="font-size:10.6px;font-weight:bold;fill:#1a1a1a">10<tspan dy="-4.3" style="font-size:7.5px">2</tspan></text>
<text x="43.3" y="347.5" text-anchor="middle" style="font-size:10.6px;font-weight:bold;fill:#1a1a1a;stroke:#1a1a1a;stroke-width:0.3px;">0.01</text>
<text x="107.3" y="347.5" text-anchor="middle" style="font-size:10.6px;font-weight:bold;fill:#1a1a1a;stroke:#1a1a1a;stroke-width:0.3px;">0.1</text>
<text x="171.3" y="347.5" text-anchor="middle" style="font-size:10.6px;font-weight:bold;fill:#1a1a1a;stroke:#1a1a1a;stroke-width:0.3px;">1</text>
<text x="118.8" y="353.0" textLength="25" lengthAdjust="spacingAndGlyphs" style="font-size:11px;font-weight:bold;fill:#1a1a1a;stroke:#1a1a1a;stroke-width:0.3px;">V (V)</text>
<text transform="rotate(-90 14.6 261.4)" x="14.6" y="261.4" text-anchor="middle" style="font-size:11px;font-weight:bold;fill:#1a1a1a">J (mA cm<tspan dy="-4.5" style="font-size:8px">-2</tspan><tspan dy="4.5">)</tspan></text>
<circle cx="55.40" cy="198.10" r="2.6" fill="url(#gr2)"/>
<text x="71.2" y="201.9" textLength="37.8" lengthAdjust="spacingAndGlyphs" style="font-size:11.5px;font-weight:normal;fill:#b0564a;stroke:#b0564a;stroke-width:0.35px;">Control</text>
<text x="44" y="216.2" style="font-size:11.5px;fill:#b0564a;stroke:#b0564a;stroke-width:0.35px">N<tspan dx="1.5" dy="2.8" style="font-size:8px">trap</tspan><tspan dy="-2.8">=2.7*10</tspan><tspan dy="-4" style="font-size:7.5px">15</tspan><tspan dy="4">(cm</tspan><tspan dy="-4" style="font-size:7.5px">-3</tspan><tspan dy="4">)</tspan></text>
<text x="81.3" y="291.9" textLength="16" lengthAdjust="spacingAndGlyphs" style="font-size:10px;font-weight:normal;fill:#ec9660;stroke:#ec9660;stroke-width:0.35px;">n=1</text>
<text x="73.8" y="328.3" textLength="29" lengthAdjust="spacingAndGlyphs" style="font-size:10px;font-weight:bold;fill:#f0a070;stroke:#f0a070;stroke-width:0.3px;">Ohmic</text>
<text x="135.0" y="227.4" textLength="16.2" lengthAdjust="spacingAndGlyphs" style="font-size:10px;font-weight:normal;fill:#b450f2;stroke:#b450f2;stroke-width:0.35px;">n&gt;3</text>
<text x="186.3" y="229.3" textLength="17.6" lengthAdjust="spacingAndGlyphs" style="font-size:10px;font-weight:normal;fill:#90e890;stroke:#90e890;stroke-width:0.35px;">n=2</text>
<text x="135.0" y="328.3" textLength="16.2" lengthAdjust="spacingAndGlyphs" style="font-size:10px;font-weight:bold;fill:#b450f2;stroke:#b450f2;stroke-width:0.3px;">TFL</text>
<text x="179.2" y="328.3" textLength="23.3" lengthAdjust="spacingAndGlyphs" style="font-size:10px;font-weight:bold;fill:#b4f0b4;stroke:#b4f0b4;stroke-width:0.3px;">Child</text>
<text x="128.0" y="298.8" style="font-size:10.2px;font-weight:bold;fill:#1a1a1a">V<tspan dy="2.0" style="font-size:6.2px">TFL</tspan><tspan dy="-2.0" style="font-size:9.8px">=0.26 V</tspan></text>
<text x="17.8" y="187.5" style="font-size:20.5px;font-weight:bold;fill:#1a1a1a;stroke:#1a1a1a;stroke-width:0.3px;">d</text>
<rect x="270.3" y="190.0" width="57.69999999999999" height="144.60000000000002" fill="#f9e7d9"/>
<rect x="328.0" y="190.0" width="48.5" height="144.60000000000002" fill="#e9d9fb"/>
<rect x="376.5" y="190.0" width="73.5" height="144.60000000000002" fill="#e6fde6"/>
<rect x="390.4" y="274.2" width="53.5" height="5.7" fill="#f2a852"/>
<rect x="390.4" y="279.9" width="53.5" height="5.7" fill="#c858f2"/>
<rect x="390.4" y="285.6" width="53.5" height="3.8" fill="#a8c8b0"/>
<rect x="390.4" y="289.4" width="53.5" height="10.8" fill="#b86a5a"/>
<rect x="390.4" y="300.8" width="53.5" height="4.7" fill="#bff2f2"/>
<rect x="390.4" y="305.5" width="53.5" height="6.1" fill="#88d8ae"/>
<text x="417.2" y="279.4" text-anchor="middle" style="font-size:6.5px;font-weight:bold;fill:#201000;stroke:#201000;stroke-width:0.3px;">AU</text>
<text x="418.0" y="284.8" text-anchor="middle" textLength="36.5" lengthAdjust="spacingAndGlyphs" style="font-size:5.5px;font-weight:bold;fill:#200040;stroke:#200040;stroke-width:0.3px;">Spiro-OMeTAD</text>
<text x="417.2" y="289.0" text-anchor="middle" style="font-size:4.5px;font-weight:bold;fill:#304030;stroke:#304030;stroke-width:0.3px;">AD AI</text>
<text x="417.6" y="297.4" text-anchor="middle" textLength="27.5" lengthAdjust="spacingAndGlyphs" style="font-size:6.5px;font-weight:bold;fill:#301010;stroke:#301010;stroke-width:0.3px;">Perovskite</text>
<text x="412" y="304.8" style="font-size:5.5px;font-weight:bold;fill:#102030">NiO<tspan dy="1.8">x</tspan></text>
<text x="416.2" y="310.6" text-anchor="middle" style="font-size:5.5px;font-weight:bold;fill:#102010;stroke:#102010;stroke-width:0.3px;">ITO</text>
<polyline points="284.60,315.90 334.10,304.00" fill="none" stroke="#f09060" stroke-width="1.2" stroke-linejoin="round"/>
<polyline points="328.50,305.50 333.00,297.00 340.00,287.50 348.00,274.00 356.00,261.50 364.00,248.00 372.00,234.00 378.50,224.50" fill="none" stroke="#b040e8" stroke-width="1.2" stroke-linejoin="round"/>
<circle cx="294.30" cy="313.40" r="2.2" fill="url(#gg)"/>
<circle cx="312.90" cy="310.00" r="2.2" fill="url(#gg)"/>
<circle cx="324.00" cy="306.40" r="2.2" fill="url(#gg)"/>
<circle cx="330.70" cy="297.00" r="2.0" fill="url(#gg)"/>
<circle cx="337.40" cy="292.00" r="2.0" fill="url(#gg)"/>
<circle cx="342.30" cy="283.60" r="2.0" fill="url(#gg)"/>
<circle cx="346.50" cy="277.40" r="2.0" fill="url(#gg)"/>
<circle cx="350.20" cy="271.70" r="2.0" fill="url(#gg)"/>
<circle cx="353.60" cy="266.30" r="2.0" fill="url(#gg)"/>
<circle cx="356.90" cy="260.70" r="2.0" fill="url(#gg)"/>
<circle cx="360.00" cy="255.60" r="2.0" fill="url(#gg)"/>
<circle cx="362.30" cy="251.20" r="2.0" fill="url(#gg)"/>
<circle cx="364.30" cy="247.30" r="2.0" fill="url(#gg)"/>
<circle cx="366.10" cy="243.80" r="2.0" fill="url(#gg)"/>
<circle cx="367.80" cy="240.40" r="2.0" fill="url(#gg)"/>
<circle cx="369.40" cy="237.20" r="2.0" fill="url(#gg)"/>
<circle cx="371.10" cy="234.40" r="2.0" fill="url(#gg)"/>
<circle cx="373.40" cy="232.00" r="2.0" fill="url(#gg)"/>
<circle cx="376.00" cy="229.80" r="2.0" fill="url(#gg)"/>
<polyline points="376.50,229.60 377.40,229.00 383.10,223.30 390.70,218.90 402.10,214.20 413.50,208.50 424.90,203.20 434.00,199.00" fill="none" stroke="#4ccf84" stroke-width="3.8" stroke-linejoin="round" stroke-linecap="round"/>
<polyline points="378.00,228.50 385.00,222.80 392.00,218.80 402.00,214.60 413.00,209.20 424.00,204.00 432.00,200.30" fill="none" stroke="#a8f0b0" stroke-width="0.8" stroke-linejoin="round"/>
<line x1="328.2" y1="306.7" x2="336.0" y2="310.8" stroke="#111" stroke-width="0.9"/>
<path d="M338.6,312.2 L333.8,311.6 L335.6,308.6 Z" fill="#111"/>
<rect x="270.3" y="190.0" width="179.7" height="144.60000000000002" fill="none" stroke="#3c3c3c" stroke-width="1.1"/>
<line x1="267.3" y1="312.05" x2="270.3" y2="312.05" stroke="#3c3c3c" stroke-width="1"/>
<line x1="267.3" y1="288.6" x2="270.3" y2="288.6" stroke="#3c3c3c" stroke-width="1"/>
<line x1="267.3" y1="265.15" x2="270.3" y2="265.15" stroke="#3c3c3c" stroke-width="1"/>
<line x1="267.3" y1="241.70000000000002" x2="270.3" y2="241.70000000000002" stroke="#3c3c3c" stroke-width="1"/>
<line x1="267.3" y1="218.25" x2="270.3" y2="218.25" stroke="#3c3c3c" stroke-width="1"/>
<line x1="267.3" y1="194.8" x2="270.3" y2="194.8" stroke="#3c3c3c" stroke-width="1"/>
<line x1="268.8" y1="328.44084660167965" x2="270.3" y2="328.44084660167965" stroke="#3c3c3c" stroke-width="1"/>
<line x1="268.8" y1="324.31150657682394" x2="270.3" y2="324.31150657682394" stroke="#3c3c3c" stroke-width="1"/>
<line x1="268.8" y1="321.3816932033593" x2="270.3" y2="321.3816932033593" stroke="#3c3c3c" stroke-width="1"/>
<line x1="268.8" y1="319.10915339832036" x2="270.3" y2="319.10915339832036" stroke="#3c3c3c" stroke-width="1"/>
<line x1="268.8" y1="317.25235317850354" x2="270.3" y2="317.25235317850354" stroke="#3c3c3c" stroke-width="1"/>
<line x1="268.8" y1="315.68245096166567" x2="270.3" y2="315.68245096166567" stroke="#3c3c3c" stroke-width="1"/>
<line x1="268.8" y1="314.3225398050389" x2="270.3" y2="314.3225398050389" stroke="#3c3c3c" stroke-width="1"/>
<line x1="268.8" y1="313.12301315364783" x2="270.3" y2="313.12301315364783" stroke="#3c3c3c" stroke-width="1"/>
<line x1="268.8" y1="304.99084660167966" x2="270.3" y2="304.99084660167966" stroke="#3c3c3c" stroke-width="1"/>
<line x1="268.8" y1="300.8615065768239" x2="270.3" y2="300.8615065768239" stroke="#3c3c3c" stroke-width="1"/>
<line x1="268.8" y1="297.93169320335926" x2="270.3" y2="297.93169320335926" stroke="#3c3c3c" stroke-width="1"/>
<line x1="268.8" y1="295.65915339832037" x2="270.3" y2="295.65915339832037" stroke="#3c3c3c" stroke-width="1"/>
<line x1="268.8" y1="293.80235317850355" x2="270.3" y2="293.80235317850355" stroke="#3c3c3c" stroke-width="1"/>
<line x1="268.8" y1="292.2324509616657" x2="270.3" y2="292.2324509616657" stroke="#3c3c3c" stroke-width="1"/>
<line x1="268.8" y1="290.8725398050389" x2="270.3" y2="290.8725398050389" stroke="#3c3c3c" stroke-width="1"/>
<line x1="268.8" y1="289.67301315364784" x2="270.3" y2="289.67301315364784" stroke="#3c3c3c" stroke-width="1"/>
<line x1="268.8" y1="281.5408466016796" x2="270.3" y2="281.5408466016796" stroke="#3c3c3c" stroke-width="1"/>
<line x1="268.8" y1="277.4115065768239" x2="270.3" y2="277.4115065768239" stroke="#3c3c3c" stroke-width="1"/>
<line x1="268.8" y1="274.48169320335927" x2="270.3" y2="274.48169320335927" stroke="#3c3c3c" stroke-width="1"/>
<line x1="268.8" y1="272.2091533983204" x2="270.3" y2="272.2091533983204" stroke="#3c3c3c" stroke-width="1"/>
<line x1="268.8" y1="270.35235317850356" x2="270.3" y2="270.35235317850356" stroke="#3c3c3c" stroke-width="1"/>
<line x1="268.8" y1="268.7824509616657" x2="270.3" y2="268.7824509616657" stroke="#3c3c3c" stroke-width="1"/>
<line x1="268.8" y1="267.4225398050389" x2="270.3" y2="267.4225398050389" stroke="#3c3c3c" stroke-width="1"/>
<line x1="268.8" y1="266.22301315364786" x2="270.3" y2="266.22301315364786" stroke="#3c3c3c" stroke-width="1"/>
<line x1="268.8" y1="258.09084660167963" x2="270.3" y2="258.09084660167963" stroke="#3c3c3c" stroke-width="1"/>
<line x1="268.8" y1="253.96150657682392" x2="270.3" y2="253.96150657682392" stroke="#3c3c3c" stroke-width="1"/>
<line x1="268.8" y1="251.03169320335928" x2="270.3" y2="251.03169320335928" stroke="#3c3c3c" stroke-width="1"/>
<line x1="268.8" y1="248.75915339832036" x2="270.3" y2="248.75915339832036" stroke="#3c3c3c" stroke-width="1"/>
<line x1="268.8" y1="246.90235317850357" x2="270.3" y2="246.90235317850357" stroke="#3c3c3c" stroke-width="1"/>
<line x1="268.8" y1="245.3324509616657" x2="270.3" y2="245.3324509616657" stroke="#3c3c3c" stroke-width="1"/>
<line x1="268.8" y1="243.97253980503893" x2="270.3" y2="243.97253980503893" stroke="#3c3c3c" stroke-width="1"/>
<line x1="268.8" y1="242.77301315364784" x2="270.3" y2="242.77301315364784" stroke="#3c3c3c" stroke-width="1"/>
<line x1="268.8" y1="234.64084660167964" x2="270.3" y2="234.64084660167964" stroke="#3c3c3c" stroke-width="1"/>
<line x1="268.8" y1="230.51150657682393" x2="270.3" y2="230.51150657682393" stroke="#3c3c3c" stroke-width="1"/>
<line x1="268.8" y1="227.5816932033593" x2="270.3" y2="227.5816932033593" stroke="#3c3c3c" stroke-width="1"/>
<line x1="268.8" y1="225.30915339832038" x2="270.3" y2="225.30915339832038" stroke="#3c3c3c" stroke-width="1"/>
<line x1="268.8" y1="223.45235317850356" x2="270.3" y2="223.45235317850356" stroke="#3c3c3c" stroke-width="1"/>
<line x1="268.8" y1="221.88245096166568" x2="270.3" y2="221.88245096166568" stroke="#3c3c3c" stroke-width="1"/>
<line x1="268.8" y1="220.52253980503895" x2="270.3" y2="220.52253980503895" stroke="#3c3c3c" stroke-width="1"/>
<line x1="268.8" y1="219.32301315364785" x2="270.3" y2="219.32301315364785" stroke="#3c3c3c" stroke-width="1"/>
<line x1="268.8" y1="211.19084660167965" x2="270.3" y2="211.19084660167965" stroke="#3c3c3c" stroke-width="1"/>
<line x1="268.8" y1="207.06150657682392" x2="270.3" y2="207.06150657682392" stroke="#3c3c3c" stroke-width="1"/>
<line x1="268.8" y1="204.1316932033593" x2="270.3" y2="204.1316932033593" stroke="#3c3c3c" stroke-width="1"/>
<line x1="268.8" y1="201.85915339832036" x2="270.3" y2="201.85915339832036" stroke="#3c3c3c" stroke-width="1"/>
<line x1="268.8" y1="200.00235317850357" x2="270.3" y2="200.00235317850357" stroke="#3c3c3c" stroke-width="1"/>
<line x1="268.8" y1="198.4324509616657" x2="270.3" y2="198.4324509616657" stroke="#3c3c3c" stroke-width="1"/>
<line x1="268.8" y1="197.07253980503893" x2="270.3" y2="197.07253980503893" stroke="#3c3c3c" stroke-width="1"/>
<line x1="268.8" y1="195.87301315364783" x2="270.3" y2="195.87301315364783" stroke="#3c3c3c" stroke-width="1"/>
<line x1="275.7" y1="334.6" x2="275.7" y2="337.1" stroke="#3c3c3c" stroke-width="1"/>
<line x1="337.5" y1="334.6" x2="337.5" y2="337.1" stroke="#3c3c3c" stroke-width="1"/>
<line x1="399.29999999999995" y1="334.6" x2="399.29999999999995" y2="337.1" stroke="#3c3c3c" stroke-width="1"/>
<line x1="272.87218708335024" y1="334.6" x2="272.87218708335024" y2="336.1" stroke="#3c3c3c" stroke-width="1"/>
<line x1="294.30365373203404" y1="334.6" x2="294.30365373203404" y2="336.1" stroke="#3c3c3c" stroke-width="1"/>
<line x1="305.1860935416751" y1="334.6" x2="305.1860935416751" y2="336.1" stroke="#3c3c3c" stroke-width="1"/>
<line x1="312.9073074640681" y1="334.6" x2="312.9073074640681" y2="336.1" stroke="#3c3c3c" stroke-width="1"/>
<line x1="318.89634626796595" y1="334.6" x2="318.89634626796595" y2="336.1" stroke="#3c3c3c" stroke-width="1"/>
<line x1="323.78974727370917" y1="334.6" x2="323.78974727370917" y2="336.1" stroke="#3c3c3c" stroke-width="1"/>
<line x1="327.92705887288105" y1="334.6" x2="327.92705887288105" y2="336.1" stroke="#3c3c3c" stroke-width="1"/>
<line x1="331.5109611961021" y1="334.6" x2="331.5109611961021" y2="336.1" stroke="#3c3c3c" stroke-width="1"/>
<line x1="334.67218708335025" y1="334.6" x2="334.67218708335025" y2="336.1" stroke="#3c3c3c" stroke-width="1"/>
<line x1="356.10365373203405" y1="334.6" x2="356.10365373203405" y2="336.1" stroke="#3c3c3c" stroke-width="1"/>
<line x1="366.98609354167513" y1="334.6" x2="366.98609354167513" y2="336.1" stroke="#3c3c3c" stroke-width="1"/>
<line x1="374.7073074640681" y1="334.6" x2="374.7073074640681" y2="336.1" stroke="#3c3c3c" stroke-width="1"/>
<line x1="380.69634626796596" y1="334.6" x2="380.69634626796596" y2="336.1" stroke="#3c3c3c" stroke-width="1"/>
<line x1="385.5897472737092" y1="334.6" x2="385.5897472737092" y2="336.1" stroke="#3c3c3c" stroke-width="1"/>
<line x1="389.72705887288106" y1="334.6" x2="389.72705887288106" y2="336.1" stroke="#3c3c3c" stroke-width="1"/>
<line x1="393.3109611961021" y1="334.6" x2="393.3109611961021" y2="336.1" stroke="#3c3c3c" stroke-width="1"/>
<line x1="396.47218708335026" y1="334.6" x2="396.47218708335026" y2="336.1" stroke="#3c3c3c" stroke-width="1"/>
<line x1="417.90365373203406" y1="334.6" x2="417.90365373203406" y2="336.1" stroke="#3c3c3c" stroke-width="1"/>
<line x1="428.78609354167514" y1="334.6" x2="428.78609354167514" y2="336.1" stroke="#3c3c3c" stroke-width="1"/>
<line x1="436.50730746406805" y1="334.6" x2="436.50730746406805" y2="336.1" stroke="#3c3c3c" stroke-width="1"/>
<line x1="442.4963462679659" y1="334.6" x2="442.4963462679659" y2="336.1" stroke="#3c3c3c" stroke-width="1"/>
<line x1="447.3897472737092" y1="334.6" x2="447.3897472737092" y2="336.1" stroke="#3c3c3c" stroke-width="1"/>
<text x="266.2" y="315.9" text-anchor="end" style="font-size:10.6px;font-weight:bold;fill:#1a1a1a">10<tspan dy="-4.3" style="font-size:7.5px">-3</tspan></text>
<text x="266.2" y="292.4" text-anchor="end" style="font-size:10.6px;font-weight:bold;fill:#1a1a1a">10<tspan dy="-4.3" style="font-size:7.5px">-2</tspan></text>
<text x="266.2" y="268.9" text-anchor="end" style="font-size:10.6px;font-weight:bold;fill:#1a1a1a">10<tspan dy="-4.3" style="font-size:7.5px">-1</tspan></text>
<text x="266.2" y="245.5" text-anchor="end" style="font-size:10.6px;font-weight:bold;fill:#1a1a1a">10<tspan dy="-4.3" style="font-size:7.5px">0</tspan></text>
<text x="266.2" y="222.1" text-anchor="end" style="font-size:10.6px;font-weight:bold;fill:#1a1a1a">10<tspan dy="-4.3" style="font-size:7.5px">1</tspan></text>
<text x="266.2" y="198.6" text-anchor="end" style="font-size:10.6px;font-weight:bold;fill:#1a1a1a">10<tspan dy="-4.3" style="font-size:7.5px">2</tspan></text>
<text x="275.7" y="347.5" text-anchor="middle" style="font-size:10.6px;font-weight:bold;fill:#1a1a1a;stroke:#1a1a1a;stroke-width:0.3px;">0.01</text>
<text x="337.5" y="347.5" text-anchor="middle" style="font-size:10.6px;font-weight:bold;fill:#1a1a1a;stroke:#1a1a1a;stroke-width:0.3px;">0.1</text>
<text x="399.29999999999995" y="347.5" text-anchor="middle" style="font-size:10.6px;font-weight:bold;fill:#1a1a1a;stroke:#1a1a1a;stroke-width:0.3px;">1</text>
<text x="347.8" y="353.6" textLength="25" lengthAdjust="spacingAndGlyphs" style="font-size:11px;font-weight:bold;fill:#1a1a1a;stroke:#1a1a1a;stroke-width:0.3px;">V (V)</text>
<text transform="rotate(-90 244.0 261.4)" x="244.0" y="261.4" text-anchor="middle" style="font-size:11px;font-weight:bold;fill:#1a1a1a">J (mA cm<tspan dy="-4.5" style="font-size:8px">-2</tspan><tspan dy="4.5">)</tspan></text>
<circle cx="288.80" cy="202.30" r="2.6" fill="url(#gg)"/>
<text x="304.6" y="206.0" textLength="24.8" lengthAdjust="spacingAndGlyphs" style="font-size:11.5px;font-weight:normal;fill:#40b878;stroke:#40b878;stroke-width:0.35px;">ADAI</text>
<text x="277" y="221.0" style="font-size:11.5px;fill:#40b878;stroke:#40b878;stroke-width:0.35px">N<tspan dx="1.5" dy="2.8" style="font-size:8px">trap</tspan><tspan dy="-2.8">=0.7*</tspan><tspan style="fill:#40a890;stroke:#40a890">10</tspan><tspan dy="-4" style="font-size:7.5px;fill:#40a890;stroke:#40a890">15</tspan><tspan dy="4" style="fill:#40a890;stroke:#40a890">(cm</tspan><tspan dy="-4" style="font-size:7.5px;fill:#40a890;stroke:#40a890">-3</tspan><tspan dy="4" style="fill:#40a890;stroke:#40a890">)</tspan></text>
<text x="299.6" y="302.8" textLength="16" lengthAdjust="spacingAndGlyphs" style="font-size:10px;font-weight:normal;fill:#ec9660;stroke:#ec9660;stroke-width:0.35px;">n=1</text>
<text x="288.7" y="331.3" textLength="29" lengthAdjust="spacingAndGlyphs" style="font-size:10px;font-weight:bold;fill:#f0a070;stroke:#f0a070;stroke-width:0.3px;">Ohmic</text>
<text x="342.2" y="250.2" textLength="17" lengthAdjust="spacingAndGlyphs" style="font-size:10px;font-weight:normal;fill:#b450f2;stroke:#b450f2;stroke-width:0.35px;">n&gt;3</text>
<text x="406.8" y="227.4" textLength="17.2" lengthAdjust="spacingAndGlyphs" style="font-size:10px;font-weight:normal;fill:#90e890;stroke:#90e890;stroke-width:0.35px;">n=2</text>
<text x="347.4" y="332.1" textLength="16.3" lengthAdjust="spacingAndGlyphs" style="font-size:10px;font-weight:bold;fill:#b450f2;stroke:#b450f2;stroke-width:0.3px;">TFL</text>
<text x="404.3" y="332.1" textLength="24" lengthAdjust="spacingAndGlyphs" style="font-size:10px;font-weight:bold;fill:#b4f0b4;stroke:#b4f0b4;stroke-width:0.3px;">Child</text>
<text x="324.0" y="321.0" style="font-size:10.2px;font-weight:bold;fill:#1a1a1a">V<tspan dy="2.0" style="font-size:6.2px">TFL</tspan><tspan dy="-2.0" style="font-size:9.8px">=0.07 V</tspan></text>
<text x="238.6" y="188.0" style="font-size:20.5px;font-weight:bold;fill:#1a1a1a;stroke:#1a1a1a;stroke-width:0.3px;">e</text>
<rect x="494.0" y="189.8" width="179.20000000000005" height="144.2" fill="none" stroke="#3c3c3c" stroke-width="1.1"/>
<polyline points="494.30,327.90 494.30,312.84 494.30,296.52 494.30,283.97 494.30,275.19 494.30,258.88 494.30,242.56 494.30,227.50 494.30,217.46 494.30,211.18 494.30,208.67" fill="none" stroke="#40c888" stroke-width="1.0" stroke-linejoin="round"/>
<polyline points="494.60,325.39 494.60,316.60 494.60,294.01 494.60,277.70 494.60,258.88 494.60,240.05 494.60,224.99 494.60,214.95 494.60,209.93" fill="none" stroke="#b0504a" stroke-width="1.0" stroke-linejoin="round"/>
<circle cx="494.60" cy="325.39" r="1.5" fill="url(#gr)"/>
<circle cx="494.60" cy="316.60" r="1.5" fill="url(#gr)"/>
<circle cx="494.60" cy="294.01" r="1.5" fill="url(#gr)"/>
<circle cx="494.60" cy="277.70" r="1.5" fill="url(#gr)"/>
<circle cx="494.60" cy="258.88" r="1.5" fill="url(#gr)"/>
<circle cx="494.60" cy="240.05" r="1.5" fill="url(#gr)"/>
<circle cx="494.60" cy="224.99" r="1.5" fill="url(#gr)"/>
<circle cx="494.60" cy="214.95" r="1.5" fill="url(#gr)"/>
<circle cx="494.60" cy="209.93" r="1.5" fill="url(#gr)"/>
<circle cx="494.30" cy="327.90" r="1.5" fill="url(#gg)"/>
<circle cx="494.30" cy="312.84" r="1.5" fill="url(#gg)"/>
<circle cx="494.30" cy="296.52" r="1.5" fill="url(#gg)"/>
<circle cx="494.30" cy="283.97" r="1.5" fill="url(#gg)"/>
<circle cx="494.30" cy="275.19" r="1.5" fill="url(#gg)"/>
<circle cx="494.30" cy="258.88" r="1.5" fill="url(#gg)"/>
<circle cx="494.30" cy="242.56" r="1.5" fill="url(#gg)"/>
<circle cx="494.30" cy="227.50" r="1.5" fill="url(#gg)"/>
<circle cx="494.30" cy="217.46" r="1.5" fill="url(#gg)"/>
<circle cx="494.30" cy="211.18" r="1.5" fill="url(#gg)"/>
<circle cx="494.30" cy="208.67" r="1.5" fill="url(#gg)"/>
<polyline points="494.60,209.93 496.50,208.29 497.75,207.20 499.00,206.90 500.25,204.31 501.50,204.79 502.75,204.39 504.00,204.61 505.25,204.14 506.50,203.65 507.75,202.54 509.00,203.59 510.25,202.78 511.50,200.80 512.75,202.39 514.00,201.19 515.25,203.95 516.50,201.73 517.75,201.73 519.00,202.15 520.25,201.85 521.50,202.14 522.75,203.89 524.00,202.72 525.25,203.48 526.50,203.92 527.75,201.97 529.00,204.79 530.25,203.94 531.50,204.37 532.75,202.71 534.00,204.55 535.25,204.31 536.50,203.53 537.75,206.51 539.00,204.95 540.25,204.34 541.50,205.09 542.75,206.12 544.00,206.65 545.25,206.41 546.50,207.36 547.75,207.93 549.00,205.78 550.25,207.16 551.50,207.33 552.75,208.99 553.10,209.50 559.00,208.40 565.60,209.20 570.80,209.90 576.70,211.10 582.60,214.90 588.80,214.90 594.80,216.10 600.60,216.90 606.60,215.30 612.80,216.90 618.70,217.80 624.60,217.80 630.40,216.90 636.30,216.60 642.20,216.60 648.10,217.30 653.90,216.60 660.10,217.80 666.00,218.60 671.90,217.80" fill="none" stroke="#b0504a" stroke-width="0.9" stroke-linejoin="round"/>
<polyline points="494.30,208.67 496.50,209.59 497.75,207.56 499.00,205.10 500.25,205.62 501.50,206.96 502.75,204.84 504.00,205.11 505.25,205.34 506.50,202.52 507.75,205.37 509.00,204.58 510.25,204.58 511.50,202.46 512.75,202.65 514.00,202.93 515.25,204.03 516.50,203.89 517.75,204.04 519.00,206.11 520.25,205.61 521.50,203.25 522.75,203.40 524.00,206.32 525.25,203.96 526.50,206.07 527.75,206.41 529.00,203.91 530.25,204.31 531.50,204.78 532.75,203.70 534.00,203.61 535.25,204.35 536.50,205.91 537.75,204.40 539.00,204.74 540.25,204.47 541.50,203.39 542.75,206.81 544.00,202.21 545.25,204.24 546.50,205.69 547.75,203.35 549.00,205.75 550.25,206.53 551.50,203.99 552.75,205.27 558.30,204.90 564.90,202.20 570.80,203.50 576.70,206.90 582.60,206.40 588.80,206.00 594.80,206.90 600.60,208.50 606.60,208.90 612.80,206.00 618.70,206.00 624.60,207.20 630.40,208.20 636.30,206.90 642.20,208.90 648.10,208.20 653.90,206.50 660.10,206.00 666.00,210.20 671.90,207.20" fill="none" stroke="#40c888" stroke-width="0.9" stroke-linejoin="round"/>
<circle cx="494.60" cy="209.93" r="1.6" fill="url(#gr)"/>
<circle cx="496.50" cy="208.29" r="1.6" fill="url(#gr)"/>
<circle cx="497.75" cy="207.20" r="1.6" fill="url(#gr)"/>
<circle cx="499.00" cy="206.90" r="1.6" fill="url(#gr)"/>
<circle cx="500.25" cy="204.31" r="1.6" fill="url(#gr)"/>
<circle cx="501.50" cy="204.79" r="1.6" fill="url(#gr)"/>
<circle cx="502.75" cy="204.39" r="1.6" fill="url(#gr)"/>
<circle cx="504.00" cy="204.61" r="1.6" fill="url(#gr)"/>
<circle cx="505.25" cy="204.14" r="1.6" fill="url(#gr)"/>
<circle cx="506.50" cy="203.65" r="1.6" fill="url(#gr)"/>
<circle cx="507.75" cy="202.54" r="1.6" fill="url(#gr)"/>
<circle cx="509.00" cy="203.59" r="1.6" fill="url(#gr)"/>
<circle cx="510.25" cy="202.78" r="1.6" fill="url(#gr)"/>
<circle cx="511.50" cy="200.80" r="1.6" fill="url(#gr)"/>
<circle cx="512.75" cy="202.39" r="1.6" fill="url(#gr)"/>
<circle cx="514.00" cy="201.19" r="1.6" fill="url(#gr)"/>
<circle cx="515.25" cy="203.95" r="1.6" fill="url(#gr)"/>
<circle cx="516.50" cy="201.73" r="1.6" fill="url(#gr)"/>
<circle cx="517.75" cy="201.73" r="1.6" fill="url(#gr)"/>
<circle cx="519.00" cy="202.15" r="1.6" fill="url(#gr)"/>
<circle cx="520.25" cy="201.85" r="1.6" fill="url(#gr)"/>
<circle cx="521.50" cy="202.14" r="1.6" fill="url(#gr)"/>
<circle cx="522.75" cy="203.89" r="1.6" fill="url(#gr)"/>
<circle cx="524.00" cy="202.72" r="1.6" fill="url(#gr)"/>
<circle cx="525.25" cy="203.48" r="1.6" fill="url(#gr)"/>
<circle cx="526.50" cy="203.92" r="1.6" fill="url(#gr)"/>
<circle cx="527.75" cy="201.97" r="1.6" fill="url(#gr)"/>
<circle cx="529.00" cy="204.79" r="1.6" fill="url(#gr)"/>
<circle cx="530.25" cy="203.94" r="1.6" fill="url(#gr)"/>
<circle cx="531.50" cy="204.37" r="1.6" fill="url(#gr)"/>
<circle cx="532.75" cy="202.71" r="1.6" fill="url(#gr)"/>
<circle cx="534.00" cy="204.55" r="1.6" fill="url(#gr)"/>
<circle cx="535.25" cy="204.31" r="1.6" fill="url(#gr)"/>
<circle cx="536.50" cy="203.53" r="1.6" fill="url(#gr)"/>
<circle cx="537.75" cy="206.51" r="1.6" fill="url(#gr)"/>
<circle cx="539.00" cy="204.95" r="1.6" fill="url(#gr)"/>
<circle cx="540.25" cy="204.34" r="1.6" fill="url(#gr)"/>
<circle cx="541.50" cy="205.09" r="1.6" fill="url(#gr)"/>
<circle cx="542.75" cy="206.12" r="1.6" fill="url(#gr)"/>
<circle cx="544.00" cy="206.65" r="1.6" fill="url(#gr)"/>
<circle cx="545.25" cy="206.41" r="1.6" fill="url(#gr)"/>
<circle cx="546.50" cy="207.36" r="1.6" fill="url(#gr)"/>
<circle cx="547.75" cy="207.93" r="1.6" fill="url(#gr)"/>
<circle cx="549.00" cy="205.78" r="1.6" fill="url(#gr)"/>
<circle cx="550.25" cy="207.16" r="1.6" fill="url(#gr)"/>
<circle cx="551.50" cy="207.33" r="1.6" fill="url(#gr)"/>
<circle cx="552.75" cy="208.99" r="1.6" fill="url(#gr)"/>
<circle cx="553.10" cy="209.50" r="1.6" fill="url(#gr)"/>
<circle cx="559.00" cy="208.40" r="1.6" fill="url(#gr)"/>
<circle cx="565.60" cy="209.20" r="1.6" fill="url(#gr)"/>
<circle cx="570.80" cy="209.90" r="1.6" fill="url(#gr)"/>
<circle cx="576.70" cy="211.10" r="1.6" fill="url(#gr)"/>
<circle cx="582.60" cy="214.90" r="1.6" fill="url(#gr)"/>
<circle cx="588.80" cy="214.90" r="1.6" fill="url(#gr)"/>
<circle cx="594.80" cy="216.10" r="1.6" fill="url(#gr)"/>
<circle cx="600.60" cy="216.90" r="1.6" fill="url(#gr)"/>
<circle cx="606.60" cy="215.30" r="1.6" fill="url(#gr)"/>
<circle cx="612.80" cy="216.90" r="1.6" fill="url(#gr)"/>
<circle cx="618.70" cy="217.80" r="1.6" fill="url(#gr)"/>
<circle cx="624.60" cy="217.80" r="1.6" fill="url(#gr)"/>
<circle cx="630.40" cy="216.90" r="1.6" fill="url(#gr)"/>
<circle cx="636.30" cy="216.60" r="1.6" fill="url(#gr)"/>
<circle cx="642.20" cy="216.60" r="1.6" fill="url(#gr)"/>
<circle cx="648.10" cy="217.30" r="1.6" fill="url(#gr)"/>
<circle cx="653.90" cy="216.60" r="1.6" fill="url(#gr)"/>
<circle cx="660.10" cy="217.80" r="1.6" fill="url(#gr)"/>
<circle cx="666.00" cy="218.60" r="1.6" fill="url(#gr)"/>
<circle cx="671.90" cy="217.80" r="1.6" fill="url(#gr)"/>
<circle cx="494.30" cy="208.67" r="1.6" fill="url(#gg)"/>
<circle cx="496.50" cy="209.59" r="1.6" fill="url(#gg)"/>
<circle cx="497.75" cy="207.56" r="1.6" fill="url(#gg)"/>
<circle cx="499.00" cy="205.10" r="1.6" fill="url(#gg)"/>
<circle cx="500.25" cy="205.62" r="1.6" fill="url(#gg)"/>
<circle cx="501.50" cy="206.96" r="1.6" fill="url(#gg)"/>
<circle cx="502.75" cy="204.84" r="1.6" fill="url(#gg)"/>
<circle cx="504.00" cy="205.11" r="1.6" fill="url(#gg)"/>
<circle cx="505.25" cy="205.34" r="1.6" fill="url(#gg)"/>
<circle cx="506.50" cy="202.52" r="1.6" fill="url(#gg)"/>
<circle cx="507.75" cy="205.37" r="1.6" fill="url(#gg)"/>
<circle cx="509.00" cy="204.58" r="1.6" fill="url(#gg)"/>
<circle cx="510.25" cy="204.58" r="1.6" fill="url(#gg)"/>
<circle cx="511.50" cy="202.46" r="1.6" fill="url(#gg)"/>
<circle cx="512.75" cy="202.65" r="1.6" fill="url(#gg)"/>
<circle cx="514.00" cy="202.93" r="1.6" fill="url(#gg)"/>
<circle cx="515.25" cy="204.03" r="1.6" fill="url(#gg)"/>
<circle cx="516.50" cy="203.89" r="1.6" fill="url(#gg)"/>
<circle cx="517.75" cy="204.04" r="1.6" fill="url(#gg)"/>
<circle cx="519.00" cy="206.11" r="1.6" fill="url(#gg)"/>
<circle cx="520.25" cy="205.61" r="1.6" fill="url(#gg)"/>
<circle cx="521.50" cy="203.25" r="1.6" fill="url(#gg)"/>
<circle cx="522.75" cy="203.40" r="1.6" fill="url(#gg)"/>
<circle cx="524.00" cy="206.32" r="1.6" fill="url(#gg)"/>
<circle cx="525.25" cy="203.96" r="1.6" fill="url(#gg)"/>
<circle cx="526.50" cy="206.07" r="1.6" fill="url(#gg)"/>
<circle cx="527.75" cy="206.41" r="1.6" fill="url(#gg)"/>
<circle cx="529.00" cy="203.91" r="1.6" fill="url(#gg)"/>
<circle cx="530.25" cy="204.31" r="1.6" fill="url(#gg)"/>
<circle cx="531.50" cy="204.78" r="1.6" fill="url(#gg)"/>
<circle cx="532.75" cy="203.70" r="1.6" fill="url(#gg)"/>
<circle cx="534.00" cy="203.61" r="1.6" fill="url(#gg)"/>
<circle cx="535.25" cy="204.35" r="1.6" fill="url(#gg)"/>
<circle cx="536.50" cy="205.91" r="1.6" fill="url(#gg)"/>
<circle cx="537.75" cy="204.40" r="1.6" fill="url(#gg)"/>
<circle cx="539.00" cy="204.74" r="1.6" fill="url(#gg)"/>
<circle cx="540.25" cy="204.47" r="1.6" fill="url(#gg)"/>
<circle cx="541.50" cy="203.39" r="1.6" fill="url(#gg)"/>
<circle cx="542.75" cy="206.81" r="1.6" fill="url(#gg)"/>
<circle cx="544.00" cy="202.21" r="1.6" fill="url(#gg)"/>
<circle cx="545.25" cy="204.24" r="1.6" fill="url(#gg)"/>
<circle cx="546.50" cy="205.69" r="1.6" fill="url(#gg)"/>
<circle cx="547.75" cy="203.35" r="1.6" fill="url(#gg)"/>
<circle cx="549.00" cy="205.75" r="1.6" fill="url(#gg)"/>
<circle cx="550.25" cy="206.53" r="1.6" fill="url(#gg)"/>
<circle cx="551.50" cy="203.99" r="1.6" fill="url(#gg)"/>
<circle cx="552.75" cy="205.27" r="1.6" fill="url(#gg)"/>
<circle cx="558.30" cy="204.90" r="1.6" fill="url(#gg)"/>
<circle cx="564.90" cy="202.20" r="1.6" fill="url(#gg)"/>
<circle cx="570.80" cy="203.50" r="1.6" fill="url(#gg)"/>
<circle cx="576.70" cy="206.90" r="1.6" fill="url(#gg)"/>
<circle cx="582.60" cy="206.40" r="1.6" fill="url(#gg)"/>
<circle cx="588.80" cy="206.00" r="1.6" fill="url(#gg)"/>
<circle cx="594.80" cy="206.90" r="1.6" fill="url(#gg)"/>
<circle cx="600.60" cy="208.50" r="1.6" fill="url(#gg)"/>
<circle cx="606.60" cy="208.90" r="1.6" fill="url(#gg)"/>
<circle cx="612.80" cy="206.00" r="1.6" fill="url(#gg)"/>
<circle cx="618.70" cy="206.00" r="1.6" fill="url(#gg)"/>
<circle cx="624.60" cy="207.20" r="1.6" fill="url(#gg)"/>
<circle cx="630.40" cy="208.20" r="1.6" fill="url(#gg)"/>
<circle cx="636.30" cy="206.90" r="1.6" fill="url(#gg)"/>
<circle cx="642.20" cy="208.90" r="1.6" fill="url(#gg)"/>
<circle cx="648.10" cy="208.20" r="1.6" fill="url(#gg)"/>
<circle cx="653.90" cy="206.50" r="1.6" fill="url(#gg)"/>
<circle cx="660.10" cy="206.00" r="1.6" fill="url(#gg)"/>
<circle cx="666.00" cy="210.20" r="1.6" fill="url(#gg)"/>
<circle cx="671.90" cy="207.20" r="1.6" fill="url(#gg)"/>
<line x1="491.0" y1="327.9" x2="494.0" y2="327.9" stroke="#3c3c3c" stroke-width="1"/>
<line x1="491.0" y1="302.79999999999995" x2="494.0" y2="302.79999999999995" stroke="#3c3c3c" stroke-width="1"/>
<line x1="491.0" y1="277.7" x2="494.0" y2="277.7" stroke="#3c3c3c" stroke-width="1"/>
<line x1="491.0" y1="252.59999999999997" x2="494.0" y2="252.59999999999997" stroke="#3c3c3c" stroke-width="1"/>
<line x1="491.0" y1="227.49999999999997" x2="494.0" y2="227.49999999999997" stroke="#3c3c3c" stroke-width="1"/>
<line x1="491.0" y1="202.39999999999998" x2="494.0" y2="202.39999999999998" stroke="#3c3c3c" stroke-width="1"/>
<line x1="492.5" y1="315.34999999999997" x2="494.0" y2="315.34999999999997" stroke="#3c3c3c" stroke-width="1"/>
<line x1="492.5" y1="290.25" x2="494.0" y2="290.25" stroke="#3c3c3c" stroke-width="1"/>
<line x1="492.5" y1="265.15" x2="494.0" y2="265.15" stroke="#3c3c3c" stroke-width="1"/>
<line x1="492.5" y1="240.04999999999998" x2="494.0" y2="240.04999999999998" stroke="#3c3c3c" stroke-width="1"/>
<line x1="492.5" y1="214.95" x2="494.0" y2="214.95" stroke="#3c3c3c" stroke-width="1"/>
<text x="489.5" y="331.7" text-anchor="end" style="font-size:10.6px;font-weight:bold;fill:#1a1a1a;stroke:#1a1a1a;stroke-width:0.3px;">0.0</text>
<text x="489.5" y="306.59999999999997" text-anchor="end" style="font-size:10.6px;font-weight:bold;fill:#1a1a1a;stroke:#1a1a1a;stroke-width:0.3px;">0.2</text>
<text x="489.5" y="281.5" text-anchor="end" style="font-size:10.6px;font-weight:bold;fill:#1a1a1a;stroke:#1a1a1a;stroke-width:0.3px;">0.4</text>
<text x="489.5" y="256.4" text-anchor="end" style="font-size:10.6px;font-weight:bold;fill:#1a1a1a;stroke:#1a1a1a;stroke-width:0.3px;">0.6</text>
<text x="489.5" y="231.29999999999998" text-anchor="end" style="font-size:10.6px;font-weight:bold;fill:#1a1a1a;stroke:#1a1a1a;stroke-width:0.3px;">0.8</text>
<text x="489.5" y="206.2" text-anchor="end" style="font-size:10.6px;font-weight:bold;fill:#1a1a1a;stroke:#1a1a1a;stroke-width:0.3px;">1.0</text>
<line x1="493.8" y1="334.0" x2="493.8" y2="336.5" stroke="#3c3c3c" stroke-width="1"/>
<line x1="529.46" y1="334.0" x2="529.46" y2="336.5" stroke="#3c3c3c" stroke-width="1"/>
<line x1="565.12" y1="334.0" x2="565.12" y2="336.5" stroke="#3c3c3c" stroke-width="1"/>
<line x1="600.78" y1="334.0" x2="600.78" y2="336.5" stroke="#3c3c3c" stroke-width="1"/>
<line x1="636.44" y1="334.0" x2="636.44" y2="336.5" stroke="#3c3c3c" stroke-width="1"/>
<line x1="672.1" y1="334.0" x2="672.1" y2="336.5" stroke="#3c3c3c" stroke-width="1"/>
<line x1="511.63" y1="334.0" x2="511.63" y2="335.5" stroke="#3c3c3c" stroke-width="1"/>
<line x1="547.29" y1="334.0" x2="547.29" y2="335.5" stroke="#3c3c3c" stroke-width="1"/>
<line x1="582.95" y1="334.0" x2="582.95" y2="335.5" stroke="#3c3c3c" stroke-width="1"/>
<line x1="618.61" y1="334.0" x2="618.61" y2="335.5" stroke="#3c3c3c" stroke-width="1"/>
<line x1="654.27" y1="334.0" x2="654.27" y2="335.5" stroke="#3c3c3c" stroke-width="1"/>
<text x="493.8" y="347.2" text-anchor="middle" style="font-size:10.8px;font-weight:normal;fill:#1a1a1a;stroke:#1a1a1a;stroke-width:0.35px;">0</text>
<text x="529.46" y="347.2" text-anchor="middle" style="font-size:10.8px;font-weight:normal;fill:#1a1a1a;stroke:#1a1a1a;stroke-width:0.35px;">300</text>
<text x="565.12" y="347.2" text-anchor="middle" style="font-size:10.8px;font-weight:normal;fill:#1a1a1a;stroke:#1a1a1a;stroke-width:0.35px;">600</text>
<text x="600.78" y="347.2" text-anchor="middle" style="font-size:10.8px;font-weight:normal;fill:#1a1a1a;stroke:#1a1a1a;stroke-width:0.35px;">900</text>
<text x="636.44" y="347.2" text-anchor="middle" style="font-size:10.8px;font-weight:normal;fill:#1a1a1a;stroke:#1a1a1a;stroke-width:0.35px;">1200</text>
<text x="672.1" y="347.2" text-anchor="middle" style="font-size:10.8px;font-weight:normal;fill:#1a1a1a;stroke:#1a1a1a;stroke-width:0.35px;">1500</text>
<text x="545.0" y="361.4" textLength="76" lengthAdjust="spacingAndGlyphs" style="font-size:11.2px;font-weight:bold;fill:#1a1a1a;stroke:#1a1a1a;stroke-width:0.3px;">Delay time (ps)</text>
<text x="470.6" y="260.2" text-anchor="middle" textLength="103" lengthAdjust="spacingAndGlyphs" transform="rotate(-90 470.6 260.2)" style="font-size:11.2px;font-weight:bold;fill:#1a1a1a;stroke:#1a1a1a;stroke-width:0.3px;">Normalized Intensity</text>
<line x1="508.4" y1="307.8" x2="528.9" y2="307.8" stroke="#b85050" stroke-width="1.0"/>
<circle cx="518.50" cy="307.80" r="1.6" fill="url(#gr)"/>
<line x1="508.4" y1="319.9" x2="528.9" y2="319.9" stroke="#40c888" stroke-width="1.0"/>
<circle cx="518.50" cy="319.90" r="1.6" fill="url(#gg)"/>
<text x="532.2" y="311.2" textLength="33.3" lengthAdjust="spacingAndGlyphs" style="font-size:10px;font-weight:bold;fill:#a8474a;stroke:#a8474a;stroke-width:0.3px;">Control</text>
<text x="532.2" y="323.3" textLength="22.5" lengthAdjust="spacingAndGlyphs" style="font-size:10px;font-weight:bold;fill:#3cc680;stroke:#3cc680;stroke-width:0.3px;">ADAI</text>
<text x="586.7" y="329.2" textLength="85.5" lengthAdjust="spacingAndGlyphs" style="font-size:8px;font-weight:bold;fill:#34349a;font-style:italic;stroke:#34349a;stroke-width:0.3px;">Glass/perovskite/(ADAI)</text>
<text x="464.0" y="187.9" style="font-size:20.5px;font-weight:bold;fill:#1a1a1a;stroke:#1a1a1a;stroke-width:0.3px;">f</text>
<polyline points="42.20,437.50 216.50,403.20" fill="none" stroke="#40c888" stroke-width="1.0" stroke-linejoin="round"/>
<polyline points="49.10,467.60 216.50,424.60" fill="none" stroke="#b0504a" stroke-width="1.0" stroke-linejoin="round"/>
<circle cx="49.10" cy="437.00" r="2.7" fill="url(#gg)"/>
<circle cx="85.70" cy="426.80" r="2.7" fill="url(#gg)"/>
<circle cx="133.40" cy="418.00" r="2.7" fill="url(#gg)"/>
<circle cx="155.80" cy="414.30" r="2.7" fill="url(#gg)"/>
<circle cx="174.70" cy="411.20" r="2.7" fill="url(#gg)"/>
<circle cx="188.60" cy="408.30" r="2.7" fill="url(#gg)"/>
<circle cx="199.80" cy="405.90" r="2.7" fill="url(#gg)"/>
<circle cx="210.50" cy="404.00" r="2.7" fill="url(#gg)"/>
<circle cx="214.20" cy="403.80" r="2.7" fill="url(#gg)"/>
<circle cx="216.20" cy="403.70" r="2.7" fill="url(#gg)"/>
<circle cx="49.10" cy="467.00" r="2.7" fill="url(#gr)"/>
<circle cx="85.70" cy="453.40" r="2.7" fill="url(#gr)"/>
<circle cx="133.40" cy="442.00" r="2.7" fill="url(#gr)"/>
<circle cx="155.80" cy="436.70" r="2.7" fill="url(#gr)"/>
<circle cx="174.70" cy="432.80" r="2.7" fill="url(#gr)"/>
<circle cx="188.60" cy="430.20" r="2.7" fill="url(#gr)"/>
<circle cx="199.80" cy="427.80" r="2.7" fill="url(#gr)"/>
<circle cx="210.50" cy="426.20" r="2.7" fill="url(#gr)"/>
<circle cx="214.20" cy="425.60" r="2.7" fill="url(#gr)"/>
<circle cx="216.20" cy="425.40" r="2.7" fill="url(#gr)"/>
<rect x="41.6" y="363.2" width="179.9" height="145.0" fill="none" stroke="#3c3c3c" stroke-width="1.1"/>
<line x1="38.6" y1="507.6" x2="41.6" y2="507.6" stroke="#3c3c3c" stroke-width="1"/>
<line x1="38.6" y1="471.5" x2="41.6" y2="471.5" stroke="#3c3c3c" stroke-width="1"/>
<line x1="38.6" y1="435.4" x2="41.6" y2="435.4" stroke="#3c3c3c" stroke-width="1"/>
<line x1="38.6" y1="399.3" x2="41.6" y2="399.3" stroke="#3c3c3c" stroke-width="1"/>
<line x1="38.6" y1="363.2" x2="41.6" y2="363.2" stroke="#3c3c3c" stroke-width="1"/>
<line x1="40.1" y1="489.55" x2="41.6" y2="489.55" stroke="#3c3c3c" stroke-width="1"/>
<line x1="40.1" y1="453.45" x2="41.6" y2="453.45" stroke="#3c3c3c" stroke-width="1"/>
<line x1="40.1" y1="417.35" x2="41.6" y2="417.35" stroke="#3c3c3c" stroke-width="1"/>
<line x1="40.1" y1="381.25" x2="41.6" y2="381.25" stroke="#3c3c3c" stroke-width="1"/>
<text x="37.0" y="511.40000000000003" text-anchor="end" style="font-size:10.6px;font-weight:bold;fill:#1a1a1a;stroke:#1a1a1a;stroke-width:0.3px;">0.9</text>
<text x="37.0" y="475.3" text-anchor="end" style="font-size:10.6px;font-weight:bold;fill:#1a1a1a;stroke:#1a1a1a;stroke-width:0.3px;">1.0</text>
<text x="37.0" y="439.2" text-anchor="end" style="font-size:10.6px;font-weight:bold;fill:#1a1a1a;stroke:#1a1a1a;stroke-width:0.3px;">1.1</text>
<text x="37.0" y="403.1" text-anchor="end" style="font-size:10.6px;font-weight:bold;fill:#1a1a1a;stroke:#1a1a1a;stroke-width:0.3px;">1.2</text>
<text x="37.0" y="367.0" text-anchor="end" style="font-size:10.6px;font-weight:bold;fill:#1a1a1a;stroke:#1a1a1a;stroke-width:0.3px;">1.3</text>
<line x1="59.1" y1="508.2" x2="59.1" y2="510.7" stroke="#3c3c3c" stroke-width="1"/>
<line x1="212.7" y1="508.2" x2="212.7" y2="510.7" stroke="#3c3c3c" stroke-width="1"/>
<line x1="105.33820733398753" y1="508.2" x2="105.33820733398753" y2="509.7" stroke="#3c3c3c" stroke-width="1"/>
<line x1="132.38582472494014" y1="508.2" x2="132.38582472494014" y2="509.7" stroke="#3c3c3c" stroke-width="1"/>
<line x1="151.576414667975" y1="508.2" x2="151.576414667975" y2="509.7" stroke="#3c3c3c" stroke-width="1"/>
<line x1="166.46179266601249" y1="508.2" x2="166.46179266601249" y2="509.7" stroke="#3c3c3c" stroke-width="1"/>
<line x1="178.62403205892767" y1="508.2" x2="178.62403205892767" y2="509.7" stroke="#3c3c3c" stroke-width="1"/>
<line x1="188.90705894618986" y1="508.2" x2="188.90705894618986" y2="509.7" stroke="#3c3c3c" stroke-width="1"/>
<line x1="197.8146220019625" y1="508.2" x2="197.8146220019625" y2="509.7" stroke="#3c3c3c" stroke-width="1"/>
<line x1="205.6716494498803" y1="508.2" x2="205.6716494498803" y2="509.7" stroke="#3c3c3c" stroke-width="1"/>
<text x="59.1" y="521.0" text-anchor="middle" style="font-size:10.6px;font-weight:bold;fill:#1a1a1a;stroke:#1a1a1a;stroke-width:0.3px;">10</text>
<text x="212.7" y="521.0" text-anchor="middle" style="font-size:10.6px;font-weight:bold;fill:#1a1a1a;stroke:#1a1a1a;stroke-width:0.3px;">100</text>
<text x="64.6" y="529.0" style="font-size:10.8px;font-weight:bold;fill:#1a1a1a">Light Intensity<tspan style="font-weight:normal;stroke:#1a1a1a;stroke-width:0.3px" dx="1"> (mW cm</tspan><tspan dy="-4.8" style="font-weight:normal;font-size:10px;stroke:#1a1a1a;stroke-width:0.3px">-2</tspan><tspan dy="4.8" style="font-weight:normal;stroke:#1a1a1a;stroke-width:0.3px">)</tspan></text>
<text transform="rotate(-90 14.5 435.5)" x="14.5" y="435.5" text-anchor="middle" textLength="39.8" lengthAdjust="spacingAndGlyphs" style="font-size:11px;font-weight:bold;fill:#1a1a1a"><tspan style="font-style:italic;font-size:11.5px">V</tspan><tspan dy="3.2">OC</tspan><tspan dy="-3.2"> (V)</tspan></text>
<circle cx="55.40" cy="374.50" r="2.5" fill="url(#gr)"/>
<circle cx="55.40" cy="387.10" r="2.5" fill="url(#gg)"/>
<text x="71.2" y="378.0" textLength="93" lengthAdjust="spacingAndGlyphs" style="font-size:11.2px;font-weight:normal;fill:#b0564a;stroke:#b0564a;stroke-width:0.35px;">Control(1.84 KT/e)</text>
<text x="71.2" y="390.6" textLength="81.2" lengthAdjust="spacingAndGlyphs" style="font-size:11.2px;font-weight:normal;fill:#40b878;stroke:#40b878;stroke-width:0.35px;">ADAI(1.41 KT/e)</text>
<text x="12.6" y="360.6" style="font-size:20.5px;font-weight:bold;fill:#1a1a1a;stroke:#1a1a1a;stroke-width:0.3px;">g</text>
<polyline points="276.03,500.10 299.36,456.80 313.01,433.90 322.69,420.10 330.20,411.20 336.34,405.00 341.52,400.70 346.02,397.39 349.98,395.20 353.53,393.59 356.74,392.39 359.67,391.49 362.36,390.82 364.85,390.32 367.18,389.94 369.35,389.65 371.39,389.43 373.31,389.27 375.13,389.15 376.86,389.05 378.50,388.98 380.07,388.93 381.56,388.89 383.00,388.86 384.37,388.83 385.69,388.82 386.96,388.80 388.18,388.79 389.37,388.79 390.51,388.78 391.61,388.78 392.68,388.77 393.71,388.77 394.72,388.77 395.70,388.77 396.64,388.76 397.57,388.76 398.46,388.76 399.34,388.76 400.19,388.76 401.02,388.76 401.83,388.76 402.62,388.76 403.40,388.76 404.15,388.76 404.89,388.76 405.62,388.76 406.33,388.76 407.02,388.76 407.70,388.76 408.37,388.76 409.02,388.76 409.66,388.76 410.29,388.76 410.91,388.76 411.51,388.76 412.11,388.76 412.70,388.76 413.27,388.76 413.84,388.76 414.39,388.76 414.94,388.76 415.48,388.76 416.01,388.76 416.53,388.76 417.04,388.76 417.55,388.76 418.05,388.76 418.54,388.76 419.02,388.76 419.50,388.76 419.97,388.76 420.44,388.76 420.90,388.76 421.35,388.76 421.79,388.76 422.23,388.76 422.67,388.76 423.10,388.76 423.52,388.76 423.94,388.76 424.35,388.76 424.76,388.76 425.16,388.76 425.56,388.76 425.95,388.76 426.34,388.76 426.73,388.76 427.11,388.76 427.48,388.76 427.86,388.76 428.22,388.76 428.59,388.76 428.95,388.76 429.30,388.76 429.66,388.76 430.00,388.76 430.35,388.76 430.69,388.76 431.03,388.76 431.36,388.76 431.70,388.76 432.02,388.76 432.35,388.76 432.67,388.76 432.99,388.76 433.31,388.76 433.62,388.76 433.93,388.76 434.24,388.76 434.54,388.76 434.84,388.76 435.14,388.76 435.44,388.76 435.73,388.76 436.03,388.76 436.31,388.76 436.60,388.76 436.88,388.76 437.17,388.76 437.45,388.76 437.72,388.76 438.00,388.76 438.27,388.76 438.54,388.76 438.81,388.76 439.07,388.76 439.34,388.76 439.60,388.76 439.86,388.76 440.12,388.76 440.37,388.76 440.63,388.76 440.88,388.76 441.13,388.76 441.38,388.76 441.63,388.76 441.87,388.76 442.11,388.76 442.35,388.76 442.59,388.76 442.83,388.76 443.07,388.76 443.30,388.76 443.54,388.76 443.77,388.76 444.00,388.76 444.23,388.76 444.45,388.76 444.68,388.76 444.90,388.76 445.12,388.76 445.34,388.76 445.56,388.76 445.78,388.76 446.00,388.76 446.21,388.76" fill="none" stroke="#b0504a" stroke-width="1.0" stroke-linejoin="round"/>
<polyline points="276.03,484.20 299.36,448.10 313.01,427.50 322.69,414.10 330.20,405.00 336.34,399.50 341.52,394.80 346.02,392.35 349.98,390.46 353.53,389.10 356.74,388.11 359.67,387.39 362.36,386.85 364.85,386.47 367.18,386.18 369.35,385.97 371.39,385.81 373.31,385.70 375.13,385.61 376.86,385.55 378.50,385.51 380.07,385.47 381.56,385.45 383.00,385.43 384.37,385.42 385.69,385.41 386.96,385.40 388.18,385.39 389.37,385.39 390.51,385.39 391.61,385.38 392.68,385.38 393.71,385.38 394.72,385.38 395.70,385.38 396.64,385.38 397.57,385.38 398.46,385.38 399.34,385.38 400.19,385.38 401.02,385.38 401.83,385.38 402.62,385.38 403.40,385.38 404.15,385.38 404.89,385.38 405.62,385.38 406.33,385.38 407.02,385.38 407.70,385.38 408.37,385.38 409.02,385.38 409.66,385.38 410.29,385.38 410.91,385.38 411.51,385.38 412.11,385.38 412.70,385.38 413.27,385.38 413.84,385.38 414.39,385.38 414.94,385.38 415.48,385.38 416.01,385.38 416.53,385.38 417.04,385.38 417.55,385.38 418.05,385.38 418.54,385.38 419.02,385.38 419.50,385.38 419.97,385.38 420.44,385.38 420.90,385.38 421.35,385.38 421.79,385.38 422.23,385.38 422.67,385.38 423.10,385.38 423.52,385.38 423.94,385.38 424.35,385.38 424.76,385.38 425.16,385.38 425.56,385.38 425.95,385.38 426.34,385.38 426.73,385.38 427.11,385.38 427.48,385.38 427.86,385.38 428.22,385.38 428.59,385.38 428.95,385.38 429.30,385.38 429.66,385.38 430.00,385.38 430.35,385.38 430.69,385.38 431.03,385.38 431.36,385.38 431.70,385.38 432.02,385.38 432.35,385.38 432.67,385.38 432.99,385.38 433.31,385.38 433.62,385.38 433.93,385.38 434.24,385.38 434.54,385.38 434.84,385.38 435.14,385.38 435.44,385.38 435.73,385.38 436.03,385.38 436.31,385.38 436.60,385.38 436.88,385.38 437.17,385.38 437.45,385.38 437.72,385.38 438.00,385.38 438.27,385.38 438.54,385.38 438.81,385.38 439.07,385.38 439.34,385.38 439.60,385.38 439.86,385.38 440.12,385.38 440.37,385.38 440.63,385.38 440.88,385.38 441.13,385.38 441.38,385.38 441.63,385.38 441.87,385.38 442.11,385.38 442.35,385.38 442.59,385.38 442.83,385.38 443.07,385.38 443.30,385.38 443.54,385.38 443.77,385.38 444.00,385.38 444.23,385.38 444.45,385.38 444.68,385.38 444.90,385.38 445.12,385.38 445.34,385.38 445.56,385.38 445.78,385.38 446.00,385.38 446.21,385.38" fill="none" stroke="#40c888" stroke-width="1.0" stroke-linejoin="round"/>
<circle cx="276.03" cy="500.10" r="2.4" fill="url(#gr)"/>
<circle cx="299.36" cy="456.80" r="2.4" fill="url(#gr)"/>
<circle cx="313.01" cy="433.90" r="2.4" fill="url(#gr)"/>
<circle cx="322.69" cy="420.10" r="2.4" fill="url(#gr)"/>
<circle cx="330.20" cy="411.20" r="2.4" fill="url(#gr)"/>
<circle cx="336.34" cy="405.00" r="2.4" fill="url(#gr)"/>
<circle cx="341.52" cy="400.70" r="2.4" fill="url(#gr)"/>
<circle cx="346.02" cy="397.39" r="2.4" fill="url(#gr)"/>
<circle cx="349.98" cy="395.20" r="2.4" fill="url(#gr)"/>
<circle cx="353.53" cy="393.59" r="2.4" fill="url(#gr)"/>
<circle cx="356.74" cy="392.39" r="2.4" fill="url(#gr)"/>
<circle cx="359.67" cy="391.49" r="2.4" fill="url(#gr)"/>
<circle cx="362.36" cy="390.82" r="2.4" fill="url(#gr)"/>
<circle cx="364.85" cy="390.32" r="2.4" fill="url(#gr)"/>
<circle cx="367.18" cy="389.94" r="2.4" fill="url(#gr)"/>
<circle cx="369.35" cy="389.65" r="2.4" fill="url(#gr)"/>
<circle cx="371.39" cy="389.43" r="2.4" fill="url(#gr)"/>
<circle cx="373.31" cy="389.27" r="2.4" fill="url(#gr)"/>
<circle cx="375.13" cy="389.15" r="2.4" fill="url(#gr)"/>
<circle cx="376.86" cy="389.05" r="2.4" fill="url(#gr)"/>
<circle cx="378.50" cy="388.98" r="2.4" fill="url(#gr)"/>
<circle cx="380.07" cy="388.93" r="2.4" fill="url(#gr)"/>
<circle cx="381.56" cy="388.89" r="2.4" fill="url(#gr)"/>
<circle cx="383.00" cy="388.86" r="2.4" fill="url(#gr)"/>
<circle cx="384.37" cy="388.83" r="2.4" fill="url(#gr)"/>
<circle cx="385.69" cy="388.82" r="2.4" fill="url(#gr)"/>
<circle cx="386.96" cy="388.80" r="2.4" fill="url(#gr)"/>
<circle cx="388.18" cy="388.79" r="2.4" fill="url(#gr)"/>
<circle cx="389.37" cy="388.79" r="2.4" fill="url(#gr)"/>
<circle cx="390.51" cy="388.78" r="2.4" fill="url(#gr)"/>
<circle cx="391.61" cy="388.78" r="2.4" fill="url(#gr)"/>
<circle cx="392.68" cy="388.77" r="2.4" fill="url(#gr)"/>
<circle cx="393.71" cy="388.77" r="2.4" fill="url(#gr)"/>
<circle cx="394.72" cy="388.77" r="2.4" fill="url(#gr)"/>
<circle cx="395.70" cy="388.77" r="2.4" fill="url(#gr)"/>
<circle cx="396.64" cy="388.76" r="2.4" fill="url(#gr)"/>
<circle cx="397.57" cy="388.76" r="2.4" fill="url(#gr)"/>
<circle cx="398.46" cy="388.76" r="2.4" fill="url(#gr)"/>
<circle cx="399.34" cy="388.76" r="2.4" fill="url(#gr)"/>
<circle cx="400.19" cy="388.76" r="2.4" fill="url(#gr)"/>
<circle cx="401.02" cy="388.76" r="2.4" fill="url(#gr)"/>
<circle cx="401.83" cy="388.76" r="2.4" fill="url(#gr)"/>
<circle cx="402.62" cy="388.76" r="2.4" fill="url(#gr)"/>
<circle cx="403.40" cy="388.76" r="2.4" fill="url(#gr)"/>
<circle cx="404.15" cy="388.76" r="2.4" fill="url(#gr)"/>
<circle cx="404.89" cy="388.76" r="2.4" fill="url(#gr)"/>
<circle cx="405.62" cy="388.76" r="2.4" fill="url(#gr)"/>
<circle cx="406.33" cy="388.76" r="2.4" fill="url(#gr)"/>
<circle cx="407.02" cy="388.76" r="2.4" fill="url(#gr)"/>
<circle cx="407.70" cy="388.76" r="2.4" fill="url(#gr)"/>
<circle cx="408.37" cy="388.76" r="2.4" fill="url(#gr)"/>
<circle cx="409.02" cy="388.76" r="2.4" fill="url(#gr)"/>
<circle cx="409.66" cy="388.76" r="2.4" fill="url(#gr)"/>
<circle cx="410.29" cy="388.76" r="2.4" fill="url(#gr)"/>
<circle cx="410.91" cy="388.76" r="2.4" fill="url(#gr)"/>
<circle cx="411.51" cy="388.76" r="2.4" fill="url(#gr)"/>
<circle cx="412.11" cy="388.76" r="2.4" fill="url(#gr)"/>
<circle cx="412.70" cy="388.76" r="2.4" fill="url(#gr)"/>
<circle cx="413.27" cy="388.76" r="2.4" fill="url(#gr)"/>
<circle cx="413.84" cy="388.76" r="2.4" fill="url(#gr)"/>
<circle cx="414.39" cy="388.76" r="2.4" fill="url(#gr)"/>
<circle cx="414.94" cy="388.76" r="2.4" fill="url(#gr)"/>
<circle cx="415.48" cy="388.76" r="2.4" fill="url(#gr)"/>
<circle cx="416.01" cy="388.76" r="2.4" fill="url(#gr)"/>
<circle cx="416.53" cy="388.76" r="2.4" fill="url(#gr)"/>
<circle cx="417.04" cy="388.76" r="2.4" fill="url(#gr)"/>
<circle cx="417.55" cy="388.76" r="2.4" fill="url(#gr)"/>
<circle cx="418.05" cy="388.76" r="2.4" fill="url(#gr)"/>
<circle cx="418.54" cy="388.76" r="2.4" fill="url(#gr)"/>
<circle cx="419.02" cy="388.76" r="2.4" fill="url(#gr)"/>
<circle cx="419.50" cy="388.76" r="2.4" fill="url(#gr)"/>
<circle cx="419.97" cy="388.76" r="2.4" fill="url(#gr)"/>
<circle cx="420.44" cy="388.76" r="2.4" fill="url(#gr)"/>
<circle cx="420.90" cy="388.76" r="2.4" fill="url(#gr)"/>
<circle cx="421.35" cy="388.76" r="2.4" fill="url(#gr)"/>
<circle cx="421.79" cy="388.76" r="2.4" fill="url(#gr)"/>
<circle cx="422.23" cy="388.76" r="2.4" fill="url(#gr)"/>
<circle cx="422.67" cy="388.76" r="2.4" fill="url(#gr)"/>
<circle cx="423.10" cy="388.76" r="2.4" fill="url(#gr)"/>
<circle cx="423.52" cy="388.76" r="2.4" fill="url(#gr)"/>
<circle cx="423.94" cy="388.76" r="2.4" fill="url(#gr)"/>
<circle cx="424.35" cy="388.76" r="2.4" fill="url(#gr)"/>
<circle cx="424.76" cy="388.76" r="2.4" fill="url(#gr)"/>
<circle cx="425.16" cy="388.76" r="2.4" fill="url(#gr)"/>
<circle cx="425.56" cy="388.76" r="2.4" fill="url(#gr)"/>
<circle cx="425.95" cy="388.76" r="2.4" fill="url(#gr)"/>
<circle cx="426.34" cy="388.76" r="2.4" fill="url(#gr)"/>
<circle cx="426.73" cy="388.76" r="2.4" fill="url(#gr)"/>
<circle cx="427.11" cy="388.76" r="2.4" fill="url(#gr)"/>
<circle cx="427.48" cy="388.76" r="2.4" fill="url(#gr)"/>
<circle cx="427.86" cy="388.76" r="2.4" fill="url(#gr)"/>
<circle cx="428.22" cy="388.76" r="2.4" fill="url(#gr)"/>
<circle cx="428.59" cy="388.76" r="2.4" fill="url(#gr)"/>
<circle cx="428.95" cy="388.76" r="2.4" fill="url(#gr)"/>
<circle cx="429.30" cy="388.76" r="2.4" fill="url(#gr)"/>
<circle cx="429.66" cy="388.76" r="2.4" fill="url(#gr)"/>
<circle cx="430.00" cy="388.76" r="2.4" fill="url(#gr)"/>
<circle cx="430.35" cy="388.76" r="2.4" fill="url(#gr)"/>
<circle cx="430.69" cy="388.76" r="2.4" fill="url(#gr)"/>
<circle cx="431.03" cy="388.76" r="2.4" fill="url(#gr)"/>
<circle cx="431.36" cy="388.76" r="2.4" fill="url(#gr)"/>
<circle cx="431.70" cy="388.76" r="2.4" fill="url(#gr)"/>
<circle cx="432.02" cy="388.76" r="2.4" fill="url(#gr)"/>
<circle cx="432.35" cy="388.76" r="2.4" fill="url(#gr)"/>
<circle cx="432.67" cy="388.76" r="2.4" fill="url(#gr)"/>
<circle cx="432.99" cy="388.76" r="2.4" fill="url(#gr)"/>
<circle cx="433.31" cy="388.76" r="2.4" fill="url(#gr)"/>
<circle cx="433.62" cy="388.76" r="2.4" fill="url(#gr)"/>
<circle cx="433.93" cy="388.76" r="2.4" fill="url(#gr)"/>
<circle cx="434.24" cy="388.76" r="2.4" fill="url(#gr)"/>
<circle cx="434.54" cy="388.76" r="2.4" fill="url(#gr)"/>
<circle cx="434.84" cy="388.76" r="2.4" fill="url(#gr)"/>
<circle cx="435.14" cy="388.76" r="2.4" fill="url(#gr)"/>
<circle cx="435.44" cy="388.76" r="2.4" fill="url(#gr)"/>
<circle cx="435.73" cy="388.76" r="2.4" fill="url(#gr)"/>
<circle cx="436.03" cy="388.76" r="2.4" fill="url(#gr)"/>
<circle cx="436.31" cy="388.76" r="2.4" fill="url(#gr)"/>
<circle cx="436.60" cy="388.76" r="2.4" fill="url(#gr)"/>
<circle cx="436.88" cy="388.76" r="2.4" fill="url(#gr)"/>
<circle cx="437.17" cy="388.76" r="2.4" fill="url(#gr)"/>
<circle cx="437.45" cy="388.76" r="2.4" fill="url(#gr)"/>
<circle cx="437.72" cy="388.76" r="2.4" fill="url(#gr)"/>
<circle cx="438.00" cy="388.76" r="2.4" fill="url(#gr)"/>
<circle cx="438.27" cy="388.76" r="2.4" fill="url(#gr)"/>
<circle cx="438.54" cy="388.76" r="2.4" fill="url(#gr)"/>
<circle cx="438.81" cy="388.76" r="2.4" fill="url(#gr)"/>
<circle cx="439.07" cy="388.76" r="2.4" fill="url(#gr)"/>
<circle cx="439.34" cy="388.76" r="2.4" fill="url(#gr)"/>
<circle cx="439.60" cy="388.76" r="2.4" fill="url(#gr)"/>
<circle cx="439.86" cy="388.76" r="2.4" fill="url(#gr)"/>
<circle cx="440.12" cy="388.76" r="2.4" fill="url(#gr)"/>
<circle cx="440.37" cy="388.76" r="2.4" fill="url(#gr)"/>
<circle cx="440.63" cy="388.76" r="2.4" fill="url(#gr)"/>
<circle cx="440.88" cy="388.76" r="2.4" fill="url(#gr)"/>
<circle cx="441.13" cy="388.76" r="2.4" fill="url(#gr)"/>
<circle cx="441.38" cy="388.76" r="2.4" fill="url(#gr)"/>
<circle cx="441.63" cy="388.76" r="2.4" fill="url(#gr)"/>
<circle cx="441.87" cy="388.76" r="2.4" fill="url(#gr)"/>
<circle cx="442.11" cy="388.76" r="2.4" fill="url(#gr)"/>
<circle cx="442.35" cy="388.76" r="2.4" fill="url(#gr)"/>
<circle cx="442.59" cy="388.76" r="2.4" fill="url(#gr)"/>
<circle cx="442.83" cy="388.76" r="2.4" fill="url(#gr)"/>
<circle cx="443.07" cy="388.76" r="2.4" fill="url(#gr)"/>
<circle cx="443.30" cy="388.76" r="2.4" fill="url(#gr)"/>
<circle cx="443.54" cy="388.76" r="2.4" fill="url(#gr)"/>
<circle cx="443.77" cy="388.76" r="2.4" fill="url(#gr)"/>
<circle cx="444.00" cy="388.76" r="2.4" fill="url(#gr)"/>
<circle cx="444.23" cy="388.76" r="2.4" fill="url(#gr)"/>
<circle cx="444.45" cy="388.76" r="2.4" fill="url(#gr)"/>
<circle cx="444.68" cy="388.76" r="2.4" fill="url(#gr)"/>
<circle cx="444.90" cy="388.76" r="2.4" fill="url(#gr)"/>
<circle cx="445.12" cy="388.76" r="2.4" fill="url(#gr)"/>
<circle cx="445.34" cy="388.76" r="2.4" fill="url(#gr)"/>
<circle cx="445.56" cy="388.76" r="2.4" fill="url(#gr)"/>
<circle cx="445.78" cy="388.76" r="2.4" fill="url(#gr)"/>
<circle cx="446.00" cy="388.76" r="2.4" fill="url(#gr)"/>
<circle cx="446.21" cy="388.76" r="2.4" fill="url(#gr)"/>
<circle cx="276.03" cy="484.20" r="2.4" fill="url(#gg)"/>
<circle cx="299.36" cy="448.10" r="2.4" fill="url(#gg)"/>
<circle cx="313.01" cy="427.50" r="2.4" fill="url(#gg)"/>
<circle cx="322.69" cy="414.10" r="2.4" fill="url(#gg)"/>
<circle cx="330.20" cy="405.00" r="2.4" fill="url(#gg)"/>
<circle cx="336.34" cy="399.50" r="2.4" fill="url(#gg)"/>
<circle cx="341.52" cy="394.80" r="2.4" fill="url(#gg)"/>
<circle cx="346.02" cy="392.35" r="2.4" fill="url(#gg)"/>
<circle cx="349.98" cy="390.46" r="2.4" fill="url(#gg)"/>
<circle cx="353.53" cy="389.10" r="2.4" fill="url(#gg)"/>
<circle cx="356.74" cy="388.11" r="2.4" fill="url(#gg)"/>
<circle cx="359.67" cy="387.39" r="2.4" fill="url(#gg)"/>
<circle cx="362.36" cy="386.85" r="2.4" fill="url(#gg)"/>
<circle cx="364.85" cy="386.47" r="2.4" fill="url(#gg)"/>
<circle cx="367.18" cy="386.18" r="2.4" fill="url(#gg)"/>
<circle cx="369.35" cy="385.97" r="2.4" fill="url(#gg)"/>
<circle cx="371.39" cy="385.81" r="2.4" fill="url(#gg)"/>
<circle cx="373.31" cy="385.70" r="2.4" fill="url(#gg)"/>
<circle cx="375.13" cy="385.61" r="2.4" fill="url(#gg)"/>
<circle cx="376.86" cy="385.55" r="2.4" fill="url(#gg)"/>
<circle cx="378.50" cy="385.51" r="2.4" fill="url(#gg)"/>
<circle cx="380.07" cy="385.47" r="2.4" fill="url(#gg)"/>
<circle cx="381.56" cy="385.45" r="2.4" fill="url(#gg)"/>
<circle cx="383.00" cy="385.43" r="2.4" fill="url(#gg)"/>
<circle cx="384.37" cy="385.42" r="2.4" fill="url(#gg)"/>
<circle cx="385.69" cy="385.41" r="2.4" fill="url(#gg)"/>
<circle cx="386.96" cy="385.40" r="2.4" fill="url(#gg)"/>
<circle cx="388.18" cy="385.39" r="2.4" fill="url(#gg)"/>
<circle cx="389.37" cy="385.39" r="2.4" fill="url(#gg)"/>
<circle cx="390.51" cy="385.39" r="2.4" fill="url(#gg)"/>
<circle cx="391.61" cy="385.38" r="2.4" fill="url(#gg)"/>
<circle cx="392.68" cy="385.38" r="2.4" fill="url(#gg)"/>
<circle cx="393.71" cy="385.38" r="2.4" fill="url(#gg)"/>
<circle cx="394.72" cy="385.38" r="2.4" fill="url(#gg)"/>
<circle cx="395.70" cy="385.38" r="2.4" fill="url(#gg)"/>
<circle cx="396.64" cy="385.38" r="2.4" fill="url(#gg)"/>
<circle cx="397.57" cy="385.38" r="2.4" fill="url(#gg)"/>
<circle cx="398.46" cy="385.38" r="2.4" fill="url(#gg)"/>
<circle cx="399.34" cy="385.38" r="2.4" fill="url(#gg)"/>
<circle cx="400.19" cy="385.38" r="2.4" fill="url(#gg)"/>
<circle cx="401.02" cy="385.38" r="2.4" fill="url(#gg)"/>
<circle cx="401.83" cy="385.38" r="2.4" fill="url(#gg)"/>
<circle cx="402.62" cy="385.38" r="2.4" fill="url(#gg)"/>
<circle cx="403.40" cy="385.38" r="2.4" fill="url(#gg)"/>
<circle cx="404.15" cy="385.38" r="2.4" fill="url(#gg)"/>
<circle cx="404.89" cy="385.38" r="2.4" fill="url(#gg)"/>
<circle cx="405.62" cy="385.38" r="2.4" fill="url(#gg)"/>
<circle cx="406.33" cy="385.38" r="2.4" fill="url(#gg)"/>
<circle cx="407.02" cy="385.38" r="2.4" fill="url(#gg)"/>
<circle cx="407.70" cy="385.38" r="2.4" fill="url(#gg)"/>
<circle cx="408.37" cy="385.38" r="2.4" fill="url(#gg)"/>
<circle cx="409.02" cy="385.38" r="2.4" fill="url(#gg)"/>
<circle cx="409.66" cy="385.38" r="2.4" fill="url(#gg)"/>
<circle cx="410.29" cy="385.38" r="2.4" fill="url(#gg)"/>
<circle cx="410.91" cy="385.38" r="2.4" fill="url(#gg)"/>
<circle cx="411.51" cy="385.38" r="2.4" fill="url(#gg)"/>
<circle cx="412.11" cy="385.38" r="2.4" fill="url(#gg)"/>
<circle cx="412.70" cy="385.38" r="2.4" fill="url(#gg)"/>
<circle cx="413.27" cy="385.38" r="2.4" fill="url(#gg)"/>
<circle cx="413.84" cy="385.38" r="2.4" fill="url(#gg)"/>
<circle cx="414.39" cy="385.38" r="2.4" fill="url(#gg)"/>
<circle cx="414.94" cy="385.38" r="2.4" fill="url(#gg)"/>
<circle cx="415.48" cy="385.38" r="2.4" fill="url(#gg)"/>
<circle cx="416.01" cy="385.38" r="2.4" fill="url(#gg)"/>
<circle cx="416.53" cy="385.38" r="2.4" fill="url(#gg)"/>
<circle cx="417.04" cy="385.38" r="2.4" fill="url(#gg)"/>
<circle cx="417.55" cy="385.38" r="2.4" fill="url(#gg)"/>
<circle cx="418.05" cy="385.38" r="2.4" fill="url(#gg)"/>
<circle cx="418.54" cy="385.38" r="2.4" fill="url(#gg)"/>
<circle cx="419.02" cy="385.38" r="2.4" fill="url(#gg)"/>
<circle cx="419.50" cy="385.38" r="2.4" fill="url(#gg)"/>
<circle cx="419.97" cy="385.38" r="2.4" fill="url(#gg)"/>
<circle cx="420.44" cy="385.38" r="2.4" fill="url(#gg)"/>
<circle cx="420.90" cy="385.38" r="2.4" fill="url(#gg)"/>
<circle cx="421.35" cy="385.38" r="2.4" fill="url(#gg)"/>
<circle cx="421.79" cy="385.38" r="2.4" fill="url(#gg)"/>
<circle cx="422.23" cy="385.38" r="2.4" fill="url(#gg)"/>
<circle cx="422.67" cy="385.38" r="2.4" fill="url(#gg)"/>
<circle cx="423.10" cy="385.38" r="2.4" fill="url(#gg)"/>
<circle cx="423.52" cy="385.38" r="2.4" fill="url(#gg)"/>
<circle cx="423.94" cy="385.38" r="2.4" fill="url(#gg)"/>
<circle cx="424.35" cy="385.38" r="2.4" fill="url(#gg)"/>
<circle cx="424.76" cy="385.38" r="2.4" fill="url(#gg)"/>
<circle cx="425.16" cy="385.38" r="2.4" fill="url(#gg)"/>
<circle cx="425.56" cy="385.38" r="2.4" fill="url(#gg)"/>
<circle cx="425.95" cy="385.38" r="2.4" fill="url(#gg)"/>
<circle cx="426.34" cy="385.38" r="2.4" fill="url(#gg)"/>
<circle cx="426.73" cy="385.38" r="2.4" fill="url(#gg)"/>
<circle cx="427.11" cy="385.38" r="2.4" fill="url(#gg)"/>
<circle cx="427.48" cy="385.38" r="2.4" fill="url(#gg)"/>
<circle cx="427.86" cy="385.38" r="2.4" fill="url(#gg)"/>
<circle cx="428.22" cy="385.38" r="2.4" fill="url(#gg)"/>
<circle cx="428.59" cy="385.38" r="2.4" fill="url(#gg)"/>
<circle cx="428.95" cy="385.38" r="2.4" fill="url(#gg)"/>
<circle cx="429.30" cy="385.38" r="2.4" fill="url(#gg)"/>
<circle cx="429.66" cy="385.38" r="2.4" fill="url(#gg)"/>
<circle cx="430.00" cy="385.38" r="2.4" fill="url(#gg)"/>
<circle cx="430.35" cy="385.38" r="2.4" fill="url(#gg)"/>
<circle cx="430.69" cy="385.38" r="2.4" fill="url(#gg)"/>
<circle cx="431.03" cy="385.38" r="2.4" fill="url(#gg)"/>
<circle cx="431.36" cy="385.38" r="2.4" fill="url(#gg)"/>
<circle cx="431.70" cy="385.38" r="2.4" fill="url(#gg)"/>
<circle cx="432.02" cy="385.38" r="2.4" fill="url(#gg)"/>
<circle cx="432.35" cy="385.38" r="2.4" fill="url(#gg)"/>
<circle cx="432.67" cy="385.38" r="2.4" fill="url(#gg)"/>
<circle cx="432.99" cy="385.38" r="2.4" fill="url(#gg)"/>
<circle cx="433.31" cy="385.38" r="2.4" fill="url(#gg)"/>
<circle cx="433.62" cy="385.38" r="2.4" fill="url(#gg)"/>
<circle cx="433.93" cy="385.38" r="2.4" fill="url(#gg)"/>
<circle cx="434.24" cy="385.38" r="2.4" fill="url(#gg)"/>
<circle cx="434.54" cy="385.38" r="2.4" fill="url(#gg)"/>
<circle cx="434.84" cy="385.38" r="2.4" fill="url(#gg)"/>
<circle cx="435.14" cy="385.38" r="2.4" fill="url(#gg)"/>
<circle cx="435.44" cy="385.38" r="2.4" fill="url(#gg)"/>
<circle cx="435.73" cy="385.38" r="2.4" fill="url(#gg)"/>
<circle cx="436.03" cy="385.38" r="2.4" fill="url(#gg)"/>
<circle cx="436.31" cy="385.38" r="2.4" fill="url(#gg)"/>
<circle cx="436.60" cy="385.38" r="2.4" fill="url(#gg)"/>
<circle cx="436.88" cy="385.38" r="2.4" fill="url(#gg)"/>
<circle cx="437.17" cy="385.38" r="2.4" fill="url(#gg)"/>
<circle cx="437.45" cy="385.38" r="2.4" fill="url(#gg)"/>
<circle cx="437.72" cy="385.38" r="2.4" fill="url(#gg)"/>
<circle cx="438.00" cy="385.38" r="2.4" fill="url(#gg)"/>
<circle cx="438.27" cy="385.38" r="2.4" fill="url(#gg)"/>
<circle cx="438.54" cy="385.38" r="2.4" fill="url(#gg)"/>
<circle cx="438.81" cy="385.38" r="2.4" fill="url(#gg)"/>
<circle cx="439.07" cy="385.38" r="2.4" fill="url(#gg)"/>
<circle cx="439.34" cy="385.38" r="2.4" fill="url(#gg)"/>
<circle cx="439.60" cy="385.38" r="2.4" fill="url(#gg)"/>
<circle cx="439.86" cy="385.38" r="2.4" fill="url(#gg)"/>
<circle cx="440.12" cy="385.38" r="2.4" fill="url(#gg)"/>
<circle cx="440.37" cy="385.38" r="2.4" fill="url(#gg)"/>
<circle cx="440.63" cy="385.38" r="2.4" fill="url(#gg)"/>
<circle cx="440.88" cy="385.38" r="2.4" fill="url(#gg)"/>
<circle cx="441.13" cy="385.38" r="2.4" fill="url(#gg)"/>
<circle cx="441.38" cy="385.38" r="2.4" fill="url(#gg)"/>
<circle cx="441.63" cy="385.38" r="2.4" fill="url(#gg)"/>
<circle cx="441.87" cy="385.38" r="2.4" fill="url(#gg)"/>
<circle cx="442.11" cy="385.38" r="2.4" fill="url(#gg)"/>
<circle cx="442.35" cy="385.38" r="2.4" fill="url(#gg)"/>
<circle cx="442.59" cy="385.38" r="2.4" fill="url(#gg)"/>
<circle cx="442.83" cy="385.38" r="2.4" fill="url(#gg)"/>
<circle cx="443.07" cy="385.38" r="2.4" fill="url(#gg)"/>
<circle cx="443.30" cy="385.38" r="2.4" fill="url(#gg)"/>
<circle cx="443.54" cy="385.38" r="2.4" fill="url(#gg)"/>
<circle cx="443.77" cy="385.38" r="2.4" fill="url(#gg)"/>
<circle cx="444.00" cy="385.38" r="2.4" fill="url(#gg)"/>
<circle cx="444.23" cy="385.38" r="2.4" fill="url(#gg)"/>
<circle cx="444.45" cy="385.38" r="2.4" fill="url(#gg)"/>
<circle cx="444.68" cy="385.38" r="2.4" fill="url(#gg)"/>
<circle cx="444.90" cy="385.38" r="2.4" fill="url(#gg)"/>
<circle cx="445.12" cy="385.38" r="2.4" fill="url(#gg)"/>
<circle cx="445.34" cy="385.38" r="2.4" fill="url(#gg)"/>
<circle cx="445.56" cy="385.38" r="2.4" fill="url(#gg)"/>
<circle cx="445.78" cy="385.38" r="2.4" fill="url(#gg)"/>
<circle cx="446.00" cy="385.38" r="2.4" fill="url(#gg)"/>
<circle cx="446.21" cy="385.38" r="2.4" fill="url(#gg)"/>
<rect x="270.4" y="364.2" width="179.60000000000002" height="142.8" fill="none" stroke="#3c3c3c" stroke-width="1.1"/>
<line x1="267.4" y1="454.3" x2="270.4" y2="454.3" stroke="#3c3c3c" stroke-width="1"/>
<line x1="267.4" y1="402.1616047509985" x2="270.4" y2="402.1616047509985" stroke="#3c3c3c" stroke-width="1"/>
<line x1="267.4" y1="371.6625986825545" x2="270.4" y2="371.6625986825545" stroke="#3c3c3c" stroke-width="1"/>
<line x1="268.9" y1="492.72420343355293" x2="270.4" y2="492.72420343355293" stroke="#3c3c3c" stroke-width="1"/>
<line x1="268.9" y1="481.1290194695307" x2="270.4" y2="481.1290194695307" stroke="#3c3c3c" stroke-width="1"/>
<line x1="268.9" y1="471.0848142529954" x2="270.4" y2="471.0848142529954" stroke="#3c3c3c" stroke-width="1"/>
<line x1="268.9" y1="462.22519736510895" x2="270.4" y2="462.22519736510895" stroke="#3c3c3c" stroke-width="1"/>
<line x1="268.9" y1="447.13078693059543" x2="270.4" y2="447.13078693059543" stroke="#3c3c3c" stroke-width="1"/>
<line x1="268.9" y1="440.5858081845514" x2="270.4" y2="440.5858081845514" stroke="#3c3c3c" stroke-width="1"/>
<line x1="268.9" y1="434.56501138045587" x2="270.4" y2="434.56501138045587" stroke="#3c3c3c" stroke-width="1"/>
<line x1="268.9" y1="428.9906242205292" x2="270.4" y2="428.9906242205292" stroke="#3c3c3c" stroke-width="1"/>
<line x1="268.9" y1="423.80099393155604" x2="270.4" y2="423.80099393155604" stroke="#3c3c3c" stroke-width="1"/>
<line x1="268.9" y1="418.9464190039938" x2="270.4" y2="418.9464190039938" stroke="#3c3c3c" stroke-width="1"/>
<line x1="268.9" y1="414.386246817283" x2="270.4" y2="414.386246817283" stroke="#3c3c3c" stroke-width="1"/>
<line x1="268.9" y1="410.0868021161074" x2="270.4" y2="410.0868021161074" stroke="#3c3c3c" stroke-width="1"/>
<line x1="268.9" y1="406.01987631497" x2="270.4" y2="406.01987631497" stroke="#3c3c3c" stroke-width="1"/>
<line x1="268.9" y1="398.4916181520852" x2="270.4" y2="398.4916181520852" stroke="#3c3c3c" stroke-width="1"/>
<line x1="268.9" y1="394.99239168159386" x2="270.4" y2="394.99239168159386" stroke="#3c3c3c" stroke-width="1"/>
<line x1="268.9" y1="391.6487388017529" x2="270.4" y2="391.6487388017529" stroke="#3c3c3c" stroke-width="1"/>
<line x1="268.9" y1="388.44741293554983" x2="270.4" y2="388.44741293554983" stroke="#3c3c3c" stroke-width="1"/>
<line x1="268.9" y1="385.3767904980031" x2="270.4" y2="385.3767904980031" stroke="#3c3c3c" stroke-width="1"/>
<line x1="268.9" y1="382.42661613145435" x2="270.4" y2="382.42661613145435" stroke="#3c3c3c" stroke-width="1"/>
<line x1="268.9" y1="379.5877960476634" x2="270.4" y2="379.5877960476634" stroke="#3c3c3c" stroke-width="1"/>
<line x1="268.9" y1="376.85222897152767" x2="270.4" y2="376.85222897152767" stroke="#3c3c3c" stroke-width="1"/>
<line x1="268.9" y1="374.2126667639008" x2="270.4" y2="374.2126667639008" stroke="#3c3c3c" stroke-width="1"/>
<line x1="268.9" y1="369.196154627904" x2="270.4" y2="369.196154627904" stroke="#3c3c3c" stroke-width="1"/>
<line x1="268.9" y1="366.8080237549923" x2="270.4" y2="366.8080237549923" stroke="#3c3c3c" stroke-width="1"/>
<text x="265.8" y="375.4625986825545" text-anchor="end" style="font-size:10.6px;font-weight:bold;fill:#1a1a1a;stroke:#1a1a1a;stroke-width:0.3px;">30</text>
<text x="265.8" y="405.9616047509985" text-anchor="end" style="font-size:10.6px;font-weight:bold;fill:#1a1a1a;stroke:#1a1a1a;stroke-width:0.3px;">20</text>
<text x="265.8" y="458.1" text-anchor="end" style="font-size:10.6px;font-weight:bold;fill:#1a1a1a;stroke:#1a1a1a;stroke-width:0.3px;">10</text>
<line x1="330.2" y1="507.0" x2="330.2" y2="509.5" stroke="#3c3c3c" stroke-width="1"/>
<line x1="407.7" y1="507.0" x2="407.7" y2="509.5" stroke="#3c3c3c" stroke-width="1"/>
<line x1="276.02982466395855" y1="507.0" x2="276.02982466395855" y2="508.5" stroke="#3c3c3c" stroke-width="1"/>
<line x1="289.6768972407738" y1="507.0" x2="289.6768972407738" y2="508.5" stroke="#3c3c3c" stroke-width="1"/>
<line x1="299.35964932791705" y1="507.0" x2="299.35964932791705" y2="508.5" stroke="#3c3c3c" stroke-width="1"/>
<line x1="306.8701753360414" y1="507.0" x2="306.8701753360414" y2="508.5" stroke="#3c3c3c" stroke-width="1"/>
<line x1="313.0067219047324" y1="507.0" x2="313.0067219047324" y2="508.5" stroke="#3c3c3c" stroke-width="1"/>
<line x1="318.1950981011049" y1="507.0" x2="318.1950981011049" y2="508.5" stroke="#3c3c3c" stroke-width="1"/>
<line x1="322.6894739918756" y1="507.0" x2="322.6894739918756" y2="508.5" stroke="#3c3c3c" stroke-width="1"/>
<line x1="326.65379448154766" y1="507.0" x2="326.65379448154766" y2="508.5" stroke="#3c3c3c" stroke-width="1"/>
<line x1="353.52982466395855" y1="507.0" x2="353.52982466395855" y2="508.5" stroke="#3c3c3c" stroke-width="1"/>
<line x1="367.1768972407738" y1="507.0" x2="367.1768972407738" y2="508.5" stroke="#3c3c3c" stroke-width="1"/>
<line x1="376.85964932791705" y1="507.0" x2="376.85964932791705" y2="508.5" stroke="#3c3c3c" stroke-width="1"/>
<line x1="384.3701753360414" y1="507.0" x2="384.3701753360414" y2="508.5" stroke="#3c3c3c" stroke-width="1"/>
<line x1="390.50672190473233" y1="507.0" x2="390.50672190473233" y2="508.5" stroke="#3c3c3c" stroke-width="1"/>
<line x1="395.6950981011049" y1="507.0" x2="395.6950981011049" y2="508.5" stroke="#3c3c3c" stroke-width="1"/>
<line x1="400.1894739918756" y1="507.0" x2="400.1894739918756" y2="508.5" stroke="#3c3c3c" stroke-width="1"/>
<line x1="404.15379448154766" y1="507.0" x2="404.15379448154766" y2="508.5" stroke="#3c3c3c" stroke-width="1"/>
<line x1="431.02982466395855" y1="507.0" x2="431.02982466395855" y2="508.5" stroke="#3c3c3c" stroke-width="1"/>
<line x1="444.6768972407738" y1="507.0" x2="444.6768972407738" y2="508.5" stroke="#3c3c3c" stroke-width="1"/>
<text x="330.2" y="519.8" text-anchor="middle" style="font-size:10.6px;font-weight:bold;fill:#1a1a1a;stroke:#1a1a1a;stroke-width:0.3px;">0.1</text>
<text x="407.7" y="519.8" text-anchor="middle" style="font-size:10.6px;font-weight:bold;fill:#1a1a1a;stroke:#1a1a1a;stroke-width:0.3px;">1</text>
<text x="340.0" y="532.0" style="font-size:12px;font-weight:bold;fill:#1a1a1a">V<tspan dy="2.5" style="font-size:9.5px">eff</tspan><tspan dy="-2.5" style="font-weight:normal"> (V)</tspan></text>
<text transform="rotate(-90 247.2 436.0)" x="247.2" y="436.0" text-anchor="middle" textLength="74" lengthAdjust="spacingAndGlyphs" style="font-size:11.5px;font-weight:bold;fill:#1a1a1a"><tspan style="font-style:italic;font-size:12.5px">J</tspan><tspan dy="0.8" style="font-size:10px">ph</tspan><tspan dy="-0.8"> (mA cm</tspan><tspan dy="-4.5" style="font-size:9.5px">-2</tspan><tspan dy="4.5">)</tspan></text>
<line x1="286.0" y1="486.0" x2="310.3" y2="486.0" stroke="#b0504a" stroke-width="1.0"/>
<circle cx="298.20" cy="486.00" r="2.6" fill="url(#gr)"/>
<line x1="286.0" y1="499.0" x2="310.3" y2="499.0" stroke="#40c888" stroke-width="1.0"/>
<circle cx="298.20" cy="499.00" r="2.6" fill="url(#gg)"/>
<text x="313.3" y="490.0" textLength="38.3" lengthAdjust="spacingAndGlyphs" style="font-size:12px;font-weight:normal;fill:#a8474a;stroke:#a8474a;stroke-width:0.35px;">Control</text>
<text x="313.3" y="503.0" textLength="27.0" lengthAdjust="spacingAndGlyphs" style="font-size:12px;font-weight:normal;fill:#3cbf7e;stroke:#3cbf7e;stroke-width:0.35px;">ADAI</text>
<text x="373.2" y="474.3" style="font-size:11.5px;font-weight:bold;fill:#1a1a1a"><tspan style="font-style:italic">P</tspan><tspan dy="2.6" style="font-size:8.5px">diss</tspan></text>
<text x="420.2" y="474.3" style="font-size:11.5px;font-weight:bold;fill:#1a1a1a"><tspan style="font-style:italic">P</tspan><tspan dy="2.6" style="font-size:8.5px">coll</tspan></text>
<text x="370.3" y="489.7" textLength="29" lengthAdjust="spacingAndGlyphs" style="font-size:11px;font-weight:normal;fill:#a8474a;stroke:#a8474a;stroke-width:0.35px;">99.3%</text>
<text x="415.4" y="489.7" textLength="29.8" lengthAdjust="spacingAndGlyphs" style="font-size:11px;font-weight:normal;fill:#a8474a;stroke:#a8474a;stroke-width:0.35px;">89.9%</text>
<text x="370.3" y="502.9" textLength="29" lengthAdjust="spacingAndGlyphs" style="font-size:11px;font-weight:normal;fill:#3cbf7e;stroke:#3cbf7e;stroke-width:0.35px;">99.6%</text>
<text x="415.4" y="502.9" textLength="29.8" lengthAdjust="spacingAndGlyphs" style="font-size:11px;font-weight:normal;fill:#3cbf7e;stroke:#3cbf7e;stroke-width:0.35px;">93.3%</text>
<text x="237.8" y="359.3" style="font-size:20.5px;font-weight:bold;fill:#1a1a1a;stroke:#1a1a1a;stroke-width:0.3px;">h</text>
<polyline points="494.10,371.51 494.46,371.81 494.82,372.13 495.17,372.48 495.53,372.84 495.89,373.23 496.25,373.63 496.61,374.05 496.97,374.49 497.32,374.94 497.68,375.41 498.04,375.90 498.40,376.39 498.76,376.90 499.12,377.42 499.47,377.96 499.83,378.50 500.19,379.05 500.55,379.64 500.91,380.27 501.27,380.94 501.62,381.65 501.98,382.37 502.34,383.12 502.70,383.87 503.06,384.63 503.42,385.40 503.77,386.15 504.13,386.89 504.49,387.62 504.85,388.32 505.21,389.00 505.57,389.67 505.92,390.33 506.28,390.98 506.64,391.65 507.00,392.32 507.36,393.01 507.72,393.72 508.07,394.46 508.43,395.23 508.79,396.05 509.15,396.91 509.51,397.85 509.87,398.87 510.22,399.93 510.58,401.04 510.94,402.18 511.30,403.33 511.66,404.48 512.02,405.61 512.37,406.71 512.73,407.81 513.09,408.95 513.45,410.09 513.81,411.22 514.17,412.32 514.52,413.36 514.88,414.33 515.24,415.22 515.60,416.09 515.96,416.94 516.32,417.76 516.67,418.55 517.03,419.31 517.39,420.03 517.75,420.71 518.11,421.35 518.47,421.94 518.82,422.47 519.18,422.94 519.54,423.38 519.90,423.83 520.26,424.32 520.62,424.84 520.97,425.37 521.33,425.91 521.69,426.47 522.05,427.03 522.41,427.59 522.77,428.17 523.12,428.75 523.48,429.34 523.84,429.93 524.20,430.53 524.56,431.13 524.92,431.73 525.27,432.33 525.63,432.93 525.99,433.53 526.35,434.13 526.71,434.73 527.07,435.32 527.42,435.91 527.78,436.49 528.14,437.08 528.50,437.66 528.86,438.25 529.22,438.84 529.57,439.44 529.93,440.03 530.29,440.62 530.65,441.22 531.01,441.81 531.36,442.40 531.72,442.99 532.08,443.58 532.44,444.17 532.80,444.76 533.16,445.34 533.51,445.92 533.87,446.50 534.23,447.07 534.59,447.64 534.95,448.21 535.31,448.77 535.66,449.33 536.02,449.88 536.38,450.43 536.74,450.97 537.10,451.52 537.46,452.06 537.81,452.60 538.17,453.13 538.53,453.67 538.89,454.20 539.25,454.73 539.61,455.26 539.96,455.80 540.32,456.33 540.68,456.86 541.04,457.39 541.40,457.92 541.76,458.46 542.11,458.99 542.47,459.53 542.83,460.07 543.19,460.62 543.55,461.16 543.91,461.72 544.26,462.27 544.62,462.82 544.98,463.38 545.34,463.94 545.70,464.49 546.06,465.04 546.41,465.60 546.77,466.14 547.13,466.69 547.49,467.23 547.85,467.77 548.21,468.30 548.56,468.82 548.92,469.34 549.28,469.85 549.64,470.35 550.00,470.66 550.36,471.50 550.71,472.29 551.07,472.58 551.43,472.92 551.79,472.97 552.15,473.57 552.51,474.33 552.86,474.68 553.22,475.07 553.58,474.90 553.94,476.27 554.30,476.35 554.66,476.70 555.01,477.71 555.37,477.74 555.73,478.17 556.09,478.80 556.45,478.84 556.81,479.07 557.16,479.42 557.52,480.24 557.88,480.48 558.24,480.09 558.60,481.63 558.96,481.52 559.31,481.63 559.67,482.23 560.03,482.38 560.39,482.88 560.75,483.00 561.11,483.13 561.46,483.96 561.82,484.12 562.18,484.51 562.54,484.92 562.90,485.08 563.26,485.75 563.61,485.38 563.97,485.32 564.33,485.59 564.69,486.00 565.05,487.03 565.41,486.43 565.76,487.45 566.12,487.47 566.48,487.06 566.84,488.31 567.20,487.88 567.55,488.31 567.91,488.69 568.27,489.17 568.63,488.94 568.99,489.46 569.35,489.15 569.70,489.30 570.06,490.41 570.42,490.31 570.78,490.44 571.14,490.94 571.50,491.10 571.85,490.87 572.21,491.16 572.57,491.84 572.93,491.63 573.29,491.44 573.65,492.22 574.00,492.30 574.36,491.61 574.72,491.88 575.08,493.07 575.44,493.14 575.80,492.72 576.15,493.42 576.51,493.26 576.87,493.49 577.23,493.30 577.59,494.52 577.95,494.56 578.30,494.36 578.66,493.73 579.02,494.27 579.38,494.93 579.74,494.30 580.10,494.34 580.45,494.78 580.81,494.92 581.17,494.75 581.53,494.57 581.89,495.02 582.25,494.97 582.60,495.25 582.96,495.45 583.32,495.71 583.68,495.38 584.04,495.64 584.40,495.69 584.75,495.36 585.11,495.58 585.47,495.51 585.83,496.42 586.19,495.75 586.55,496.20 586.90,496.34 587.26,496.41 587.62,495.76 587.98,495.94 588.34,496.53 588.70,496.73 589.05,496.38 589.41,496.59 589.77,495.90 590.13,497.03 590.49,497.20 590.85,496.70 591.20,496.64 591.56,496.64 591.92,496.46 592.28,496.04 592.64,496.91 593.00,497.02 593.35,497.47 593.71,496.81 594.07,496.62 594.43,497.03 594.79,496.56 595.15,496.98 595.50,496.49 595.86,496.92 596.22,497.42 596.58,497.30 596.94,497.63 597.30,497.72 597.65,497.05 598.01,496.86 598.37,496.51 598.73,497.23 599.09,497.32 599.45,497.65 599.80,496.95 600.16,497.18 600.52,497.55 600.88,497.14 601.24,497.22 601.59,498.09 601.95,497.22 602.31,497.46 602.67,497.68 603.03,497.73 603.39,497.01 603.74,497.12 604.10,497.06 604.46,498.13 604.82,497.99 605.18,497.49 605.54,498.26 605.89,498.13 606.25,498.55 606.61,497.33 606.97,497.64 607.33,497.89 607.69,498.01 608.04,498.28 608.40,498.31 608.76,498.00 609.12,498.50 609.48,497.88 609.84,498.51 610.19,498.69 610.55,497.98 610.91,498.52 611.27,498.32 611.63,498.70 611.99,499.38 612.34,498.46 612.70,499.15 613.06,498.36 613.42,499.31 613.78,499.46 614.14,498.75 614.49,498.75 614.85,498.90 615.21,499.40 615.57,498.72 615.93,499.57 616.29,499.27 616.64,499.42 617.00,499.31 617.36,498.93 617.72,499.48 618.08,499.11 618.44,499.10 618.79,499.97 619.15,499.81 619.51,499.58 619.87,499.69 620.23,499.41 620.59,500.22 620.94,499.34 621.30,499.36 621.66,499.71 622.02,500.17 622.38,499.72 622.74,499.94 623.09,499.59 623.45,499.85 623.81,499.60 624.17,500.04 624.53,499.42 624.89,500.75 625.24,500.34 625.60,499.85 625.96,500.57 626.32,499.83 626.68,500.54 627.04,500.12 627.39,500.50 627.75,500.36 628.11,500.18 628.47,500.31 628.83,500.44 629.19,499.59 629.54,500.37 629.90,500.74 630.26,500.11 630.62,500.18 630.98,500.07 631.34,499.91 631.69,500.88 632.05,500.22 632.41,500.22 632.77,500.64 633.13,500.59 633.49,501.74 633.84,500.93 634.20,500.15 634.56,501.41 634.92,501.01 635.28,500.75 635.64,500.68 635.99,500.35 636.35,501.55 636.71,500.95 637.07,500.70 637.43,501.48 637.78,501.07 638.14,500.43 638.50,500.66 638.86,500.95 639.22,502.07 639.58,501.24 639.93,501.09 640.29,501.36 640.65,501.30 641.01,500.24 641.37,501.41 641.73,501.70 642.08,501.31 642.44,501.53 642.80,501.55 643.16,501.50 643.52,501.23 643.88,501.45 644.23,501.97 644.59,501.63 644.95,501.45 645.31,501.80 645.67,501.27 646.03,501.43 646.38,502.07 646.74,501.64 647.10,501.09 647.46,501.27 647.82,501.85 648.18,501.55 648.53,502.12 648.89,502.42 649.25,501.75 649.61,501.88 649.97,501.82 650.33,502.03 650.68,501.94 651.04,502.25 651.40,501.94 651.76,501.84 652.12,502.18 652.48,501.90 652.83,502.82 653.19,502.51 653.55,501.76 653.91,501.68 654.27,502.23 654.63,502.38 654.98,502.80 655.34,502.27 655.70,502.15 656.06,502.95 656.42,502.27 656.78,502.32 657.13,502.37 657.49,502.93 657.85,502.38 658.21,503.11 658.57,502.10 658.93,502.59 659.28,503.07 659.64,502.23 660.00,502.32 660.36,502.96 660.72,502.00 661.08,503.13 661.43,502.70 661.79,502.42 662.15,503.64 662.51,502.53 662.87,502.92 663.23,502.93 663.58,503.32 663.94,502.85 664.30,503.37 664.66,503.35 665.02,503.19 665.38,503.48 665.73,502.53 666.09,503.56 666.45,503.38 666.81,503.25 667.17,503.16 667.53,502.91 667.88,502.92 668.24,503.33 668.60,503.37 668.96,503.25 669.32,503.00 669.68,503.06 670.03,503.50 670.39,504.05 670.75,502.61 671.11,503.04 671.47,503.30 671.83,503.29 672.18,503.60 672.54,503.78 672.90,503.57" fill="none" stroke="#b0504a" stroke-width="1.3" stroke-linejoin="round"/>
<polyline points="494.10,369.30 494.46,369.52 494.82,369.77 495.17,370.05 495.53,370.36 495.89,370.69 496.25,371.04 496.61,371.41 496.97,371.80 497.32,372.23 497.68,372.69 498.04,373.18 498.40,373.71 498.76,374.27 499.12,374.85 499.47,375.45 499.83,376.08 500.19,376.74 500.55,377.46 500.91,378.24 501.27,379.07 501.62,379.94 501.98,380.84 502.34,381.74 502.70,382.65 503.06,383.53 503.42,384.38 503.77,385.21 504.13,386.02 504.49,386.83 504.85,387.63 505.21,388.43 505.57,389.24 505.92,390.07 506.28,390.91 506.64,391.77 507.00,392.66 507.36,393.56 507.72,394.49 508.07,395.42 508.43,396.38 508.79,397.35 509.15,398.34 509.51,399.35 509.87,400.38 510.22,401.42 510.58,402.52 510.94,403.66 511.30,404.82 511.66,406.00 512.02,407.18 512.37,408.33 512.73,409.45 513.09,410.52 513.45,411.55 513.81,412.57 514.17,413.57 514.52,414.55 514.88,415.52 515.24,416.49 515.60,417.45 515.96,418.41 516.32,419.37 516.67,420.33 517.03,421.28 517.39,422.23 517.75,423.17 518.11,424.11 518.47,425.04 518.82,425.98 519.18,426.91 519.54,427.83 519.90,428.76 520.26,429.68 520.62,430.61 520.97,431.54 521.33,432.46 521.69,433.39 522.05,434.32 522.41,435.25 522.77,436.18 523.12,437.12 523.48,438.06 523.84,439.01 524.20,439.95 524.56,440.89 524.92,441.84 525.27,442.78 525.63,443.72 525.99,444.67 526.35,445.62 526.71,446.56 527.07,447.51 527.42,448.46 527.78,449.40 528.14,450.35 528.50,451.30 528.86,452.24 529.22,453.19 529.57,454.14 529.93,455.08 530.29,456.03 530.65,456.98 531.01,457.94 531.36,458.91 531.72,459.88 532.08,460.86 532.44,461.84 532.80,462.83 533.16,463.81 533.51,464.78 533.87,465.76 534.23,466.73 534.59,467.69 534.95,468.64 535.31,469.58 535.66,470.50 536.02,471.41 536.38,472.31 536.74,473.19 537.10,474.05 537.46,474.89 537.81,475.73 538.17,476.58 538.53,477.44 538.89,478.30 539.25,479.15 539.61,480.00 539.96,480.84 540.32,481.67 540.68,482.49 541.04,483.28 541.40,484.06 541.76,484.82 542.11,485.54 542.47,486.24 542.83,486.91 543.19,487.54 543.55,488.13 543.91,488.68 544.26,489.18 544.62,489.65 544.98,490.10 545.34,490.55 545.70,490.99 546.06,491.42 546.41,491.84 546.77,492.26 547.13,492.66 547.49,493.06 547.85,493.45 548.21,493.83 548.56,494.20 548.92,494.57 549.28,494.92 549.64,495.27 550.00,495.61 550.36,495.93 550.71,496.25 551.07,496.56 551.43,496.86 551.79,497.15 552.15,497.43 552.51,497.71 552.86,497.97 553.22,498.22 553.58,498.47 553.94,498.70 554.30,498.92 554.66,499.14 555.01,499.34 555.37,499.54 555.73,499.72 556.09,499.89 556.45,500.06 556.81,500.22 557.16,500.37 557.52,500.53 557.88,500.68 558.24,500.83 558.60,500.97 558.96,501.12 559.31,501.26 559.67,501.39 560.03,501.53 560.39,501.66 560.75,501.79 561.11,501.91 561.46,502.04 561.82,502.16 562.18,502.27 562.54,502.39 562.90,502.50 563.26,502.61 563.61,502.71 563.97,502.82 564.33,502.92 564.69,503.01 565.05,503.11 565.41,503.20 565.76,503.29 566.12,503.37 566.48,503.45 566.84,503.53 567.20,503.61 567.55,503.68 567.91,503.75 568.27,503.81 568.63,503.88 568.99,503.94 569.35,503.99 569.70,504.05 570.06,504.10 570.42,504.15 570.78,504.19 571.14,504.24 571.50,504.29 571.85,504.34 572.21,504.38 572.57,504.43 572.93,504.47 573.29,504.52 573.65,504.56 574.00,504.60 574.36,504.65 574.72,504.69 575.08,504.73 575.44,504.78 575.80,504.82 576.15,504.86 576.51,504.90 576.87,504.94 577.23,504.98 577.59,505.02 577.95,505.05 578.30,505.09 578.66,505.13 579.02,505.17 579.38,505.20 579.74,505.24 580.10,505.27 580.45,505.31 580.81,505.34 581.17,505.38 581.53,505.41 581.89,505.45 582.25,505.48 582.60,505.51 582.96,505.54 583.32,505.57 583.68,505.60 584.04,505.63 584.40,505.66 584.75,505.69 585.11,505.72 585.47,505.75 585.83,505.78 586.19,505.81 586.55,505.83 586.90,505.86 587.26,505.89 587.62,505.91 587.98,505.94 588.34,505.96 588.70,505.98 589.05,506.01 589.41,506.03 589.77,506.05 590.13,506.08 590.49,506.10 590.85,506.12 591.20,506.14 591.56,506.16 591.92,506.18 592.28,506.20 592.64,506.22 593.00,506.24 593.35,506.25 593.71,506.27 594.07,506.29 594.43,506.30 594.79,506.32 595.15,506.33 595.50,506.35 595.86,506.36 596.22,506.38 596.58,506.39 596.94,506.40 597.30,506.42 597.65,506.43 598.01,506.44 598.37,506.45 598.73,506.46 599.09,506.47 599.45,506.48 599.80,506.49 600.16,506.50 600.52,506.51 600.88,506.52 601.24,506.53 601.59,506.53 601.95,506.54 602.31,506.55 602.67,506.56 603.03,506.57 603.39,506.58 603.74,506.58 604.10,506.59 604.46,506.60 604.82,506.61 605.18,506.61 605.54,506.62 605.89,506.63 606.25,506.64 606.61,506.64 606.97,506.65 607.33,506.66 607.69,506.66 608.04,506.67 608.40,506.68 608.76,506.68 609.12,506.69 609.48,506.70 609.84,506.70 610.19,506.71 610.55,506.71 610.91,506.72 611.27,506.73 611.63,506.73 611.99,506.74 612.34,506.74 612.70,506.75 613.06,506.75 613.42,506.76 613.78,506.77 614.14,506.77 614.49,506.78 614.85,506.78 615.21,506.79 615.57,506.79 615.93,506.80 616.29,506.80 616.64,506.80 617.00,506.81 617.36,506.81 617.72,506.82 618.08,506.82 618.44,506.83 618.79,506.83 619.15,506.83 619.51,506.84 619.87,506.84 620.23,506.85 620.59,506.85 620.94,506.85 621.30,506.86 621.66,506.86 622.02,506.86 622.38,506.87 622.74,506.87 623.09,506.87 623.45,506.88 623.81,506.88 624.17,506.88 624.53,506.88 624.89,506.89 625.24,506.89 625.60,506.89 625.96,506.89 626.32,506.90 626.68,506.90 627.04,506.90 627.39,506.90 627.75,506.91 628.11,506.91 628.47,506.91 628.83,506.91 629.19,506.91 629.54,506.92 629.90,506.92 630.26,506.92 630.62,506.92 630.98,506.92 631.34,506.93 631.69,506.93 632.05,506.93 632.41,506.93 632.77,506.93 633.13,506.93 633.49,506.94 633.84,506.94 634.20,506.94 634.56,506.94 634.92,506.94 635.28,506.94 635.64,506.95 635.99,506.95 636.35,506.95 636.71,506.95 637.07,506.95 637.43,506.95 637.78,506.96 638.14,506.96 638.50,506.96 638.86,506.96 639.22,506.96 639.58,506.96 639.93,506.97 640.29,506.97 640.65,506.97 641.01,506.97 641.37,506.97 641.73,506.97 642.08,506.98 642.44,506.98 642.80,506.98 643.16,506.98 643.52,506.98 643.88,506.98 644.23,506.98 644.59,506.99 644.95,506.99 645.31,506.99 645.67,506.99 646.03,506.99 646.38,506.99 646.74,506.99 647.10,507.00 647.46,507.00 647.82,507.00 648.18,507.00 648.53,507.00 648.89,507.00 649.25,507.00 649.61,507.00 649.97,507.01 650.33,507.01 650.68,507.01 651.04,507.01 651.40,507.01 651.76,507.01 652.12,507.01 652.48,507.01 652.83,507.01 653.19,507.02 653.55,507.02 653.91,507.02 654.27,507.02 654.63,507.02 654.98,507.02 655.34,507.02 655.70,507.02 656.06,507.02 656.42,507.02 656.78,507.03 657.13,507.03 657.49,507.03 657.85,507.03 658.21,507.03 658.57,507.03 658.93,507.03 659.28,507.03 659.64,507.03 660.00,507.03 660.36,507.03 660.72,507.03 661.08,507.04 661.43,507.04 661.79,507.04 662.15,507.04 662.51,507.04 662.87,507.04 663.23,507.04 663.58,507.04 663.94,507.04 664.30,507.04 664.66,507.04 665.02,507.04 665.38,507.04 665.73,507.04 666.09,507.04 666.45,507.04 666.81,507.04 667.17,507.04 667.53,507.04 667.88,507.04 668.24,507.04 668.60,507.05 668.96,507.05 669.32,507.05 669.68,507.05 670.03,507.05 670.39,507.05 670.75,507.05 671.11,507.05 671.47,507.05 671.83,507.05 672.18,507.05 672.54,507.05 672.90,507.05" fill="none" stroke="#3cc884" stroke-width="1.3" stroke-linejoin="round"/>
<rect x="493.6" y="363.1" width="179.89999999999998" height="145.0" fill="none" stroke="#3c3c3c" stroke-width="1.1"/>
<line x1="490.6" y1="507.6" x2="493.6" y2="507.6" stroke="#3c3c3c" stroke-width="1"/>
<line x1="490.6" y1="479.94" x2="493.6" y2="479.94" stroke="#3c3c3c" stroke-width="1"/>
<line x1="490.6" y1="452.28000000000003" x2="493.6" y2="452.28000000000003" stroke="#3c3c3c" stroke-width="1"/>
<line x1="490.6" y1="424.62" x2="493.6" y2="424.62" stroke="#3c3c3c" stroke-width="1"/>
<line x1="490.6" y1="396.96000000000004" x2="493.6" y2="396.96000000000004" stroke="#3c3c3c" stroke-width="1"/>
<line x1="490.6" y1="369.3" x2="493.6" y2="369.3" stroke="#3c3c3c" stroke-width="1"/>
<line x1="492.1" y1="493.77000000000004" x2="493.6" y2="493.77000000000004" stroke="#3c3c3c" stroke-width="1"/>
<line x1="492.1" y1="466.11" x2="493.6" y2="466.11" stroke="#3c3c3c" stroke-width="1"/>
<line x1="492.1" y1="438.45000000000005" x2="493.6" y2="438.45000000000005" stroke="#3c3c3c" stroke-width="1"/>
<line x1="492.1" y1="410.79" x2="493.6" y2="410.79" stroke="#3c3c3c" stroke-width="1"/>
<line x1="492.1" y1="383.13" x2="493.6" y2="383.13" stroke="#3c3c3c" stroke-width="1"/>
<text x="489.5" y="511.40000000000003" text-anchor="end" style="font-size:10.6px;font-weight:bold;fill:#1a1a1a;stroke:#1a1a1a;stroke-width:0.3px;">0.0</text>
<text x="489.5" y="483.74" text-anchor="end" style="font-size:10.6px;font-weight:bold;fill:#1a1a1a;stroke:#1a1a1a;stroke-width:0.3px;">0.2</text>
<text x="489.5" y="456.08000000000004" text-anchor="end" style="font-size:10.6px;font-weight:bold;fill:#1a1a1a;stroke:#1a1a1a;stroke-width:0.3px;">0.4</text>
<text x="489.5" y="428.42" text-anchor="end" style="font-size:10.6px;font-weight:bold;fill:#1a1a1a;stroke:#1a1a1a;stroke-width:0.3px;">0.6</text>
<text x="489.5" y="400.76000000000005" text-anchor="end" style="font-size:10.6px;font-weight:bold;fill:#1a1a1a;stroke:#1a1a1a;stroke-width:0.3px;">0.8</text>
<text x="489.5" y="373.1" text-anchor="end" style="font-size:10.6px;font-weight:bold;fill:#1a1a1a;stroke:#1a1a1a;stroke-width:0.3px;">1.0</text>
<line x1="494.1" y1="508.1" x2="494.1" y2="510.6" stroke="#3c3c3c" stroke-width="1"/>
<line x1="531.35" y1="508.1" x2="531.35" y2="510.6" stroke="#3c3c3c" stroke-width="1"/>
<line x1="568.6" y1="508.1" x2="568.6" y2="510.6" stroke="#3c3c3c" stroke-width="1"/>
<line x1="605.85" y1="508.1" x2="605.85" y2="510.6" stroke="#3c3c3c" stroke-width="1"/>
<line x1="643.1" y1="508.1" x2="643.1" y2="510.6" stroke="#3c3c3c" stroke-width="1"/>
<line x1="512.725" y1="508.1" x2="512.725" y2="509.6" stroke="#3c3c3c" stroke-width="1"/>
<line x1="549.975" y1="508.1" x2="549.975" y2="509.6" stroke="#3c3c3c" stroke-width="1"/>
<line x1="587.225" y1="508.1" x2="587.225" y2="509.6" stroke="#3c3c3c" stroke-width="1"/>
<line x1="624.475" y1="508.1" x2="624.475" y2="509.6" stroke="#3c3c3c" stroke-width="1"/>
<line x1="661.725" y1="508.1" x2="661.725" y2="509.6" stroke="#3c3c3c" stroke-width="1"/>
<text x="494.1" y="520.7" text-anchor="middle" style="font-size:10.6px;font-weight:bold;fill:#1a1a1a;stroke:#1a1a1a;stroke-width:0.3px;">0</text>
<text x="531.35" y="520.7" text-anchor="middle" style="font-size:10.6px;font-weight:bold;fill:#1a1a1a;stroke:#1a1a1a;stroke-width:0.3px;">1</text>
<text x="568.6" y="520.7" text-anchor="middle" style="font-size:10.6px;font-weight:bold;fill:#1a1a1a;stroke:#1a1a1a;stroke-width:0.3px;">2</text>
<text x="605.85" y="520.7" text-anchor="middle" style="font-size:10.6px;font-weight:bold;fill:#1a1a1a;stroke:#1a1a1a;stroke-width:0.3px;">3</text>
<text x="643.1" y="520.7" text-anchor="middle" style="font-size:10.6px;font-weight:bold;fill:#1a1a1a;stroke:#1a1a1a;stroke-width:0.3px;">4</text>
<text x="560.6" y="533.0" textLength="46" lengthAdjust="spacingAndGlyphs" style="font-size:11px;font-weight:bold;fill:#1a1a1a;stroke:#1a1a1a;stroke-width:0.3px;">Time (µs)</text>
<text x="471.0" y="435.0" text-anchor="middle" textLength="130" lengthAdjust="spacingAndGlyphs" transform="rotate(-90 471.0 435.0)" style="font-size:11px;font-weight:bold;fill:#1a1a1a;stroke:#1a1a1a;stroke-width:0.3px;">Norm. photocurrent (a.u.)</text>
<line x1="603.9" y1="376.5" x2="626.2" y2="376.5" stroke="#b85050" stroke-width="1.3"/>
<line x1="603.9" y1="388.6" x2="626.2" y2="388.6" stroke="#40c888" stroke-width="1.3"/>
<text x="628.7" y="379.8" textLength="33.3" lengthAdjust="spacingAndGlyphs" style="font-size:10px;font-weight:bold;fill:#a8474a;stroke:#a8474a;stroke-width:0.3px;">Control</text>
<text x="628.7" y="391.9" textLength="22.5" lengthAdjust="spacingAndGlyphs" style="font-size:10px;font-weight:bold;fill:#3cc680;stroke:#3cc680;stroke-width:0.3px;">ADAI</text>
<text x="557.0" y="477.0" textLength="34.4" lengthAdjust="spacingAndGlyphs" style="font-size:11px;font-weight:normal;fill:#a8474a;stroke:#a8474a;stroke-width:0.35px;">1.05 µs</text>
<text x="504.9" y="494.8" textLength="35.8" lengthAdjust="spacingAndGlyphs" style="font-size:11px;font-weight:normal;fill:#3cbf7e;stroke:#3cbf7e;stroke-width:0.35px;">0.56 µs</text>
<text x="463.0" y="358.0" style="font-size:20.5px;font-weight:bold;fill:#1a1a1a;stroke:#1a1a1a;stroke-width:0.3px;">i</text>
</svg>
</body></html>
